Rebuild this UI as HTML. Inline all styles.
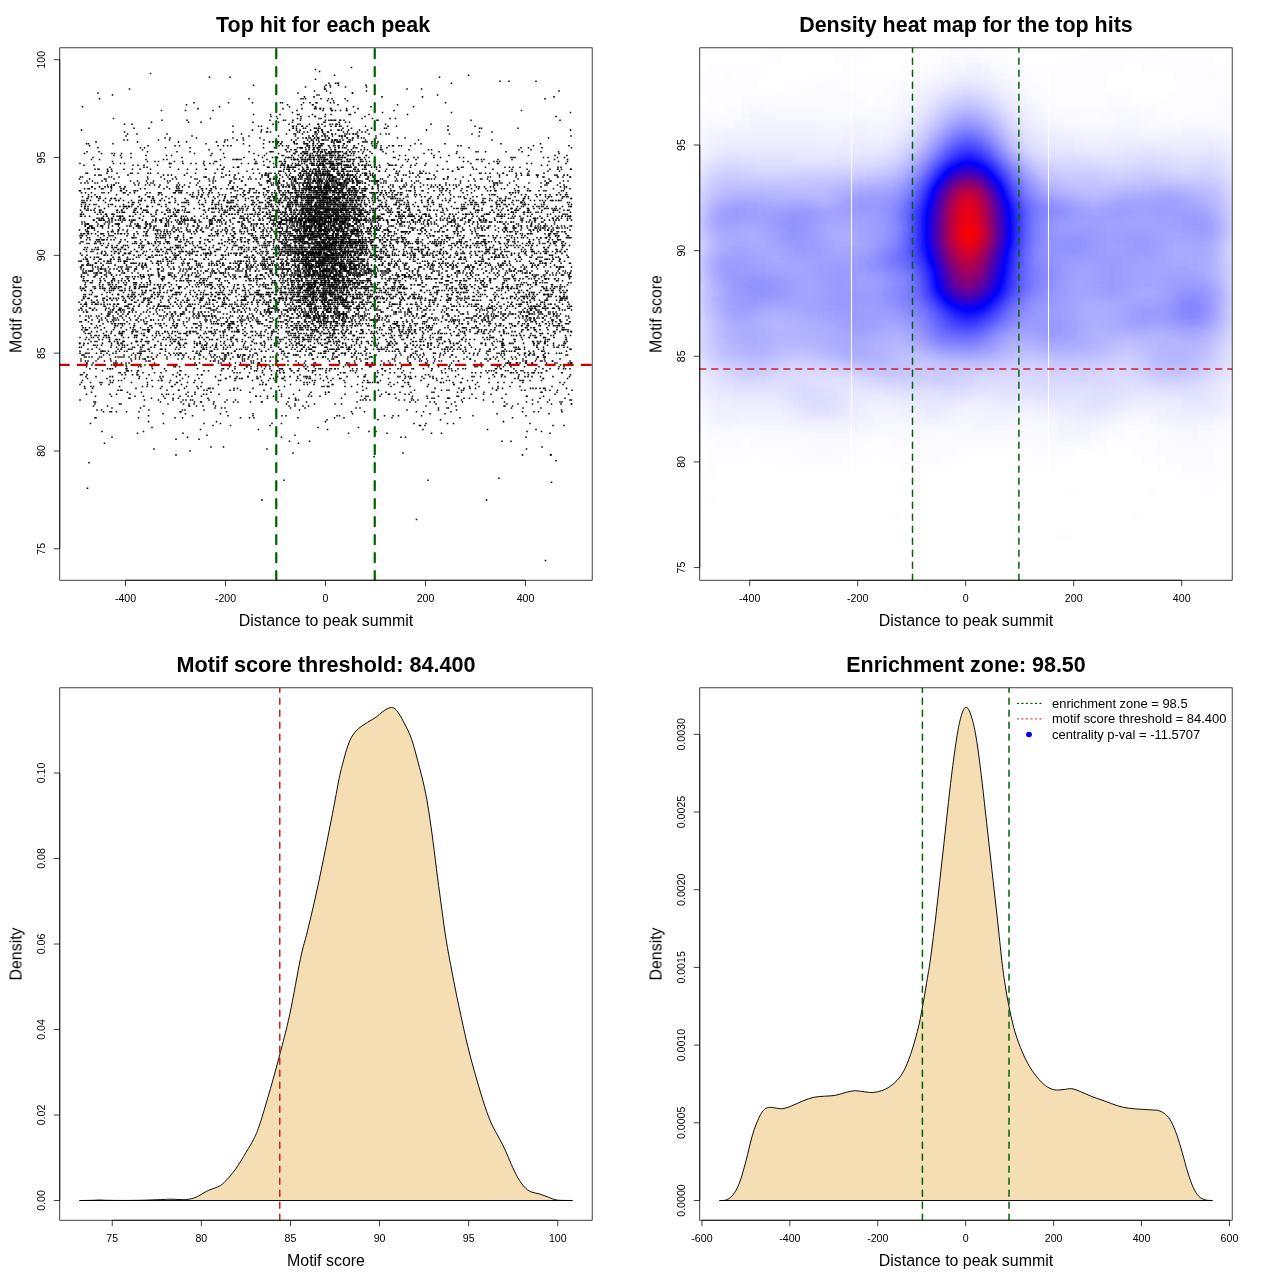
<!DOCTYPE html>
<html><head><meta charset="utf-8"><title>Motif enrichment</title>
<style>html,body{margin:0;padding:0;background:#fff}svg{display:block}text{font-family:"Liberation Sans",sans-serif;fill:#000}</style>
</head><body>
<svg width="1280" height="1280" viewBox="0 0 1280 1280">
<rect width="1280" height="1280" fill="#fff"/>
<defs><filter id="noop" filterUnits="userSpaceOnUse" x="0" y="0" width="1280" height="1280" color-interpolation-filters="sRGB"><feOffset dx="0" dy="0"/></filter><clipPath id="c1"><rect x="59.76" y="47.81" width="532.43" height="532.43"/></clipPath><clipPath id="c2"><rect x="699.76" y="47.81" width="532.43" height="532.43"/></clipPath><clipPath id="c3"><rect x="59.76" y="687.81" width="532.43" height="532.43"/></clipPath><clipPath id="c4"><rect x="699.76" y="687.81" width="532.43" height="532.43"/></clipPath><filter id="heat" filterUnits="userSpaceOnUse" x="666.5" y="14.5" width="599.0" height="599.0" color-interpolation-filters="sRGB"><feGaussianBlur stdDeviation="4"/><feComponentTransfer><feFuncR type="table" tableValues="1 0 1"/><feFuncG type="table" tableValues="1 0 0"/><feFuncB type="table" tableValues="1 1 0"/></feComponentTransfer></filter></defs>
<g id="p1">
<g clip-path="url(#c1)"><g stroke="#000" stroke-width="1.52" stroke-linecap="square" fill="none"><path d="M545.5 560.52h0M87.5 488.14h0M499 478.36h0M176 454.88h0M293 452.92h0M267 449.01h0M542 447.06h0M309.5 441.19h0M199 439.23h0M401 437.27h0M295 435.32h0M387 433.36h0M102 431.4h0m425 0h0M327.5 429.45h0M152 427.49h0M230.5 425.54h0m194.5 0h0M163.5 423.58h0m118 0h0m172 0h0M325.5 421.62h0M440.5 419.67h0M175 417.71h0m79 0h0m138 0h0M192.5 415.75h0m93.5 0h0m107 0h0m133 0h0M253 413.8h0m244 0h0M111.5 411.84h0m68.5 0h0m184.5 0h0m158 0h0M97 409.89h0m88 0h0m253.5 0h0M140.5 407.93h0m150 0h0m148 0h0m84.5 0h0M144 405.97h0m59 0h0m100 0h0m201 0h0M119.5 404.02h0m69.5 0h0m106 0h0m141 0h0m96.5 0h0m39 0h0M181 402.06h0m33 0h0m36.5 0h0m37.5 0h0m127.5 0h0m39.5 0h0m71.5 0h0m35.5 0h0M173 400.1h0m19.5 0h0m103 0h0m67.5 0h0m41.5 0h0m57 0h0m108.5 0h0M151.5 398.15h0m56.5 0h0m133.5 0h0m86 0h0m20.5 0h0m28 0h0M95.5 396.19h0m68 0h0m38 0h0m66 0h0m44 0h0m56.5 0h0m70.5 0h0m88.5 0h0M116.5 394.23h0m52 0h0m35 0h0m90 0h0m88 0h0m23.5 0h0m86 0h0M91.5 392.28h0m103.5 0h0m130.5 0h0m60.5 0h0m48 0h0m107 0h0M120.5 390.32h0m58.5 0h0m55 0h0m65.5 0h0m142 0h0m22 0h0m61.5 0h0m47 0h0M160.5 388.37h0m49.5 0h0m43 0h0m206 0h0m33.5 0h0m40.5 0h0m12 0h0M93.5 386.41h0m59 0h0m34 0h0m98 0h0m43 0h0m35 0h0m47.5 0h0m88 0h0M80 384.45h0m95 0h0m87.5 0h0m41.5 0h0m29 0h0m75.5 0h0m67 0h0M100 382.5h0m31.5 0h0m46 0h0m85.5 0h0m51.5 0h0m53 0h0m10 0h0m20 0h0m43 0h0m20 0h0m37.5 0h0m62 0h0M113.5 380.54h0m45 0h0m21.5 0h0m40.5 0h0m48 0h0m32 0h0m30.5 0h0m49.5 0h0m66 0h0m73.5 0h0m21.5 0h0M139 378.58h0m60 0h0m37 0h0m21 0h0m25 0h0m24.5 0h0m21 0h0m61 0h0m35.5 0h0m38.5 0h0m80.5 0h0M96 376.63h0m64 0h0m55.5 0h0m32.5 0h0m36.5 0h0m21.5 0h0m41 0h0m30 0h0m31.5 0h0m21.5 0h0m42 0h0m29.5 0h0m26.5 0h0m41.5 0h0M122 374.67h0m16 0h0m42 0h0m22 0h0m98 0h0m65.5 0h0m63 0h0m74 0h0M84 372.72h0m53 0h0m40.5 0h0m72 0h0m34.5 0h0m56.5 0h0m34.5 0h0m27 0h0m70 0h0m24 0h0m17.5 0h0m18.5 0h0m9.5 0h0M102.5 370.76h0m29 0h0m48.5 0h0m41.5 0h0m35 0h0m21 0h0m14 0h0m21 0h0m17 0h0m48 0h0m54 0h0m54.5 0h0m19.5 0h0m17.5 0h0M90 368.8h0m20.5 0h0m42 0h0m71 0h0m27.5 0h0m28.5 0h0m10.5 0h0m16 0h0m16.5 0h0m12.5 0h0m22 0h0m33 0h0m23.5 0h0m31.5 0h0m18 0h0m37.5 0h0m42.5 0h0m22.5 0h0M126.5 366.85h0m47.5 0h0m61 0h0m22.5 0h0m20.5 0h0m65.5 0h0m58 0h0m73.5 0h0m24.5 0h0m39.5 0h0M105 364.89h0m26.5 0h0m25.5 0h0m34.5 0h0m11.5 0h0m56.5 0h0m28.5 0h0m27 0h0m80.5 0h0m43.5 0h0m23 0h0m31.5 0h0m22 0h0m32 0h0M87 362.93h0m30 0h0m37.5 0h0m66.5 0h0m30.5 0h0m8 0h0m56 0h0m33.5 0h0m18.5 0h0m22.5 0h0m20.5 0h0m41 0h0m56.5 0h0m8.5 0h0m10 0h0m28.5 0h0m16.5 0h0M85.5 360.98h0m25.5 0h0m37.5 0h0m66.5 0h0m27.5 0h0m19 0h0m16.5 0h0m51.5 0h0m31.5 0h0m47 0h0m26.5 0h0m24 0h0m40 0h0m28 0h0m18.5 0h0M81 359.02h0m54.5 0h0m9.5 0h0m33 0h0m21.5 0h0m23 0h0m20 0h0m19 0h0m66.5 0h0m32 0h0m34.5 0h0m32 0h0m44 0h0m20 0h0m26 0h0m43.5 0h0M92 357.07h0m26 0h0m11 0h0m19.5 0h0m35 0h0m28 0h0m13 0h0m14 0h0m10.5 0h0m21.5 0h0m29.5 0h0m23 0h0m14 0h0m19.5 0h0m39 0h0m23 0h0m31.5 0h0m47 0h0m29 0h0m17.5 0h0M83 355.11h0m41 0h0m33.5 0h0m21 0h0m20.5 0h0m16 0h0m13.5 0h0m14.5 0h0m7 0h0m34 0h0m12.5 0h0m15 0h0m33.5 0h0m31 0h0m35.5 0h0m28.5 0h0m33.5 0h0m31 0h0m25 0h0m14 0h0M85.5 353.15h0m15.5 0h0m32.5 0h0m7.5 0h0m33 0h0m7 0h0m18.5 0h0m28 0h0m4 0h0m50 0h0m28.5 0h0m11 0h0m13 0h0m11.5 0h0m13 0h0m41.5 0h0m33.5 0h0m11.5 0h0m33 0h0m23.5 0h0m24 0h0m19.5 0h0m16.5 0h0M102.5 351.2h0m13.5 0h0m24 0h0m9.5 0h0m51 0h0m11.5 0h0m49.5 0h0m20.5 0h0m18.5 0h0m23.5 0h0m11.5 0h0m29 0h0m24.5 0h0m15.5 0h0m40 0h0m21.5 0h0m24 0h0m16.5 0h0m8.5 0h0m27 0h0M92 349.24h0m29.5 0h0m19.5 0h0m20 0h0m18 0h0m27.5 0h0m19.5 0h0m19.5 0h0m14 0h0m32 0h0m10.5 0h0m8 0h0m21.5 0h0m5.5 0h0m11.5 0h0m6 0h0m23 0h0m6.5 0h0m14 0h0m24 0h0m22.5 0h0m9.5 0h0m11.5 0h0m24.5 0h0m27 0h0m7.5 0h0m46.5 0h0M111 347.28h0m21.5 0h0m18.5 0h0m33.5 0h0m22 0h0m17 0h0m22 0h0m33 0h0m18.5 0h0m11.5 0h0m7 0h0m22.5 0h0m8.5 0h0m13.5 0h0m25.5 0h0m20.5 0h0m13.5 0h0m18.5 0h0m13 0h0m20.5 0h0m42.5 0h0m23 0h0m20 0h0M83.5 345.33h0m18 0h0m23 0h0m19.5 0h0m22 0h0m17.5 0h0m21 0h0m8 0h0m13 0h0m18 0h0m27.5 0h0m25 0h0m9 0h0m26 0h0m20.5 0h0m25.5 0h0m17.5 0h0m22.5 0h0m11 0h0m33 0h0m41 0h0m35 0h0m25 0h0M84 343.37h0m33.5 0h0m14 0h0m46.5 0h0m8.5 0h0m14 0h0m32.5 0h0m27.5 0h0m16.5 0h0m19.5 0h0m18 0h0m12.5 0h0m15.5 0h0m19 0h0m17 0h0m14 0h0m18 0h0m21 0h0m22 0h0m27.5 0h0m21 0h0m9 0h0m23 0h0m11 0h0M91 341.41h0m19 0h0m13.5 0h0m13 0h0m10 0h0m24 0h0m24 0h0m30 0h0m21 0h0m19 0h0m30.5 0h0m13.5 0h0m20 0h0m7.5 0h0m3.5 0h0m27 0h0m24 0h0m23 0h0m10 0h0m26 0h0m44.5 0h0m21 0h0m22.5 0h0m7.5 0h0M85.5 339.46h0m24 0h0m32 0h0m24.5 0h0m10 0h0m28 0h0m13 0h0m14 0h0m11.5 0h0m37 0h0m12 0h0m12 0h0m3.5 0h0m9.5 0h0m8 0h0m14 0h0m18 0h0m29.5 0h0m25 0h0m19.5 0h0m18.5 0h0m17 0h0m21.5 0h0m15.5 0h0m42.5 0h0m21 0h0M93.5 337.5h0m15 0h0m26 0h0m29.5 0h0m14 0h0m24 0h0m21.5 0h0m25 0h0m22 0h0m16 0h0m11.5 0h0m4.5 0h0m9 0h0m15.5 0h0m3 0h0m6 0h0m21.5 0h0m14.5 0h0m20.5 0h0m21.5 0h0m19 0h0m8.5 0h0m48.5 0h0m3.5 0h0m41.5 0h0m9 0h0M91 335.55h0m13.5 0h0m10.5 0h0m20 0h0m9.5 0h0m25 0h0m31 0h0m26.5 0h0m25.5 0h0m8.5 0h0m28 0h0m10 0h0m11.5 0h0m19.5 0h0m13.5 0h0m10.5 0h0m30 0h0m17 0h0m21.5 0h0m35 0h0m43.5 0h0m15.5 0h0m7.5 0h0m16.5 0h0m30 0h0M103.5 333.59h0m17.5 0h0m20.5 0h0m21 0h0m18 0h0m9.5 0h0m16.5 0h0m17 0h0m37 0h0m17.5 0h0m17 0h0m9 0h0m9 0h0m11 0h0m5.5 0h0m5 0h0m8 0h0m8.5 0h0m15.5 0h0m11 0h0m13 0h0m18 0h0m7.5 0h0m19 0h0m9.5 0h0m20 0h0m18.5 0h0m23.5 0h0m33.5 0h0m15 0h0M106.5 331.63h0m17.5 0h0m13.5 0h0m19 0h0m11 0h0m19.5 0h0m6 0h0m16 0h0m11 0h0m12 0h0m6.5 0h0m14 0h0m19.5 0h0m14 0h0m12 0h0m20 0h0m16 0h0m12 0h0m16.5 0h0m14 0h0m26 0h0m12 0h0m24 0h0m24 0h0m16 0h0m14.5 0h0m19 0h0m41.5 0h0m17.5 0h0M85.5 329.68h0m28 0h0m29.5 0h0m6.5 0h0m75.5 0h0m18 0h0m49 0h0m8 0h0m8 0h0m6.5 0h0m9.5 0h0m10.5 0h0m12.5 0h0m15.5 0h0m27 0h0m10 0h0m12 0h0m14 0h0m24.5 0h0m29 0h0m12 0h0m31 0h0m12.5 0h0m13.5 0h0m16 0h0M85.5 327.72h0m19 0h0m29 0h0m28.5 0h0m24.5 0h0m14.5 0h0m28 0h0m7.5 0h0m33.5 0h0m19 0h0m8 0h0m5.5 0h0m13 0h0m7.5 0h0m8 0h0m16 0h0m42 0h0m10 0h0m21 0h0m7 0h0m18 0h0m18.5 0h0m10.5 0h0m21 0h0m30.5 0h0m9 0h0m29.5 0h0M115 325.76h0m19 0h0m26 0h0m14.5 0h0m24.5 0h0m29 0h0m14 0h0m25 0h0m14.5 0h0m11 0h0m8 0h0m7 0h0m8 0h0m6 0h0m11 0h0m5 0h0m9.5 0h0m8.5 0h0m13.5 0h0m14.5 0h0m14 0h0m6.5 0h0m22.5 0h0m6 0h0m43.5 0h0m20.5 0h0m16 0h0m3 0h0m13 0h0m25 0h0m6 0h0M103 323.81h0m15.5 0h0m6 0h0m22 0h0m17.5 0h0m19.5 0h0m13.5 0h0m18.5 0h0m6 0h0m7.5 0h0m4.5 0h0m24.5 0h0m27.5 0h0m11 0h0m15 0h0m10 0h0m9 0h0m9 0h0m13 0h0m7.5 0h0m23.5 0h0m11.5 0h0m8.5 0h0m14 0h0m19 0h0m26 0h0m26.5 0h0m12 0h0m17 0h0m10 0h0m18 0h0m13.5 0h0M80 321.85h0m19 0h0m28 0h0m47 0h0m32 0h0m20 0h0m6 0h0m9 0h0m16.5 0h0m13 0h0m10 0h0m11 0h0m8 0h0m9 0h0m8.5 0h0m4 0h0m3 0h0m4 0h0m3.5 0h0m5 0h0m8 0h0m5 0h0m10 0h0m27.5 0h0m10.5 0h0m10 0h0m19 0h0m25 0h0m16.5 0h0m19 0h0m32 0h0m16.5 0h0m13 0h0m13 0h0M85.5 319.9h0m16.5 0h0m14 0h0m20 0h0m15 0h0m11.5 0h0m17 0h0m27.5 0h0m20.5 0h0m17.5 0h0m13 0h0m27 0h0m19.5 0h0m9.5 0h0m6.5 0h0m7 0h0m14 0h0m4 0h0m15 0h0m9.5 0h0m3.5 0h0m8.5 0h0m30 0h0m26.5 0h0m14 0h0m5 0h0m17.5 0h0m10.5 0h0m18.5 0h0m26.5 0h0m21.5 0h0m8 0h0M101.5 317.94h0m16 0h0m28.5 0h0m40.5 0h0m12 0h0m22 0h0m17.5 0h0m13 0h0m21.5 0h0m18 0h0m6 0h0m11.5 0h0m5.5 0h0m2.5 0h0m3.5 0h0m4.5 0h0m2 0h0m7 0h0m6 0h0m5 0h0m6.5 0h0m13.5 0h0m15.5 0h0m22 0h0m27.5 0h0m6 0h0m31.5 0h0m4.5 0h0m13.5 0h0m10 0h0m21 0h0m14 0h0m4.5 0h0m9 0h0m26 0h0M91 315.98h0m17 0h0m13.5 0h0m27.5 0h0m17 0h0m14.5 0h0m19 0h0m7 0h0m6 0h0m20 0h0m15 0h0m16 0h0m17 0h0m7.5 0h0m15.5 0h0m3 0h0m2.5 0h0m5 0h0m4.5 0h0m2.5 0h0m4 0h0m6 0h0m7 0h0m2 0h0m6 0h0m7.5 0h0m7 0h0m4 0h0m15 0h0m8 0h0m25.5 0h0m9.5 0h0m20.5 0h0m15.5 0h0m21.5 0h0m7 0h0m8.5 0h0m7.5 0h0m19.5 0h0m4.5 0h0m19.5 0h0m12.5 0h0M108 314.03h0m15 0h0m30.5 0h0m18 0h0m9.5 0h0m12.5 0h0m9 0h0m47 0h0m16.5 0h0m19 0h0m12.5 0h0m9.5 0h0m8.5 0h0m6 0h0m13.5 0h0m4.5 0h0m3 0h0m1.5 0h0m2 0h0m12.5 0h0m18.5 0h0m28 0h0m12 0h0m29.5 0h0m16 0h0m21 0h0m17.5 0h0m8 0h0m4 0h0m16.5 0h0m9.5 0h0m11 0h0m7 0h0M87.5 312.07h0m28.5 0h0m13 0h0m14.5 0h0m21 0h0m18.5 0h0m15.5 0h0m10 0h0m22 0h0m10.5 0h0m19.5 0h0m8.5 0h0m2.5 0h0m16 0h0m14.5 0h0m4 0h0m6.5 0h0m5.5 0h0m5 0h0m5.5 0h0m1.5 0h0m4.5 0h0m4.5 0h0m4.5 0h0m15.5 0h0m24 0h0m13 0h0m12 0h0m14 0h0m45.5 0h0m31 0h0m22.5 0h0m6 0h0m11 0h0m10.5 0h0M79 310.11h0m14 0h0m20 0h0m7 0h0m12 0h0m27.5 0h0m34 0h0m22.5 0h0m28.5 0h0m20 0h0m4.5 0h0m10 0h0m8 0h0m6.5 0h0m4 0h0m12 0h0m6 0h0m10.5 0h0m2 0h0m8.5 0h0m21 0h0m8.5 0h0m13 0h0m29 0h0m15.5 0h0m10.5 0h0m18.5 0h0m24 0h0m10.5 0h0m36 0h0m8 0h0m8 0h0m26 0h0M89.5 308.16h0m19.5 0h0m19 0h0m25 0h0m16.5 0h0m25 0h0m15 0h0m23 0h0m14 0h0m23.5 0h0m7.5 0h0m18 0h0m9 0h0m9 0h0m1.5 0h0m9 0h0m5 0h0m2.5 0h0m5 0h0m9 0h0m3.5 0h0m7 0h0m5.5 0h0m9 0h0m27.5 0h0m13.5 0h0m15.5 0h0m54.5 0h0m8.5 0h0m2.5 0h0m23 0h0m17 0h0m10 0h0m5.5 0h0m10.5 0h0M83 306.2h0m30.5 0h0m13.5 0h0m12 0h0m19.5 0h0m4.5 0h0m4 0h0m14.5 0h0m9.5 0h0m23 0h0m15 0h0m12 0h0m28.5 0h0m16.5 0h0m13 0h0m8 0h0m2 0h0m7 0h0m8.5 0h0m1.5 0h0m4.5 0h0m12.5 0h0m3 0h0m4.5 0h0m8.5 0h0m14.5 0h0m18 0h0m34 0h0m18 0h0m10.5 0h0m13.5 0h0m9 0h0m15.5 0h0m9 0h0m12 0h0m18 0h0m5 0h0m8.5 0h0m23 0h0M84.5 304.25h0m7.5 0h0m6 0h0m12 0h0m8 0h0m13.5 0h0m27 0h0m22 0h0m14.5 0h0m14.5 0h0m14.5 0h0m8 0h0m11 0h0m14.5 0h0m11 0h0m19 0h0m14.5 0h0m6.5 0h0m2.5 0h0m4 0h0m8.5 0h0m5 0h0m3 0h0m6 0h0m4.5 0h0m5.5 0h0m11.5 0h0m8 0h0m25.5 0h0m2.5 0h0m12 0h0m10 0h0m21 0h0m33.5 0h0m18 0h0m22 0h0m9.5 0h0m19.5 0h0m10.5 0h0M79 302.29h0m15.5 0h0m31 0h0m16.5 0h0m9.5 0h0m24 0h0m24.5 0h0m22.5 0h0m25.5 0h0m10.5 0h0m9.5 0h0m9.5 0h0m15 0h0m7.5 0h0m5 0h0m5.5 0h0m3 0h0m8 0h0m3 0h0m3 0h0m6.5 0h0m6.5 0h0m3 0h0m4 0h0m4 0h0m4.5 0h0m6.5 0h0m8.5 0h0m13 0h0m16.5 0h0m32.5 0h0m32.5 0h0m42.5 0h0m19 0h0m15.5 0h0M82 300.33h0m25 0h0m16 0h0m15 0h0m11 0h0m29 0h0m11 0h0m12 0h0m12 0h0m2 0h0m26.5 0h0m2 0h0m2.5 0h0m14.5 0h0m14.5 0h0m8 0h0m8.5 0h0m7 0h0m.5 0h0m6.5 0h0m7 0h0m0 0h0m3.5 0h0m4 0h0m3 0h0m2.5 0h0m4.5 0h0m2.5 0h0m5 0h0m4.5 0h0m2.5 0h0m2 0h0m21.5 0h0m33 0h0m24 0h0m7.5 0h0m14 0h0m10 0h0m17 0h0m7 0h0m37 0h0m22 0h0m8 0h0m14.5 0h0M88 298.38h0m22 0h0m8.5 0h0m25.5 0h0m6 0h0m26 0h0m25.5 0h0m17.5 0h0m8 0h0m18.5 0h0m29 0h0m6 0h0m5.5 0h0m6 0h0m12.5 0h0m2.5 0h0m6 0h0m9 0h0m4.5 0h0m8.5 0h0m3.5 0h0m4 0h0m10.5 0h0m2 0h0m5 0h0m14 0h0m3.5 0h0m6.5 0h0m9 0h0m10 0h0m12 0h0m5 0h0m16 0h0m15 0h0m14 0h0m37 0h0m12.5 0h0m9.5 0h0m10 0h0m28 0h0m5 0h0M96.5 296.42h0m26.5 0h0m9 0h0m8.5 0h0m17 0h0m11.5 0h0m27 0h0m19.5 0h0m28.5 0h0m10.5 0h0m9 0h0m19 0h0m11.5 0h0m5 0h0m5 0h0m4 0h0m5 0h0m3 0h0m4 0h0m2.5 0h0m3 0h0m6.5 0h0m5 0h0m3.5 0h0m1 0h0m11 0h0m10 0h0m7.5 0h0m7 0h0m16.5 0h0m16.5 0h0m9 0h0m28.5 0h0m21 0h0m12 0h0m18 0h0m18 0h0m8 0h0m8 0h0m16.5 0h0m11 0h0M84 294.46h0m18 0h0m16.5 0h0m15.5 0h0m18 0h0m20.5 0h0m4 0h0m20.5 0h0m8.5 0h0m7 0h0m10.5 0h0m16 0h0m12 0h0m7 0h0m3 0h0m5 0h0m4.5 0h0m10 0h0m7 0h0m7.5 0h0m4 0h0m9 0h0m2 0h0m3 0h0m4.5 0h0m4.5 0h0m2 0h0m2.5 0h0m4 0h0m1 0h0m2.5 0h0m4.5 0h0m7 0h0m5 0h0m6.5 0h0m4.5 0h0m6 0h0m19 0h0m9.5 0h0m10 0h0m10 0h0m21 0h0m15 0h0m30.5 0h0m19 0h0m28 0h0m14.5 0h0m3 0h0m3.5 0h0M107 292.51h0m25.5 0h0m12.5 0h0m12.5 0h0m9.5 0h0m11.5 0h0m16.5 0h0m21 0h0m6.5 0h0m23 0h0m12.5 0h0m10.5 0h0m8 0h0m6 0h0m2.5 0h0m7 0h0m5.5 0h0m5 0h0m5.5 0h0m4 0h0m1 0h0m3 0h0m3.5 0h0m3 0h0m2.5 0h0m2.5 0h0m2 0h0m2.5 0h0m2.5 0h0m6.5 0h0m2 0h0m6 0h0m15.5 0h0m10 0h0m9.5 0h0m14.5 0h0m6 0h0m30 0h0m3 0h0m21 0h0m6.5 0h0m13.5 0h0m39.5 0h0m11.5 0h0m10 0h0m24.5 0h0M85.5 290.55h0m24 0h0m12 0h0m10 0h0m18.5 0h0m20.5 0h0m23 0h0m30 0h0m12.5 0h0m12.5 0h0m29 0h0m12 0h0m8.5 0h0m6.5 0h0m2.5 0h0m1.5 0h0m5 0h0m4 0h0m6 0h0m2.5 0h0m4 0h0m5 0h0m2 0h0m6.5 0h0m4.5 0h0m17.5 0h0m6.5 0h0m14 0h0m34.5 0h0m6.5 0h0m12 0h0m13 0h0m25.5 0h0m21.5 0h0m22.5 0h0m24 0h0m6.5 0h0m15 0h0M83 288.59h0m17 0h0m9.5 0h0m6 0h0m19 0h0m19.5 0h0m19.5 0h0m37.5 0h0m13.5 0h0m20.5 0h0m24 0h0m16 0h0m6 0h0m5.5 0h0m4 0h0m1.5 0h0m5.5 0h0m3 0h0m1.5 0h0m6 0h0m6 0h0m5.5 0h0m3.5 0h0m3 0h0m5 0h0m2.5 0h0m3.5 0h0m4 0h0m7 0h0m7 0h0m3 0h0m16 0h0m8.5 0h0m7.5 0h0m4 0h0m7 0h0m39 0h0m10.5 0h0m4.5 0h0m16 0h0m20.5 0h0m9 0h0m6 0h0m27.5 0h0m9.5 0h0M80.5 286.64h0m14.5 0h0m16.5 0h0m7.5 0h0m15.5 0h0m7 0h0m5 0h0m13.5 0h0m19 0h0m8 0h0m18.5 0h0m13.5 0h0m15 0h0m29.5 0h0m18 0h0m11.5 0h0m6 0h0m3.5 0h0m6.5 0h0m2 0h0m3 0h0m3.5 0h0m9.5 0h0m4 0h0m4 0h0m1.5 0h0m5 0h0m4.5 0h0m2 0h0m8.5 0h0m6.5 0h0m5.5 0h0m6.5 0h0m18 0h0m7 0h0m24 0h0m14 0h0m22 0h0m11.5 0h0m13 0h0m12.5 0h0m10.5 0h0m12.5 0h0m26.5 0h0m13.5 0h0M99.5 284.68h0m13 0h0m21.5 0h0m13.5 0h0m10.5 0h0m13.5 0h0m26.5 0h0m10.5 0h0m3 0h0m23 0h0m14.5 0h0m13.5 0h0m5.5 0h0m14.5 0h0m9.5 0h0m6 0h0m5 0h0m3 0h0m2.5 0h0m2.5 0h0m3 0h0m1.5 0h0m5.5 0h0m1.5 0h0m3 0h0m4 0h0m2.5 0h0m1 0h0m.5 0h0m5 0h0m4.5 0h0m3 0h0m6.5 0h0m7 0h0m15.5 0h0m19.5 0h0m16.5 0h0m7 0h0m26.5 0h0m17 0h0m13.5 0h0m12 0h0m31 0h0m10 0h0m23.5 0h0M85.5 282.73h0m22.5 0h0m15.5 0h0m12 0h0m15 0h0m46.5 0h0m6.5 0h0m18 0h0m42.5 0h0m11 0h0m9 0h0m10.5 0h0m9.5 0h0m4 0h0m2.5 0h0m3.5 0h0m1.5 0h0m3 0h0m4 0h0m2.5 0h0m3.5 0h0m4 0h0m4 0h0m3.5 0h0m4.5 0h0m5.5 0h0m4.5 0h0m3 0h0m2 0h0m3 0h0m8.5 0h0m14 0h0m10 0h0m41 0h0m14.5 0h0m30 0h0m22.5 0h0m21 0h0m12 0h0m11 0h0M84.5 280.77h0m16 0h0m11.5 0h0m13 0h0m25 0h0m30 0h0m8 0h0m11.5 0h0m19.5 0h0m27 0h0m11 0h0m22.5 0h0m8 0h0m5.5 0h0m6 0h0m2.5 0h0m6 0h0m7 0h0m1 0h0m5.5 0h0m3 0h0m1.5 0h0m3.5 0h0m6 0h0m1 0h0m3 0h0m3 0h0m4.5 0h0m3.5 0h0m1.5 0h0m6 0h0m5.5 0h0m5 0h0m21.5 0h0m10.5 0h0m46 0h0m9.5 0h0m8.5 0h0m13.5 0h0m5.5 0h0m23.5 0h0m30.5 0h0m25.5 0h0M113 278.81h0m9 0h0m12 0h0m27.5 0h0m2.5 0h0m24 0h0m17 0h0m14.5 0h0m29 0h0m7.5 0h0m4 0h0m20.5 0h0m10 0h0m7.5 0h0m8 0h0m8.5 0h0m5.5 0h0m4 0h0m4.5 0h0m3 0h0m2 0h0m1.5 0h0m2.5 0h0m5 0h0m1.5 0h0m5.5 0h0m6 0h0m13 0h0m17 0h0m8 0h0m17 0h0m15.5 0h0m5.5 0h0m5.5 0h0m15.5 0h0m23 0h0m14.5 0h0m5.5 0h0m13 0h0m11.5 0h0m14.5 0h0m11.5 0h0m8.5 0h0M81.5 276.86h0m13.5 0h0m31 0h0m9 0h0m8.5 0h0m15.5 0h0m13 0h0m16.5 0h0m20 0h0m22 0h0m9 0h0m7 0h0m17.5 0h0m19.5 0h0m10.5 0h0m6 0h0m5 0h0m1 0h0m6 0h0m6.5 0h0m3.5 0h0m2.5 0h0m2.5 0h0m.5 0h0m4 0h0m1 0h0m2 0h0m4.5 0h0m2.5 0h0m2.5 0h0m10.5 0h0m16.5 0h0m5.5 0h0m22 0h0m6.5 0h0m4 0h0m9.5 0h0m11.5 0h0m19 0h0m38.5 0h0m26 0h0m22 0h0m34 0h0M95.5 274.9h0m16 0h0m29 0h0m8 0h0m10 0h0m11.5 0h0m15 0h0m11.5 0h0m32.5 0h0m18 0h0m13.5 0h0m2 0h0m14.5 0h0m7 0h0m7 0h0m6.5 0h0m1.5 0h0m5.5 0h0m3.5 0h0m2.5 0h0m3 0h0m1.5 0h0m4.5 0h0m2.5 0h0m2.5 0h0m2.5 0h0m3.5 0h0m4.5 0h0m3.5 0h0m2.5 0h0m8 0h0m4 0h0m4.5 0h0m3.5 0h0m1.5 0h0m9.5 0h0m11 0h0m14 0h0m5.5 0h0m2.5 0h0m10 0h0m11.5 0h0m25 0h0m19.5 0h0m24.5 0h0m19 0h0m22 0h0m13.5 0h0m12.5 0h0M83 272.94h0m11 0h0m6 0h0m9 0h0m15.5 0h0m34 0h0m20 0h0m19.5 0h0m17 0h0m6 0h0m4.5 0h0m40 0h0m10 0h0m11.5 0h0m9 0h0m7 0h0m5.5 0h0m4.5 0h0m2 0h0m3 0h0m5 0h0m4 0h0m4 0h0m2 0h0m6.5 0h0m1.5 0h0m7.5 0h0m3.5 0h0m5 0h0m3 0h0m6 0h0m3 0h0m13 0h0m6.5 0h0m29 0h0m24.5 0h0m18 0h0m10.5 0h0m23.5 0h0m13.5 0h0m18 0h0m21 0h0m13 0h0m11 0h0M90 270.99h0m8.5 0h0m20.5 0h0m15.5 0h0m28.5 0h0m34.5 0h0m10 0h0m11.5 0h0m21 0h0m10 0h0m20 0h0m12.5 0h0m8.5 0h0m7 0h0m5.5 0h0m4 0h0m2.5 0h0m4.5 0h0m2.5 0h0m4.5 0h0m1 0h0m1 0h0m2 0h0m.5 0h0m2.5 0h0m1 0h0m4 0h0m2.5 0h0m3 0h0m1 0h0m4.5 0h0m1.5 0h0m2 0h0m3 0h0m9 0h0m6 0h0m5 0h0m4 0h0m8 0h0m6 0h0m20.5 0h0m9 0h0m20.5 0h0m19.5 0h0m5 0h0m23 0h0m23 0h0m4.5 0h0m8 0h0m26 0h0m23 0h0M98 269.03h0m4 0h0m12 0h0m13.5 0h0m9 0h0m22 0h0m15.5 0h0m12 0h0m5 0h0m17.5 0h0m18 0h0m7 0h0m13.5 0h0m16 0h0m5 0h0m9 0h0m5 0h0m3 0h0m4.5 0h0m8 0h0m4.5 0h0m5 0h0m2.5 0h0m3 0h0m8 0h0m3.5 0h0m3 0h0m3 0h0m3.5 0h0m1 0h0m6 0h0m1 0h0m2.5 0h0m1 0h0m5 0h0m2 0h0m1.5 0h0m3.5 0h0m7 0h0m4 0h0m6.5 0h0m13.5 0h0m16.5 0h0m10.5 0h0m16 0h0m22 0h0m24.5 0h0m19 0h0m18.5 0h0m22.5 0h0M81.5 267.08h0m20 0h0m20.5 0h0m14.5 0h0m10 0h0m32.5 0h0m21.5 0h0m28.5 0h0m10 0h0m11 0h0m2.5 0h0m13 0h0m15.5 0h0m14.5 0h0m3.5 0h0m7 0h0m3 0h0m1.5 0h0m1.5 0h0m4.5 0h0m1 0h0m2 0h0m7 0h0m5.5 0h0m3 0h0m6 0h0m2.5 0h0m2 0h0m5.5 0h0m4 0h0m4 0h0m6 0h0m20 0h0m19.5 0h0m15.5 0h0m10.5 0h0m17 0h0m9 0h0m11 0h0m5 0h0m13 0h0m15.5 0h0m25.5 0h0m17.5 0h0m15.5 0h0m4 0h0M87 265.12h0m5.5 0h0m46.5 0h0m7 0h0m42 0h0m21 0h0m8.5 0h0m21 0h0m12.5 0h0m11 0h0m7 0h0m3.5 0h0m9.5 0h0m4.5 0h0m9 0h0m8 0h0m3 0h0m2.5 0h0m4 0h0m3.5 0h0m3.5 0h0m3.5 0h0m6 0h0m5.5 0h0m.5 0h0m5 0h0m1.5 0h0m7 0h0m1.5 0h0m4.5 0h0m3 0h0m6.5 0h0m14.5 0h0m9.5 0h0m8.5 0h0m28 0h0m9 0h0m17 0h0m20 0h0m19.5 0h0m12.5 0h0m29.5 0h0m13.5 0h0M95.5 263.16h0m11.5 0h0m17.5 0h0m9.5 0h0m11.5 0h0m15.5 0h0m21 0h0m7 0h0m20 0h0m11 0h0m10.5 0h0m9.5 0h0m15 0h0m12.5 0h0m13 0h0m6.5 0h0m8 0h0m8 0h0m3 0h0m3 0h0m7 0h0m1.5 0h0m2.5 0h0m1 0h0m1.5 0h0m2.5 0h0m4 0h0m2 0h0m1 0h0m3.5 0h0m2.5 0h0m2.5 0h0m3 0h0m6 0h0m2 0h0m2.5 0h0m8 0h0m21 0h0m12.5 0h0m11.5 0h0m22 0h0m13 0h0m6 0h0m16 0h0m21.5 0h0m12.5 0h0m11.5 0h0m30.5 0h0m5.5 0h0m24 0h0M81 261.21h0m23 0h0m6.5 0h0m14 0h0m33 0h0m10 0h0m27.5 0h0m22 0h0m21 0h0m3.5 0h0m8 0h0m14.5 0h0m9.5 0h0m13 0h0m6.5 0h0m2 0h0m4 0h0m3.5 0h0m3.5 0h0m2.5 0h0m1 0h0m1.5 0h0m2 0h0m2 0h0m4 0h0m1.5 0h0m1 0h0m2 0h0m1.5 0h0m2.5 0h0m3 0h0m2.5 0h0m2.5 0h0m1 0h0m5.5 0h0m5 0h0m4.5 0h0m4 0h0m7 0h0m5 0h0m24 0h0m9 0h0m24.5 0h0m18 0h0m35.5 0h0m26.5 0h0m15 0h0m21.5 0h0m23 0h0M87 259.25h0m14 0h0m17.5 0h0m11.5 0h0m33 0h0m12.5 0h0m9.5 0h0m19.5 0h0m21 0h0m28.5 0h0m12.5 0h0m4 0h0m8 0h0m9 0h0m7 0h0m4.5 0h0m4.5 0h0m3.5 0h0m.5 0h0m6 0h0m5.5 0h0m3.5 0h0m1.5 0h0m1.5 0h0m2 0h0m1.5 0h0m3 0h0m1 0h0m1 0h0m2.5 0h0m4 0h0m7 0h0m6.5 0h0m4.5 0h0m3 0h0m6.5 0h0m10.5 0h0m3 0h0m32 0h0m27.5 0h0m19.5 0h0m21.5 0h0m12.5 0h0m42 0h0m11 0h0m12.5 0h0M94.5 257.29h0m24.5 0h0m20 0h0m11.5 0h0m19.5 0h0m10.5 0h0m65 0h0m6.5 0h0m16.5 0h0m5 0h0m20.5 0h0m4 0h0m5 0h0m3.5 0h0m2 0h0m5.5 0h0m.5 0h0m3 0h0m3 0h0m2.5 0h0m2.5 0h0m1.5 0h0m2 0h0m2 0h0m3.5 0h0m2.5 0h0m4 0h0m1.5 0h0m5.5 0h0m3.5 0h0m6.5 0h0m14 0h0m7.5 0h0m8 0h0m23.5 0h0m11.5 0h0m21 0h0m17 0h0m10 0h0m21.5 0h0m5 0h0m7 0h0m16 0h0m20 0h0m18.5 0h0M82 255.34h0m25.5 0h0m31 0h0m17 0h0m18.5 0h0m12 0h0m15 0h0m14.5 0h0m10 0h0m14.5 0h0m21 0h0m19.5 0h0m8.5 0h0m6 0h0m3.5 0h0m5.5 0h0m2 0h0m4.5 0h0m3.5 0h0m4.5 0h0m1 0h0m5.5 0h0m1.5 0h0m1.5 0h0m1 0h0m3 0h0m2 0h0m3 0h0m4.5 0h0m2 0h0m6.5 0h0m1 0h0m4.5 0h0m5.5 0h0m11 0h0m2 0h0m11.5 0h0m7 0h0m10.5 0h0m8 0h0m12 0h0m6.5 0h0m13 0h0m29 0h0m24.5 0h0m7 0h0m15.5 0h0m32.5 0h0M97.5 253.38h0m17 0h0m11 0h0m17.5 0h0m32 0h0m17 0h0m15 0h0m4.5 0h0m24.5 0h0m6 0h0m25 0h0m9 0h0m5.5 0h0m7 0h0m7 0h0m2.5 0h0m2 0h0m2.5 0h0m4.5 0h0m2 0h0m2.5 0h0m1.5 0h0m2 0h0m2 0h0m1.5 0h0m2 0h0m3.5 0h0m1.5 0h0m6.5 0h0m3 0h0m3.5 0h0m4.5 0h0m1.5 0h0m3.5 0h0m7 0h0m6 0h0m4.5 0h0m9.5 0h0m17.5 0h0m17.5 0h0m12 0h0m5.5 0h0m12 0h0m8 0h0m15.5 0h0m21.5 0h0m10 0h0m20 0h0m20 0h0m12 0h0M91 251.43h0m20.5 0h0m19.5 0h0m15.5 0h0m12 0h0m13 0h0m11.5 0h0m10 0h0m17.5 0h0m33.5 0h0m12 0h0m12 0h0m15 0h0m3 0h0m4.5 0h0m3.5 0h0m4 0h0m2 0h0m4 0h0m4 0h0m2.5 0h0m2.5 0h0m3.5 0h0m3.5 0h0m1 0h0m6 0h0m3 0h0m3.5 0h0m8 0h0m3.5 0h0m2 0h0m.5 0h0m3 0h0m2 0h0m1.5 0h0m4 0h0m7 0h0m4.5 0h0m8 0h0m6.5 0h0m20 0h0m15 0h0m8.5 0h0m12.5 0h0m23 0h0m16.5 0h0m8 0h0m17.5 0h0m18.5 0h0m9 0h0m13 0h0m11.5 0h0m7.5 0h0M92 249.47h0m21.5 0h0m11 0h0m25.5 0h0m11.5 0h0m9 0h0m22 0h0m16.5 0h0m11 0h0m21.5 0h0m12 0h0m18.5 0h0m9.5 0h0m7 0h0m4 0h0m5.5 0h0m4.5 0h0m4 0h0m5.5 0h0m3 0h0m2.5 0h0m2.5 0h0m2 0h0m1 0h0m1.5 0h0m2.5 0h0m1.5 0h0m2.5 0h0m2 0h0m1.5 0h0m1.5 0h0m4 0h0m1.5 0h0m3.5 0h0m8.5 0h0m6 0h0m1.5 0h0m5 0h0m9 0h0m11 0h0m10.5 0h0m19.5 0h0m6 0h0m18.5 0h0m20 0h0m29 0h0m8 0h0m27.5 0h0m21.5 0h0m20.5 0h0M98 247.51h0m14.5 0h0m10 0h0m19.5 0h0m23 0h0m12.5 0h0m3 0h0m18.5 0h0m14 0h0m26 0h0m3.5 0h0m13 0h0m11 0h0m12 0h0m4 0h0m3 0h0m5 0h0m5 0h0m4 0h0m2.5 0h0m2.5 0h0m4.5 0h0m3.5 0h0m2 0h0m3 0h0m3 0h0m1.5 0h0m1.5 0h0m1 0h0m1.5 0h0m1 0h0m2.5 0h0m2.5 0h0m3 0h0m5 0h0m1.5 0h0m4.5 0h0m4.5 0h0m2 0h0m4 0h0m6 0h0m4 0h0m9.5 0h0m15 0h0m20 0h0m14.5 0h0m26.5 0h0m18 0h0m16 0h0m14.5 0h0m18 0h0m25.5 0h0M102 245.56h0m21.5 0h0m18.5 0h0m16.5 0h0m21.5 0h0m17.5 0h0m36 0h0m10.5 0h0m21.5 0h0m8 0h0m11.5 0h0m3.5 0h0m1.5 0h0m6 0h0m7 0h0m12.5 0h0m4 0h0m1.5 0h0m4 0h0m1.5 0h0m2 0h0m2 0h0m1.5 0h0m.5 0h0m2.5 0h0m.5 0h0m4 0h0m1 0h0m3 0h0m3.5 0h0m3.5 0h0m2 0h0m7 0h0m4.5 0h0m7.5 0h0m4 0h0m9 0h0m8.5 0h0m29.5 0h0m14 0h0m12.5 0h0m12 0h0m9.5 0h0m15 0h0m25.5 0h0m15 0h0m11 0h0m25.5 0h0M80 243.6h0m16 0h0m12.5 0h0m28 0h0m12.5 0h0m11 0h0m25 0h0m19.5 0h0m17.5 0h0m36 0h0m15.5 0h0m9.5 0h0m3 0h0m12.5 0h0m4.5 0h0m4 0h0m2.5 0h0m3.5 0h0m1 0h0m2.5 0h0m1.5 0h0m1.5 0h0m3 0h0m2 0h0m2.5 0h0m3 0h0m1 0h0m2 0h0m2 0h0m3.5 0h0m3 0h0m4 0h0m4.5 0h0m2.5 0h0m1.5 0h0m2 0h0m5 0h0m5 0h0m16.5 0h0m22 0h0m4 0h0m9 0h0m14.5 0h0m6.5 0h0m13.5 0h0m9 0h0m15.5 0h0m8.5 0h0m14.5 0h0m15.5 0h0m18 0h0m17.5 0h0m15 0h0M98 241.64h0m29.5 0h0m20.5 0h0m12 0h0m8.5 0h0m11.5 0h0m12.5 0h0m17.5 0h0m23 0h0m11.5 0h0m12 0h0m12.5 0h0m10 0h0m5.5 0h0m10 0h0m2 0h0m5.5 0h0m3 0h0m2.5 0h0m8.5 0h0m2.5 0h0m3 0h0m1.5 0h0m2 0h0m4.5 0h0m4.5 0h0m1.5 0h0m1 0h0m2 0h0m3.5 0h0m1 0h0m3.5 0h0m3.5 0h0m3 0h0m2 0h0m3.5 0h0m1.5 0h0m3 0h0m5 0h0m4 0h0m13 0h0m11.5 0h0m5.5 0h0m6.5 0h0m9.5 0h0m14.5 0h0m8.5 0h0m16 0h0m4.5 0h0m16.5 0h0m7 0h0m10.5 0h0m17.5 0h0m16 0h0m19.5 0h0m8 0h0M90 239.69h0m9.5 0h0m4.5 0h0m17 0h0m35.5 0h0m24 0h0m27 0h0m21 0h0m12 0h0m9 0h0m16 0h0m13.5 0h0m7.5 0h0m4.5 0h0m5 0h0m3 0h0m1.5 0h0m2.5 0h0m6 0h0m4 0h0m4 0h0m5.5 0h0m2 0h0m4 0h0m1.5 0h0m3 0h0m3.5 0h0m4.5 0h0m1.5 0h0m3.5 0h0m4.5 0h0m4.5 0h0m4 0h0m1.5 0h0m5.5 0h0m5.5 0h0m8.5 0h0m7.5 0h0m6.5 0h0m9.5 0h0m19 0h0m22 0h0m26 0h0m24 0h0m20 0h0m34.5 0h0m10 0h0M87.5 237.73h0m28 0h0m20.5 0h0m25.5 0h0m13.5 0h0m15.5 0h0m38 0h0m12 0h0m13.5 0h0m6.5 0h0m4 0h0m20.5 0h0m4 0h0m6.5 0h0m3 0h0m2 0h0m2 0h0m2.5 0h0m4.5 0h0m1.5 0h0m2 0h0m6 0h0m1.5 0h0m6 0h0m1.5 0h0m1.5 0h0m2 0h0m1.5 0h0m2.5 0h0m2.5 0h0m1 0h0m5 0h0m1.5 0h0m3 0h0m1.5 0h0m15.5 0h0m12.5 0h0m19.5 0h0m6.5 0h0m35 0h0m10 0h0m14.5 0h0m30 0h0m11.5 0h0m16.5 0h0m19 0h0m6 0h0m21.5 0h0M82 235.77h0m22 0h0m23 0h0m20.5 0h0m16 0h0m14.5 0h0m34.5 0h0m19.5 0h0m21 0h0m13 0h0m10.5 0h0m7.5 0h0m6 0h0m3.5 0h0m4 0h0m1.5 0h0m2.5 0h0m1.5 0h0m1.5 0h0m1.5 0h0m2.5 0h0m3.5 0h0m2.5 0h0m2 0h0m1.5 0h0m2 0h0m2.5 0h0m5 0h0m.5 0h0m4 0h0m4 0h0m.5 0h0m4 0h0m1 0h0m3 0h0m2.5 0h0m3.5 0h0m7 0h0m2.5 0h0m24 0h0m9.5 0h0m37 0h0m11.5 0h0m18 0h0m21 0h0m3.5 0h0m22.5 0h0m18 0h0m31 0h0m2.5 0h0M81.5 233.82h0m7 0h0m12.5 0h0m14 0h0m9.5 0h0m21.5 0h0m12 0h0m10 0h0m27 0h0m23.5 0h0m17 0h0m14.5 0h0m18.5 0h0m13 0h0m6.5 0h0m4.5 0h0m9 0h0m4 0h0m3.5 0h0m2 0h0m2 0h0m1 0h0m5 0h0m.5 0h0m2.5 0h0m1.5 0h0m2.5 0h0m2 0h0m5.5 0h0m3 0h0m1.5 0h0m5 0h0m2.5 0h0m1.5 0h0m4.5 0h0m3 0h0m4 0h0m9.5 0h0m5.5 0h0m11 0h0m12 0h0m23.5 0h0m34.5 0h0m22 0h0m44 0h0m10 0h0m18.5 0h0m6 0h0M88 231.86h0m23.5 0h0m25.5 0h0m20.5 0h0m10 0h0m12 0h0m14.5 0h0m21.5 0h0m11.5 0h0m14.5 0h0m19.5 0h0m13 0h0m5.5 0h0m6.5 0h0m4 0h0m7.5 0h0m6 0h0m2 0h0m5 0h0m2.5 0h0m4 0h0m1.5 0h0m5.5 0h0m2.5 0h0m3 0h0m4 0h0m4.5 0h0m5 0h0m3 0h0m5 0h0m2 0h0m4.5 0h0m3.5 0h0m5 0h0m5 0h0m19 0h0m11.5 0h0m2.5 0h0m5.5 0h0m17 0h0m16 0h0m15.5 0h0m40.5 0h0m11.5 0h0m7.5 0h0m34.5 0h0m12.5 0h0M87.5 229.91h0m31 0h0m29.5 0h0m10 0h0m14 0h0m14.5 0h0m10 0h0m15 0h0m16 0h0m24 0h0m12 0h0m19 0h0m10.5 0h0m3 0h0m2.5 0h0m5.5 0h0m2 0h0m4 0h0m5 0h0m3.5 0h0m2 0h0m1 0h0m1 0h0m2 0h0m1 0h0m3 0h0m1 0h0m3 0h0m4 0h0m1.5 0h0m3.5 0h0m2.5 0h0m7.5 0h0m2.5 0h0m2 0h0m2 0h0m9.5 0h0m9.5 0h0m7 0h0m4 0h0m25.5 0h0m11.5 0h0m22 0h0m16 0h0m19 0h0m20.5 0h0m18.5 0h0m12.5 0h0m11.5 0h0m6.5 0h0M88 227.95h0m3.5 0h0m2.5 0h0m25.5 0h0m25 0h0m5.5 0h0m24.5 0h0m22.5 0h0m11 0h0m25 0h0m12.5 0h0m14 0h0m11.5 0h0m8.5 0h0m7.5 0h0m5 0h0m8.5 0h0m4 0h0m3.5 0h0m3 0h0m3.5 0h0m3.5 0h0m2.5 0h0m4.5 0h0m1 0h0m4.5 0h0m3.5 0h0m3.5 0h0m4 0h0m3 0h0m2.5 0h0m10.5 0h0m10 0h0m3.5 0h0m6 0h0m18.5 0h0m17.5 0h0m10.5 0h0m33 0h0m21 0h0m9.5 0h0m17 0h0m3 0h0m9 0h0m19.5 0h0m7 0h0m10.5 0h0m9 0h0M85.5 225.99h0m6.5 0h0m10.5 0h0m16 0h0m18 0h0m2.5 0h0m11 0h0m15 0h0m3.5 0h0m25.5 0h0m15.5 0h0m32 0h0m12 0h0m22 0h0m12.5 0h0m5.5 0h0m6 0h0m4 0h0m1 0h0m3 0h0m2 0h0m2.5 0h0m3.5 0h0m3.5 0h0m1 0h0m1.5 0h0m3 0h0m4 0h0m4 0h0m2 0h0m5 0h0m2 0h0m6 0h0m2.5 0h0m3 0h0m10.5 0h0m12.5 0h0m15 0h0m11 0h0m26.5 0h0m23 0h0m7 0h0m22.5 0h0m14 0h0m19 0h0m13 0h0m11 0h0m7 0h0m16.5 0h0M82 224.04h0m6 0h0m16.5 0h0m13 0h0m13 0h0m15 0h0m5 0h0m28 0h0m6.5 0h0m25 0h0m1.5 0h0m14 0h0m18 0h0m12.5 0h0m5 0h0m11 0h0m3.5 0h0m4 0h0m4 0h0m6 0h0m8 0h0m3.5 0h0m3 0h0m6 0h0m3.5 0h0m3.5 0h0m2.5 0h0m2.5 0h0m1.5 0h0m.5 0h0m4.5 0h0m5 0h0m3 0h0m4.5 0h0m2 0h0m4.5 0h0m2 0h0m7 0h0m6.5 0h0m25 0h0m13.5 0h0m22 0h0m8 0h0m24 0h0m22.5 0h0m38.5 0h0m22.5 0h0M84.5 222.08h0m25 0h0m22.5 0h0m23.5 0h0m13 0h0m12 0h0m14 0h0m15 0h0m10 0h0m18.5 0h0m10.5 0h0m28 0h0m3.5 0h0m6.5 0h0m6 0h0m4.5 0h0m3.5 0h0m4 0h0m1.5 0h0m2.5 0h0m2.5 0h0m3 0h0m1.5 0h0m3 0h0m.5 0h0m3.5 0h0m2 0h0m2.5 0h0m2 0h0m1.5 0h0m3.5 0h0m2.5 0h0m3.5 0h0m2.5 0h0m2 0h0m3.5 0h0m10.5 0h0m1 0h0m9.5 0h0m6.5 0h0m22.5 0h0m6 0h0m9.5 0h0m6.5 0h0m14.5 0h0m16.5 0h0m4 0h0m18.5 0h0m9.5 0h0m7 0h0m10 0h0m11.5 0h0m17.5 0h0m14 0h0M99 220.12h0m5 0h0m14.5 0h0m11 0h0m13 0h0m17.5 0h0m8.5 0h0m15 0h0m5 0h0m10.5 0h0m13 0h0m8.5 0h0m24 0h0m15.5 0h0m13 0h0m9 0h0m2 0h0m3 0h0m4.5 0h0m4.5 0h0m4 0h0m2.5 0h0m6 0h0m1.5 0h0m2.5 0h0m2 0h0m1 0h0m4 0h0m1.5 0h0m1 0h0m3 0h0m5.5 0h0m1 0h0m3.5 0h0m1.5 0h0m3.5 0h0m5 0h0m1 0h0m3.5 0h0m4.5 0h0m4.5 0h0m3 0h0m4 0h0m5 0h0m8 0h0m9 0h0m5.5 0h0m4.5 0h0m15.5 0h0m11.5 0h0m16 0h0m13 0h0m15.5 0h0m11 0h0m6.5 0h0m43.5 0h0m19.5 0h0m18 0h0M101.5 218.17h0m10 0h0m9 0h0m19 0h0m30.5 0h0m17.5 0h0m16.5 0h0m18 0h0m19.5 0h0m6 0h0m20 0h0m7 0h0m7 0h0m8 0h0m2 0h0m3 0h0m1.5 0h0m4 0h0m4 0h0m2 0h0m2.5 0h0m4 0h0m1.5 0h0m1.5 0h0m4 0h0m1.5 0h0m1 0h0m1 0h0m2.5 0h0m2.5 0h0m1.5 0h0m1 0h0m4 0h0m3 0h0m1.5 0h0m3 0h0m3 0h0m2 0h0m2.5 0h0m4.5 0h0m2 0h0m10 0h0m8 0h0m4 0h0m3.5 0h0m20.5 0h0m19 0h0m10.5 0h0m18 0h0m15 0h0m19.5 0h0m27 0h0m12 0h0m14.5 0h0m15.5 0h0m14.5 0h0M85 216.21h0m22 0h0m13 0h0m9.5 0h0m22.5 0h0m19 0h0m5.5 0h0m18 0h0m21 0h0m25 0h0m13.5 0h0m15.5 0h0m4.5 0h0m9.5 0h0m4.5 0h0m8.5 0h0m5 0h0m5 0h0m4 0h0m1.5 0h0m2 0h0m3 0h0m3 0h0m4.5 0h0m2 0h0m2 0h0m2.5 0h0m1.5 0h0m3.5 0h0m1 0h0m2.5 0h0m2.5 0h0m2 0h0m5 0h0m1.5 0h0m7.5 0h0m1.5 0h0m3.5 0h0m11 0h0m6 0h0m18.5 0h0m4 0h0m5.5 0h0m3.5 0h0m2.5 0h0m12 0h0m10.5 0h0m17.5 0h0m27.5 0h0m17.5 0h0m5.5 0h0m23 0h0m28 0h0m10 0h0m5 0h0M97.5 214.26h0m14.5 0h0m28.5 0h0m24.5 0h0m56.5 0h0m10.5 0h0m13 0h0m7.5 0h0m7.5 0h0m7.5 0h0m13.5 0h0m6 0h0m7.5 0h0m4 0h0m4 0h0m3 0h0m3.5 0h0m1.5 0h0m5 0h0m1 0h0m2 0h0m1 0h0m2.5 0h0m4 0h0m3.5 0h0m4.5 0h0m1.5 0h0m2.5 0h0m5 0h0m3.5 0h0m3 0h0m7 0h0m4 0h0m1.5 0h0m6.5 0h0m14.5 0h0m16.5 0h0m12.5 0h0m13 0h0m11 0h0m16.5 0h0m13.5 0h0m6 0h0m15 0h0m10.5 0h0m7.5 0h0m27 0h0m33 0h0M99.5 212.3h0m17.5 0h0m7.5 0h0m18 0h0m13.5 0h0m17.5 0h0m11 0h0m21 0h0m18.5 0h0m13.5 0h0m21.5 0h0m10.5 0h0m9.5 0h0m6 0h0m6.5 0h0m8 0h0m3.5 0h0m3.5 0h0m2 0h0m2 0h0m4 0h0m1 0h0m2.5 0h0m1.5 0h0m2 0h0m3 0h0m1 0h0m1 0h0m2.5 0h0m3.5 0h0m2.5 0h0m2 0h0m3.5 0h0m1 0h0m5 0h0m3.5 0h0m5 0h0m4.5 0h0m2 0h0m5.5 0h0m6 0h0m14.5 0h0m5 0h0m6 0h0m7 0h0m37.5 0h0m35 0h0m33.5 0h0m4.5 0h0m12.5 0h0m13 0h0M80.5 210.34h0m13.5 0h0m23 0h0m17 0h0m11.5 0h0m21 0h0m9 0h0m7 0h0m26 0h0m19 0h0m12.5 0h0m14.5 0h0m19.5 0h0m11.5 0h0m8.5 0h0m3.5 0h0m4.5 0h0m3.5 0h0m2 0h0m3 0h0m1.5 0h0m3.5 0h0m4 0h0m7 0h0m.5 0h0m1 0h0m2.5 0h0m2 0h0m3 0h0m2.5 0h0m2.5 0h0m2 0h0m3.5 0h0m2.5 0h0m5 0h0m4 0h0m3.5 0h0m4.5 0h0m10 0h0m15.5 0h0m18.5 0h0m20.5 0h0m13 0h0m34.5 0h0m14.5 0h0m16 0h0m9 0h0m25 0h0m15.5 0h0M84.5 208.39h0m20 0h0m32 0h0m38 0h0m34.5 0h0m4.5 0h0m8 0h0m10.5 0h0m11 0h0m15 0h0m9 0h0m18.5 0h0m5 0h0m12 0h0m2.5 0h0m3 0h0m3 0h0m5 0h0m2 0h0m2.5 0h0m2 0h0m2 0h0m.5 0h0m.5 0h0m2.5 0h0m2.5 0h0m3.5 0h0m4.5 0h0m5.5 0h0m4 0h0m4 0h0m4 0h0m7 0h0m12.5 0h0m12.5 0h0m18 0h0m36.5 0h0m15.5 0h0m6 0h0m10 0h0m37 0h0m9 0h0m19.5 0h0m12.5 0h0M81.5 206.43h0m17.5 0h0m24.5 0h0m5 0h0m9.5 0h0m14.5 0h0m31.5 0h0m42.5 0h0m4.5 0h0m4.5 0h0m13 0h0m17 0h0m6 0h0m11.5 0h0m5 0h0m1.5 0h0m9.5 0h0m4 0h0m2.5 0h0m6 0h0m2.5 0h0m2 0h0m2 0h0m2 0h0m1.5 0h0m2 0h0m4.5 0h0m2.5 0h0m4.5 0h0m4.5 0h0m2.5 0h0m1 0h0m2.5 0h0m4.5 0h0m5 0h0m5.5 0h0m9.5 0h0m11.5 0h0m5 0h0m20 0h0m11.5 0h0m9 0h0m24.5 0h0m27 0h0m21.5 0h0m21.5 0h0m17.5 0h0m17 0h0m15 0h0M94 204.47h0m18.5 0h0m27.5 0h0m38 0h0m25 0h0m15.5 0h0m26.5 0h0m11.5 0h0m15 0h0m16 0h0m3 0h0m5.5 0h0m4.5 0h0m2 0h0m4.5 0h0m1.5 0h0m2.5 0h0m4.5 0h0m1 0h0m3 0h0m3.5 0h0m3.5 0h0m3.5 0h0m2 0h0m3.5 0h0m2 0h0m1 0h0m4 0h0m1.5 0h0m2.5 0h0m4 0h0m7 0h0m3 0h0m6.5 0h0m19 0h0m10 0h0m8 0h0m24.5 0h0m33 0h0m10.5 0h0m11.5 0h0m20.5 0h0m19 0h0m5.5 0h0m40 0h0M85 202.52h0m49 0h0m35 0h0m15 0h0m14.5 0h0m20 0h0m10 0h0m4.5 0h0m26.5 0h0m8 0h0m11 0h0m4 0h0m9 0h0m3 0h0m6 0h0m7.5 0h0m1.5 0h0m6 0h0m4 0h0m.5 0h0m1 0h0m3.5 0h0m2.5 0h0m1 0h0m1.5 0h0m4 0h0m1.5 0h0m4 0h0m2.5 0h0m5 0h0m4.5 0h0m5.5 0h0m17 0h0m23 0h0m12 0h0m23.5 0h0m33.5 0h0m11 0h0m9 0h0m16.5 0h0m19 0h0m23 0h0M82 200.56h0m16.5 0h0m20 0h0m20.5 0h0m6 0h0m15 0h0m26.5 0h0m26 0h0m11.5 0h0m9.5 0h0m19.5 0h0m17 0h0m9.5 0h0m10.5 0h0m5.5 0h0m1.5 0h0m8.5 0h0m2.5 0h0m3 0h0m2.5 0h0m6 0h0m2 0h0m2.5 0h0m3.5 0h0m3 0h0m1 0h0m3 0h0m2.5 0h0m2 0h0m8.5 0h0m3.5 0h0m4.5 0h0m3.5 0h0m10 0h0m11.5 0h0m20.5 0h0m20.5 0h0m11 0h0m17.5 0h0m33 0h0m17 0h0m13 0h0m10.5 0h0m19 0h0m10.5 0h0m8 0h0M100 198.6h0m14.5 0h0m38 0h0m22.5 0h0m40 0h0m33.5 0h0m25.5 0h0m6.5 0h0m5 0h0m7.5 0h0m8.5 0h0m6 0h0m2.5 0h0m4 0h0m4.5 0h0m4 0h0m2.5 0h0m2 0h0m1.5 0h0m1 0h0m4 0h0m2 0h0m1.5 0h0m3 0h0m4.5 0h0m5 0h0m3.5 0h0m5.5 0h0m13.5 0h0m19 0h0m4.5 0h0m33.5 0h0m21.5 0h0m32.5 0h0m18 0h0m22.5 0h0m38.5 0h0M88.5 196.65h0m8.5 0h0m51 0h0m18 0h0m28 0h0m7.5 0h0m23.5 0h0m10 0h0m18 0h0m15.5 0h0m6 0h0m12.5 0h0m9.5 0h0m1 0h0m3.5 0h0m5 0h0m2.5 0h0m3 0h0m2 0h0m2.5 0h0m1 0h0m4.5 0h0m2.5 0h0m1.5 0h0m3.5 0h0m1.5 0h0m5.5 0h0m3 0h0m3.5 0h0m2 0h0m10 0h0m5 0h0m4.5 0h0m14 0h0m14.5 0h0m23 0h0m22.5 0h0m26 0h0m42 0h0m31 0h0m14.5 0h0m16.5 0h0M128 194.69h0m62 0h0m12.5 0h0m23 0h0m19 0h0m27.5 0h0m11 0h0m7.5 0h0m7.5 0h0m3.5 0h0m6 0h0m3.5 0h0m5 0h0m3.5 0h0m3.5 0h0m2.5 0h0m7.5 0h0m5 0h0m5 0h0m2 0h0m2.5 0h0m3.5 0h0m5 0h0m7.5 0h0m16.5 0h0m12 0h0m8.5 0h0m16 0h0m34 0h0m41.5 0h0m29.5 0h0m19 0h0m16.5 0h0M81.5 192.74h0m22.5 0h0m21 0h0m25 0h0m11 0h0m18 0h0m14 0h0m16 0h0m34 0h0m13 0h0m12 0h0m15 0h0m7 0h0m5 0h0m3 0h0m5.5 0h0m8.5 0h0m4.5 0h0m3 0h0m4 0h0m2 0h0m1 0h0m3.5 0h0m6.5 0h0m2.5 0h0m4 0h0m3 0h0m5.5 0h0m5.5 0h0m13 0h0m4 0h0m7.5 0h0m7.5 0h0m13 0h0m47.5 0h0m60.5 0h0m8.5 0h0M80.5 190.78h0m46 0h0m49.5 0h0m5 0h0m28.5 0h0m34.5 0h0m12.5 0h0m18.5 0h0m10 0h0m3.5 0h0m10.5 0h0m4.5 0h0m6.5 0h0m4 0h0m2 0h0m2 0h0m4 0h0m2 0h0m3 0h0m1 0h0m4 0h0m2 0h0m2.5 0h0m3.5 0h0m2 0h0m5.5 0h0m4 0h0m4 0h0m2.5 0h0m7 0h0m20 0h0m9.5 0h0m16 0h0m23.5 0h0m16 0h0m37.5 0h0m28 0h0m14 0h0m16.5 0h0M88 188.82h0m15 0h0m21 0h0m45.5 0h0m33 0h0m13.5 0h0m16 0h0m17.5 0h0m14 0h0m15.5 0h0m16.5 0h0m7 0h0m3 0h0m2.5 0h0m1.5 0h0m1 0h0m3 0h0m5 0h0m2.5 0h0m3 0h0m2.5 0h0m2.5 0h0m5.5 0h0m3 0h0m3 0h0m3 0h0m5.5 0h0m5 0h0m5.5 0h0m6 0h0m7.5 0h0m28.5 0h0m41 0h0m11.5 0h0m32 0h0m28.5 0h0m55.5 0h0M105 186.87h0m15 0h0m56.5 0h0m23.5 0h0m33 0h0m46 0h0m9.5 0h0m6.5 0h0m12 0h0m4 0h0m1.5 0h0m4.5 0h0m3 0h0m3.5 0h0m2.5 0h0m1.5 0h0m3 0h0m4 0h0m6.5 0h0m5.5 0h0m8 0h0m23.5 0h0m21.5 0h0m15 0h0m23 0h0m31 0h0m22 0h0m50.5 0h0M107.5 184.91h0m27.5 0h0m19.5 0h0m30 0h0m61 0h0m26 0h0m10 0h0m10 0h0m11.5 0h0m4 0h0m10.5 0h0m7 0h0m2.5 0h0m5 0h0m5.5 0h0m2.5 0h0m3.5 0h0m13.5 0h0m21.5 0h0m28 0h0m25 0h0m14.5 0h0m13 0h0m35.5 0h0m50.5 0h0M81 182.95h0m16.5 0h0m41.5 0h0m29 0h0m45 0h0m46 0h0m18 0h0m10 0h0m10.5 0h0m5.5 0h0m4 0h0m2 0h0m7 0h0m3.5 0h0m4.5 0h0m2.5 0h0m5 0h0m5.5 0h0m2.5 0h0m2 0h0m4.5 0h0m2 0h0m9 0h0m3.5 0h0m16.5 0h0m29 0h0m54.5 0h0m37 0h0m31.5 0h0m19.5 0h0M102 181h0m44.5 0h0m53 0h0m30.5 0h0m37 0h0m3 0h0m14 0h0m11 0h0m13 0h0m5.5 0h0m1 0h0m3 0h0m1.5 0h0m3 0h0m5.5 0h0m3 0h0m2.5 0h0m3 0h0m3 0h0m6 0h0m5 0h0m3 0h0m4.5 0h0m12 0h0m6.5 0h0m2.5 0h0m17 0h0m16 0h0m57 0h0m31 0h0m51.5 0h0M89.5 179.04h0m58.5 0h0m47 0h0m39.5 0h0m16.5 0h0m19.5 0h0m19 0h0m5 0h0m4 0h0m8 0h0m3.5 0h0m4.5 0h0m5.5 0h0m6.5 0h0m5 0h0m4.5 0h0m6.5 0h0m6.5 0h0m3.5 0h0m13.5 0h0m16.5 0h0m45.5 0h0m6.5 0h0m21 0h0m32 0h0M82.5 177.09h0m65 0h0m56.5 0h0m17.5 0h0m28.5 0h0m24 0h0m17.5 0h0m4 0h0m6.5 0h0m8 0h0m7.5 0h0m10 0h0m5 0h0m1 0h0m7.5 0h0m9 0h0m4.5 0h0m14 0h0m19.5 0h0m31.5 0h0m43.5 0h0m53 0h0m41.5 0h0m13 0h0M128 175.13h0m56.5 0h0m77.5 0h0m6.5 0h0m30 0h0m8 0h0m4.5 0h0m5 0h0m5 0h0m3 0h0m1 0h0m4 0h0m3.5 0h0m9 0h0m6 0h0m4.5 0h0m8.5 0h0m10 0h0m27.5 0h0m36 0h0m82.5 0h0m20 0h0m27.5 0h0M107 173.17h0m31 0h0m49 0h0m51.5 0h0m28 0h0m12 0h0m21.5 0h0m6 0h0m6 0h0m3 0h0m3.5 0h0m4.5 0h0m.5 0h0m4.5 0h0m11 0h0m9 0h0m17 0h0m31 0h0m17 0h0m13 0h0m59.5 0h0m18 0h0m40.5 0h0M229.5 171.22h0m51.5 0h0m13.5 0h0m10 0h0m5.5 0h0m5.5 0h0m3.5 0h0m5 0h0m4 0h0m6 0h0m8.5 0h0m5.5 0h0m7 0h0m14.5 0h0m27 0h0m27 0h0m86 0h0m50 0h0M107.5 169.26h0m32.5 0h0m56.5 0h0m25.5 0h0m62 0h0m9 0h0m10.5 0h0m10 0h0m5 0h0m5.5 0h0m8 0h0m1.5 0h0m3.5 0h0m6 0h0m11 0h0m8.5 0h0m24 0h0m71.5 0h0m35 0h0m64.5 0h0m13.5 0h0M170 167.3h0m68.5 0h0m30.5 0h0m15.5 0h0m4 0h0m5 0h0m13.5 0h0m11.5 0h0m5.5 0h0m6.5 0h0m7 0h0m10 0h0m3.5 0h0m14 0h0m11.5 0h0m81 0h0m28 0h0m34.5 0h0M94 165.35h0m63.5 0h0m123.5 0h0m7 0h0m8.5 0h0m4 0h0m11.5 0h0m6 0h0m4 0h0m2.5 0h0m8 0h0m2.5 0h0m6.5 0h0m5 0h0m2 0h0m13.5 0h0m6.5 0h0m20.5 0h0m6.5 0h0m19.5 0h0m132.5 0h0M124.5 163.39h0m58.5 0h0m27 0h0m45 0h0m27 0h0m13.5 0h0m14.5 0h0m4 0h0m6.5 0h0m5.5 0h0m4 0h0m2.5 0h0m4 0h0m2.5 0h0m2.5 0h0m25 0h0m104.5 0h0m56 0h0M147.5 161.44h0m35 0h0m73.5 0h0m25 0h0m20.5 0h0m5.5 0h0m12 0h0m4.5 0h0m5.5 0h0m4 0h0m11.5 0h0m5.5 0h0m13 0h0m11.5 0h0m93.5 0h0m31.5 0h0M91.5 159.48h0m75.5 0h0m70 0h0m17.5 0h0m39.5 0h0m3.5 0h0m5 0h0m5 0h0m3 0h0m6 0h0m7 0h0m1.5 0h0m6 0h0m7.5 0h0m9 0h0m5 0h0m9.5 0h0m46.5 0h0m73 0h0m73 0h0M131 157.52h0m131.5 0h0m14.5 0h0m12 0h0m13 0h0m9 0h0m7 0h0m3.5 0h0m8.5 0h0m7.5 0h0m5 0h0m16.5 0h0m10 0h0m49 0h0m45.5 0h0m80 0h0M114 155.57h0m57.5 0h0m110.5 0h0m21 0h0m6.5 0h0m3.5 0h0m6 0h0m4 0h0m6.5 0h0m4 0h0m5.5 0h0m8.5 0h0m18.5 0h0m68 0h0m133 0h0M114.5 153.61h0m97.5 0h0m66.5 0h0m22.5 0h0m4.5 0h0m7 0h0m13.5 0h0m3.5 0h0m5 0h0m11.5 0h0m16.5 0h0m69 0h0M99 151.65h0m150 0h0m38 0h0m16 0h0m4.5 0h0m10 0h0m4.5 0h0m7 0h0m3.5 0h0m3.5 0h0m4.5 0h0m9.5 0h0m13.5 0h0m75.5 0h0m46.5 0h0m73 0h0M285.5 149.7h0m10.5 0h0m18 0h0m8 0h0m9 0h0m20.5 0h0m29 0h0m51 0h0M140.5 147.74h0m123 0h0m36.5 0h0m2 0h0m11.5 0h0m4.5 0h0m17 0h0m9.5 0h0m11.5 0h0m25 0h0m147.5 0h0M148 145.78h0m75.5 0h0m55.5 0h0m28 0h0m6 0h0m7 0h0m9 0h0m9.5 0h0m15.5 0h0m22.5 0h0m17 0h0m64.5 0h0M86.5 143.83h0m157 0h0m37.5 0h0m23 0h0m3.5 0h0m13.5 0h0m2.5 0h0m35 0h0m62.5 0h0M96 141.87h0m120.5 0h0m59 0h0m18.5 0h0m19.5 0h0m20.5 0h0m5 0h0m10.5 0h0m17.5 0h0M127.5 139.92h0m100 0h0m64 0h0m20 0h0m10.5 0h0m4 0h0m9 0h0m2.5 0h0m13 0h0m141.5 0h0M233 137.96h0m70 0h0m7.5 0h0m7 0h0m11.5 0h0m23.5 0h0m11.5 0h0m184.5 0h0M278.5 136h0m34.5 0h0m12.5 0h0m14 0h0m5.5 0h0m134 0h0M167 134.05h0m128.5 0h0m28 0h0m12 0h0m17.5 0h0m16 0h0m80.5 0h0M261 132.09h0m36.5 0h0m17.5 0h0m7.5 0h0m21 0h0m22 0h0M252.5 130.13h0m47.5 0h0m22 0h0m19.5 0h0m85 0h0M149 128.18h0m147.5 0h0m18.5 0h0m28 0h0m43.5 0h0M233 126.22h0m60.5 0h0m13.5 0h0m28.5 0h0m12 0h0m100.5 0h0M273 124.27h0m36.5 0h0m20.5 0h0m9.5 0h0M188.5 122.31h0m104 0h0m53 0h0M270 120.35h0m30.5 0h0m31.5 0h0m8.5 0h0m130.5 0h0M277.5 118.4h0m43.5 0h0m74.5 0h0M309 116.44h0m56 0h0M280 114.48h0m45.5 0h0m43.5 0h0M382.5 112.53h0M185.5 110.57h0m146 0h0m15 0h0M198 108.62h0m118 0h0m14.5 0h0M82.5 106.66h0m233 0h0M186.5 104.7h0m126.5 0h0M228.5 102.75h0m75 0h0m27 0h0M333.5 100.79h0M301 98.83h0m27.5 0h0M304.5 96.88h0m249.5 0h0M437.5 94.92h0M352.5 92.96h0M366.5 91.01h0M325.5 89.05h0M324.5 87.1h0M253.5 85.14h0m112.5 0h0M338.5 83.18h0M536 81.23h0M439.5 77.31h0M319.5 71.45h0"/><path d="M416.5 519.44h0M551.5 482.27h0M89 462.71h0M522.5 454.88h0M403 452.92h0M526.5 449.01h0M104.5 443.14h0M502 441.19h0M112 437.27h0m293.5 0h0M137.5 433.36h0m294 0h0M143.5 431.4h0m398 0h0M423 429.45h0M318 427.49h0M270 425.54h0m283 0h0M204 423.58h0m210 0h0m116 0h0M503.5 421.62h0M95 417.71h0m87.5 0h0m115.5 0h0m162 0h0M228 415.75h0m109 0h0m61.5 0h0M163 413.8h0m189.5 0h0m196.5 0h0M116.5 411.84h0m64.5 0h0m235.5 0h0m117.5 0h0M101.5 409.89h0m102.5 0h0m252.5 0h0M215 407.93h0m90 0h0m142 0h0m94 0h0M189 405.97h0m26.5 0h0m93 0h0m196.5 0h0M121 404.02h0m73 0h0m120.5 0h0m137 0h0m100 0h0M94 402.06h0m100.5 0h0m30.5 0h0m36.5 0h0m45 0h0m123.5 0h0m32.5 0h0m75.5 0h0M80 400.1h0m103 0h0m26 0h0m87 0h0m70 0h0m45.5 0h0m72 0h0m88 0h0M165 398.15h0m102.5 0h0m97.5 0h0m67 0h0m17.5 0h0m52.5 0h0M111.5 396.19h0m68.5 0h0m76 0h0m17.5 0h0m46.5 0h0m60 0h0m77 0h0m86.5 0h0M130 394.23h0m43.5 0h0m33 0h0m103 0h0m79 0h0m20.5 0h0m97 0h0M127.5 392.28h0m83.5 0h0m117.5 0h0m71.5 0h0m57.5 0h0m84.5 0h0M122 390.32h0m82 0h0m36.5 0h0m122.5 0h0m84 0h0m49.5 0h0m49 0h0M85 388.37h0m99.5 0h0m28.5 0h0m58 0h0m193 0h0m34 0h0m38 0h0m30.5 0h0M119.5 386.41h0m42.5 0h0m35 0h0m125 0h0m7 0h0m62 0h0m36.5 0h0m82.5 0h0M101 384.45h0m80.5 0h0m84.5 0h0m41.5 0h0m50 0h0m71 0h0m134.5 0h0M102 382.5h0m45.5 0h0m40 0h0m116.5 0h0m24.5 0h0m40 0h0m9 0h0m27.5 0h0m36 0h0m20.5 0h0m42.5 0h0m60.5 0h0M118.5 380.54h0m43 0h0m33.5 0h0m40 0h0m40 0h0m37.5 0h0m31.5 0h0m59 0h0m46.5 0h0m72.5 0h0M87.5 378.58h0m59 0h0m79 0h0m14 0h0m18.5 0h0m24.5 0h0m26.5 0h0m24 0h0m72 0h0m28 0h0m56 0h0m54.5 0h0M110 376.63h0m53 0h0m67 0h0m27 0h0m33 0h0m17.5 0h0m50.5 0h0m40 0h0m12.5 0h0m22.5 0h0m41 0h0m31 0h0m27 0h0M80.5 374.67h0m45 0h0m23.5 0h0m36.5 0h0m35 0h0m95 0h0m67 0h0m76 0h0m60.5 0h0M119 372.72h0m24 0h0m91 0h0m28.5 0h0m31.5 0h0m49.5 0h0m34.5 0h0m32.5 0h0m65 0h0m21 0h0m20.5 0h0m16.5 0h0m8 0h0M126.5 370.76h0m11 0h0m43.5 0h0m51.5 0h0m30 0h0m17 0h0m18 0h0m15.5 0h0m37.5 0h0m34.5 0h0m56.5 0h0m47.5 0h0m19 0h0m27 0h0M96 368.8h0m16.5 0h0m52 0h0m63.5 0h0m29.5 0h0m23.5 0h0m9.5 0h0m25 0h0m11 0h0m8.5 0h0m27 0h0m36 0h0m25.5 0h0m25.5 0h0m16.5 0h0m35.5 0h0m49 0h0m20 0h0M138.5 366.85h0m37 0h0m71 0h0m15 0h0m42.5 0h0m45.5 0h0m79 0h0m48.5 0h0m26.5 0h0m55.5 0h0M111.5 364.89h0m26.5 0h0m20 0h0m35.5 0h0m34.5 0h0m31.5 0h0m35.5 0h0m23.5 0h0m89 0h0m35 0h0m21.5 0h0m41 0h0m23.5 0h0m32 0h0M93 362.93h0m28.5 0h0m73.5 0h0m34.5 0h0m24 0h0m45 0h0m41 0h0m15.5 0h0m17 0h0m28 0h0m25.5 0h0m55.5 0h0m28.5 0h0m8 0h0m14.5 0h0m25 0h0m14.5 0h0M88 360.98h0m28 0h0m34 0h0m68.5 0h0m26 0h0m21 0h0m22.5 0h0m51 0h0m42.5 0h0m38 0h0m19.5 0h0m19.5 0h0m50 0h0m27 0h0m17 0h0M98 359.02h0m41.5 0h0m13.5 0h0m29 0h0m24 0h0m19 0h0m19.5 0h0m38 0h0m49.5 0h0m33.5 0h0m42 0h0m27.5 0h0m50 0h0m10.5 0h0m27.5 0h0M84.5 357.07h0m15 0h0m20.5 0h0m15.5 0h0m16 0h0m37 0h0m25 0h0m12.5 0h0m13.5 0h0m13 0h0m20.5 0h0m44.5 0h0m8 0h0m11.5 0h0m32.5 0h0m38.5 0h0m14.5 0h0m33.5 0h0m46.5 0h0m35 0h0m7.5 0h0M84 355.11h0m47.5 0h0m33.5 0h0m13.5 0h0m22 0h0m24 0h0m13 0h0m6.5 0h0m9 0h0m40.5 0h0m4.5 0h0m14 0h0m42 0h0m42 0h0m21 0h0m26.5 0h0m34 0h0m42 0h0m13.5 0h0m33 0h0M87 353.15h0m20 0h0m30.5 0h0m14.5 0h0m25 0h0m9 0h0m23.5 0h0m18.5 0h0m27 0h0m29.5 0h0m26.5 0h0m13 0h0m17.5 0h0m10 0h0m9.5 0h0m52 0h0m21 0h0m30 0h0m22.5 0h0m17.5 0h0m26 0h0m18.5 0h0M80 351.2h0m23 0h0m16.5 0h0m22.5 0h0m23.5 0h0m35.5 0h0m33.5 0h0m27 0h0m22 0h0m22.5 0h0m19 0h0m11.5 0h0m28.5 0h0m27.5 0h0m12.5 0h0m43 0h0m31.5 0h0m22.5 0h0m7.5 0h0m19.5 0h0m15 0h0M99.5 349.24h0m29 0h0m19.5 0h0m14 0h0m40.5 0h0m12 0h0m22 0h0m10.5 0h0m21.5 0h0m26.5 0h0m11.5 0h0m5 0h0m21 0h0m6 0h0m10 0h0m17.5 0h0m13 0h0m8 0h0m18 0h0m25 0h0m15 0h0m12.5 0h0m18 0h0m18.5 0h0m25 0h0m19.5 0h0M79.5 347.28h0m37 0h0m18 0h0m20 0h0m40 0h0m16 0h0m17 0h0m20.5 0h0m38 0h0m17.5 0h0m9.5 0h0m12 0h0m16 0h0m8 0h0m16.5 0h0m22 0h0m19 0h0m21 0h0m19 0h0m5.5 0h0m44 0h0m20 0h0m21 0h0m21.5 0h0M93.5 345.33h0m18 0h0m16 0h0m27.5 0h0m15 0h0m27 0h0m8 0h0m11 0h0m13.5 0h0m21.5 0h0m23.5 0h0m25.5 0h0m10.5 0h0m26 0h0m18 0h0m33 0h0m19.5 0h0m13.5 0h0m10.5 0h0m39 0h0m32.5 0h0m45 0h0m16.5 0h0M88 343.37h0m30 0h0m30 0h0m31 0h0m15.5 0h0m12.5 0h0m37.5 0h0m16.5 0h0m18 0h0m18 0h0m21.5 0h0m9 0h0m15.5 0h0m25.5 0h0m20 0h0m7.5 0h0m32 0h0m11.5 0h0m17 0h0m25.5 0h0m20.5 0h0m10.5 0h0m25 0h0m15.5 0h0M95 341.41h0m19.5 0h0m9.5 0h0m13.5 0h0m10.5 0h0m26 0h0m26 0h0m31.5 0h0m20.5 0h0m25.5 0h0m22 0h0m11 0h0m19.5 0h0m7 0h0m16 0h0m15 0h0m23 0h0m25 0h0m21.5 0h0m12.5 0h0m47.5 0h0m35 0h0m8 0h0m7 0h0M89 339.46h0m27 0h0m26 0h0m28.5 0h0m10 0h0m29 0h0m8 0h0m18.5 0h0m17.5 0h0m27.5 0h0m15 0h0m8 0h0m5 0h0m8.5 0h0m8 0h0m19 0h0m13 0h0m36.5 0h0m26 0h0m17 0h0m24.5 0h0m8.5 0h0m19.5 0h0m24.5 0h0m34 0h0M80 337.5h0m18 0h0m11.5 0h0m27 0h0m31 0h0m12.5 0h0m26.5 0h0m24.5 0h0m19.5 0h0m27.5 0h0m15 0h0m5 0h0m5.5 0h0m10.5 0h0m13.5 0h0m4.5 0h0m9.5 0h0m18 0h0m20 0h0m21 0h0m22 0h0m16.5 0h0m24.5 0h0m28 0h0m30 0h0m14 0h0m10 0h0M95 335.55h0m11 0h0m15.5 0h0m15 0h0m16 0h0m23 0h0m38.5 0h0m20 0h0m21.5 0h0m6 0h0m29.5 0h0m14.5 0h0m6.5 0h0m20.5 0h0m12 0h0m10 0h0m37 0h0m10 0h0m29 0h0m28.5 0h0m42.5 0h0m15 0h0m14 0h0m20.5 0h0M85.5 333.59h0m25.5 0h0m10.5 0h0m22.5 0h0m24.5 0h0m15.5 0h0m13 0h0m15 0h0m31 0h0m25 0h0m20 0h0m7.5 0h0m11 0h0m13.5 0h0m5 0h0m5.5 0h0m4.5 0h0m7.5 0h0m17.5 0h0m11 0h0m10.5 0h0m19 0h0m11.5 0h0m11.5 0h0m14.5 0h0m8.5 0h0m18 0h0m20 0h0m24 0h0m33.5 0h0M84 331.63h0m27.5 0h0m20.5 0h0m16 0h0m10.5 0h0m14 0h0m17 0h0m4.5 0h0m16.5 0h0m12.5 0h0m11.5 0h0m4.5 0h0m16.5 0h0m16.5 0h0m15 0h0m25.5 0h0m6 0h0m23 0h0m9.5 0h0m12 0h0m29 0h0m14 0h0m9 0h0m23.5 0h0m26 0h0m17 0h0m18 0h0m15.5 0h0m40 0h0m16.5 0h0M86.5 329.68h0m40 0h0m18.5 0h0m55.5 0h0m28.5 0h0m37 0h0m26.5 0h0m9 0h0m9.5 0h0m4 0h0m13 0h0m8 0h0m12 0h0m21 0h0m22 0h0m12 0h0m11.5 0h0m15.5 0h0m29 0h0m22.5 0h0m13 0h0m28.5 0h0m11.5 0h0m22.5 0h0m9 0h0M89.5 327.72h0m25 0h0m26 0h0m30.5 0h0m21 0h0m15 0h0m22.5 0h0m15.5 0h0m32 0h0m17 0h0m6 0h0m5.5 0h0m10.5 0h0m9.5 0h0m8.5 0h0m17.5 0h0m40 0h0m12 0h0m19 0h0m6 0h0m19.5 0h0m16.5 0h0m10 0h0m31.5 0h0m21 0h0m20 0h0M82 325.76h0m33.5 0h0m19 0h0m26.5 0h0m16 0h0m24 0h0m28.5 0h0m21.5 0h0m19.5 0h0m17 0h0m8 0h0m8.5 0h0m4.5 0h0m11.5 0h0m4 0h0m11 0h0m6.5 0h0m8.5 0h0m7.5 0h0m14 0h0m13 0h0m14 0h0m11.5 0h0m19 0h0m19 0h0m28 0h0m23 0h0m15.5 0h0m7 0h0m17.5 0h0m16 0h0m7 0h0M112 323.81h0m8.5 0h0m9 0h0m26 0h0m17.5 0h0m20.5 0h0m7.5 0h0m16.5 0h0m6 0h0m6 0h0m4.5 0h0m25.5 0h0m26.5 0h0m12.5 0h0m14 0h0m11 0h0m7.5 0h0m11.5 0h0m10 0h0m10 0h0m30.5 0h0m2.5 0h0m14.5 0h0m12.5 0h0m31.5 0h0m14 0h0m22.5 0h0m19 0h0m13 0h0m14 0h0m13 0h0m16 0h0M81.5 321.85h0m26.5 0h0m30.5 0h0m45 0h0m27.5 0h0m15.5 0h0m6.5 0h0m9.5 0h0m16 0h0m13.5 0h0m9 0h0m11.5 0h0m12 0h0m5.5 0h0m7.5 0h0m3.5 0h0m5 0h0m2 0h0m5.5 0h0m3.5 0h0m8.5 0h0m4 0h0m24.5 0h0m15 0h0m8.5 0h0m15 0h0m14 0h0m27 0h0m21 0h0m14.5 0h0m37 0h0m10 0h0m16.5 0h0m17 0h0M86 319.9h0m21 0h0m11.5 0h0m18.5 0h0m14 0h0m18.5 0h0m19.5 0h0m21.5 0h0m29.5 0h0m8.5 0h0m17.5 0h0m20.5 0h0m19 0h0m9.5 0h0m8 0h0m10.5 0h0m8.5 0h0m9.5 0h0m9.5 0h0m10.5 0h0m5 0h0m8.5 0h0m42.5 0h0m18 0h0m8 0h0m6 0h0m22 0h0m7 0h0m36.5 0h0m9 0h0m18 0h0m15 0h0M105.5 317.94h0m17 0h0m41.5 0h0m25.5 0h0m16 0h0m17.5 0h0m18.5 0h0m12.5 0h0m23.5 0h0m13.5 0h0m7 0h0m11.5 0h0m4.5 0h0m3 0h0m2.5 0h0m5.5 0h0m1.5 0h0m9.5 0h0m3.5 0h0m7 0h0m6.5 0h0m16 0h0m13.5 0h0m32 0h0m15 0h0m7.5 0h0m29.5 0h0m6 0h0m15.5 0h0m13 0h0m18.5 0h0m10 0h0m7.5 0h0m6 0h0M80 315.98h0m16.5 0h0m12.5 0h0m17 0h0m33.5 0h0m12 0h0m21.5 0h0m10 0h0m5.5 0h0m6 0h0m25 0h0m13.5 0h0m15.5 0h0m15.5 0h0m14.5 0h0m5.5 0h0m3 0h0m2.5 0h0m5.5 0h0m4 0h0m3.5 0h0m5 0h0m5 0h0m5.5 0h0m5.5 0h0m3 0h0m7 0h0m7.5 0h0m5 0h0m19.5 0h0m5 0h0m22.5 0h0m10.5 0h0m24.5 0h0m26 0h0m6.5 0h0m8 0h0m8 0h0m7 0h0m19.5 0h0m4.5 0h0m26 0h0m12.5 0h0M109 314.03h0m19 0h0m29.5 0h0m15 0h0m9.5 0h0m12.5 0h0m17 0h0m40.5 0h0m18 0h0m22 0h0m8.5 0h0m7.5 0h0m9.5 0h0m6 0h0m12.5 0h0m4.5 0h0m2 0h0m2.5 0h0m11 0h0m9 0h0m12.5 0h0m30 0h0m18 0h0m22 0h0m16 0h0m23.5 0h0m16 0h0m8 0h0m4.5 0h0m15.5 0h0m10 0h0m12.5 0h0m7 0h0M108.5 312.07h0m8 0h0m13 0h0m17 0h0m23.5 0h0m14 0h0m17 0h0m13 0h0m20.5 0h0m7 0h0m23 0h0m5 0h0m6 0h0m12.5 0h0m15 0h0m5.5 0h0m6 0h0m8 0h0m1 0h0m5.5 0h0m2 0h0m5 0h0m3 0h0m8 0h0m17.5 0h0m29.5 0h0m5 0h0m10.5 0h0m32 0h0m38 0h0m21.5 0h0m20.5 0h0m6.5 0h0m11 0h0m11 0h0M82 310.11h0m14.5 0h0m16.5 0h0m7.5 0h0m13 0h0m29 0h0m48.5 0h0m22 0h0m17 0h0m15 0h0m10 0h0m8.5 0h0m4 0h0m6.5 0h0m7.5 0h0m9.5 0h0m5 0h0m10.5 0h0m4 0h0m7 0h0m20 0h0m11 0h0m12 0h0m28 0h0m16 0h0m18 0h0m14.5 0h0m23 0h0m13 0h0m34.5 0h0m4 0h0m14 0h0m26 0h0M90.5 308.16h0m23.5 0h0m15.5 0h0m27.5 0h0m23 0h0m20.5 0h0m10 0h0m23 0h0m16 0h0m22.5 0h0m17 0h0m7 0h0m13.5 0h0m5 0h0m2 0h0m8 0h0m4.5 0h0m5.5 0h0m2.5 0h0m9.5 0h0m3 0h0m7 0h0m5.5 0h0m15 0h0m21.5 0h0m19 0h0m29 0h0m40.5 0h0m3.5 0h0m6 0h0m28.5 0h0m10 0h0m8.5 0h0m9 0h0m7 0h0M86.5 306.2h0m30 0h0m11.5 0h0m19 0h0m11.5 0h0m5.5 0h0m4.5 0h0m19 0h0m13.5 0h0m17.5 0h0m13 0h0m13 0h0m29.5 0h0m17 0h0m8 0h0m8.5 0h0m3.5 0h0m7 0h0m7 0h0m1 0h0m8 0h0m9.5 0h0m3 0h0m4.5 0h0m8.5 0h0m14 0h0m26.5 0h0m29 0h0m16 0h0m11.5 0h0m15 0h0m10 0h0m10.5 0h0m15.5 0h0m11.5 0h0m12.5 0h0m6.5 0h0m7.5 0h0m24.5 0h0M85.5 304.25h0m10 0h0m5.5 0h0m13 0h0m4.5 0h0m21 0h0m19.5 0h0m30 0h0m9.5 0h0m14.5 0h0m12.5 0h0m9.5 0h0m10.5 0h0m17 0h0m15 0h0m11.5 0h0m13.5 0h0m6 0h0m2.5 0h0m11.5 0h0m2 0h0m4.5 0h0m3.5 0h0m6.5 0h0m3.5 0h0m5.5 0h0m14 0h0m10.5 0h0m20 0h0m4.5 0h0m13.5 0h0m11 0h0m29.5 0h0m24.5 0h0m21.5 0h0m19.5 0h0m5 0h0m23 0h0m10.5 0h0M86 302.29h0m12 0h0m27.5 0h0m17.5 0h0m18 0h0m20 0h0m25.5 0h0m18 0h0m27 0h0m12 0h0m5 0h0m10.5 0h0m17.5 0h0m4 0h0m5.5 0h0m4.5 0h0m3.5 0h0m8 0h0m2.5 0h0m3 0h0m8 0h0m5.5 0h0m3.5 0h0m3 0h0m4.5 0h0m8 0h0m6 0h0m12 0h0m6.5 0h0m31.5 0h0m18 0h0m32.5 0h0m45.5 0h0m15 0h0m17.5 0h0M91.5 300.33h0m15.5 0h0m18.5 0h0m18 0h0m17 0h0m22.5 0h0m11.5 0h0m7.5 0h0m11 0h0m11 0h0m17.5 0h0m2.5 0h0m9.5 0h0m11 0h0m11.5 0h0m10 0h0m8 0h0m4.5 0h0m2 0h0m7 0h0m5 0h0m0 0h0m4.5 0h0m3 0h0m4 0h0m2 0h0m4.5 0h0m4.5 0h0m5.5 0h0m2 0h0m2.5 0h0m7 0h0m22.5 0h0m27 0h0m27.5 0h0m5.5 0h0m12.5 0h0m14 0h0m13 0h0m16 0h0m31.5 0h0m23.5 0h0m11.5 0h0m8.5 0h0M89 298.38h0m21.5 0h0m13.5 0h0m21.5 0h0m9 0h0m33 0h0m15.5 0h0m17 0h0m7.5 0h0m26.5 0h0m24.5 0h0m3 0h0m5 0h0m6 0h0m12.5 0h0m6.5 0h0m2 0h0m10.5 0h0m2.5 0h0m8.5 0h0m4 0h0m4 0h0m10.5 0h0m3 0h0m4.5 0h0m13.5 0h0m6 0h0m6.5 0h0m12.5 0h0m8.5 0h0m7 0h0m7 0h0m26.5 0h0m9.5 0h0m9 0h0m36.5 0h0m11.5 0h0m12.5 0h0m19.5 0h0m16 0h0M83.5 296.42h0m13.5 0h0m30.5 0h0m4.5 0h0m19 0h0m7 0h0m14 0h0m31 0h0m22.5 0h0m19 0h0m16 0h0m9 0h0m17 0h0m10 0h0m4.5 0h0m4 0h0m4 0h0m4.5 0h0m3 0h0m4 0h0m2.5 0h0m2.5 0h0m7 0h0m6.5 0h0m1.5 0h0m6.5 0h0m6.5 0h0m14 0h0m3.5 0h0m8 0h0m16.5 0h0m18 0h0m8 0h0m35 0h0m16.5 0h0m14 0h0m23.5 0h0m10.5 0h0m5.5 0h0m8.5 0h0m16 0h0m12.5 0h0M85.5 294.46h0m27 0h0m16 0h0m10.5 0h0m16 0h0m19 0h0m6 0h0m17.5 0h0m9 0h0m11.5 0h0m6.5 0h0m21 0h0m7.5 0h0m6 0h0m2 0h0m6 0h0m8 0h0m6.5 0h0m9 0h0m7 0h0m2 0h0m9 0h0m2 0h0m3 0h0m7 0h0m2.5 0h0m1.5 0h0m4.5 0h0m1.5 0h0m1.5 0h0m3 0h0m7.5 0h0m4 0h0m6.5 0h0m5 0h0m4 0h0m8.5 0h0m18 0h0m8.5 0h0m15 0h0m7 0h0m28 0h0m13 0h0m25 0h0m31 0h0m17.5 0h0m10.5 0h0m3.5 0h0m4.5 0h0M110 292.51h0m25 0h0m10.5 0h0m14 0h0m16 0h0m4 0h0m21.5 0h0m15.5 0h0m15 0h0m18 0h0m8.5 0h0m11.5 0h0m10.5 0h0m4 0h0m2 0h0m8 0h0m4.5 0h0m4 0h0m5.5 0h0m5 0h0m1.5 0h0m2 0h0m3 0h0m4 0h0m1.5 0h0m3 0h0m1.5 0h0m2.5 0h0m5.5 0h0m4 0h0m5 0h0m9 0h0m9 0h0m12 0h0m8.5 0h0m14.5 0h0m15 0h0m22 0h0m16.5 0h0m8 0h0m6 0h0m28 0h0m24 0h0m12.5 0h0m21.5 0h0m12.5 0h0M90.5 290.55h0m21 0h0m10.5 0h0m20 0h0m9 0h0m20 0h0m28 0h0m30.5 0h0m13 0h0m14.5 0h0m20.5 0h0m14.5 0h0m8 0h0m5 0h0m2.5 0h0m1.5 0h0m4.5 0h0m5 0h0m5.5 0h0m3 0h0m3.5 0h0m5 0h0m2 0h0m6.5 0h0m8 0h0m14.5 0h0m13.5 0h0m12 0h0m29 0h0m8.5 0h0m12.5 0h0m14 0h0m28.5 0h0m17 0h0m25.5 0h0m19.5 0h0m6.5 0h0m14 0h0M84 288.59h0m18.5 0h0m9.5 0h0m6.5 0h0m17 0h0m20 0h0m23.5 0h0m32.5 0h0m22 0h0m17 0h0m20.5 0h0m14.5 0h0m6 0h0m5 0h0m4.5 0h0m5.5 0h0m1.5 0h0m3 0h0m2.5 0h0m5 0h0m5.5 0h0m5.5 0h0m3.5 0h0m5 0h0m3.5 0h0m2.5 0h0m6.5 0h0m1.5 0h0m8 0h0m6 0h0m10.5 0h0m11.5 0h0m5 0h0m10 0h0m1.5 0h0m28.5 0h0m19 0h0m9.5 0h0m5 0h0m24.5 0h0m12 0h0m8 0h0m6.5 0h0m29 0h0m8 0h0M85.5 286.64h0m14.5 0h0m14.5 0h0m6 0h0m15 0h0m7 0h0m4 0h0m17 0h0m16 0h0m13 0h0m15 0h0m15.5 0h0m21 0h0m21.5 0h0m18.5 0h0m11.5 0h0m4 0h0m5 0h0m5 0h0m2 0h0m3 0h0m5 0h0m9 0h0m3.5 0h0m3 0h0m2 0h0m6 0h0m3.5 0h0m6.5 0h0m4.5 0h0m7 0h0m5.5 0h0m6 0h0m19 0h0m6 0h0m32.5 0h0m13 0h0m17.5 0h0m8 0h0m13.5 0h0m17 0h0m5.5 0h0m24 0h0m20 0h0m10 0h0M103 284.68h0m13 0h0m20 0h0m14 0h0m10.5 0h0m16 0h0m25 0h0m8.5 0h0m7.5 0h0m20 0h0m13.5 0h0m12 0h0m5 0h0m19.5 0h0m4.5 0h0m6.5 0h0m5 0h0m3 0h0m2.5 0h0m2.5 0h0m3 0h0m5.5 0h0m1.5 0h0m1.5 0h0m4.5 0h0m2.5 0h0m2.5 0h0m.5 0h0m2 0h0m3.5 0h0m4.5 0h0m5.5 0h0m6 0h0m11.5 0h0m11.5 0h0m23 0h0m11 0h0m8 0h0m27 0h0m17.5 0h0m18 0h0m20.5 0h0m18 0h0m10 0h0m22 0h0M90.5 282.73h0m19 0h0m17 0h0m10 0h0m32 0h0m31 0h0m4.5 0h0m25 0h0m43 0h0m4 0h0m12 0h0m10 0h0m6.5 0h0m4 0h0m3 0h0m3 0h0m1 0h0m3 0h0m5 0h0m2 0h0m4 0h0m5 0h0m4 0h0m4 0h0m3 0h0m7 0h0m2.5 0h0m3 0h0m1.5 0h0m4 0h0m7.5 0h0m15 0h0m13.5 0h0m40 0h0m12.5 0h0m29 0h0m22.5 0h0m23 0h0m13.5 0h0m28.5 0h0M87 280.77h0m13.5 0h0m14 0h0m14.5 0h0m21 0h0m31.5 0h0m8.5 0h0m13 0h0m16 0h0m30.5 0h0m23 0h0m10.5 0h0m8 0h0m3 0h0m5 0h0m3 0h0m7 0h0m5.5 0h0m1.5 0h0m5.5 0h0m3.5 0h0m1 0h0m3.5 0h0m5.5 0h0m2 0h0m2.5 0h0m3 0h0m5.5 0h0m2.5 0h0m1 0h0m8.5 0h0m5 0h0m4.5 0h0m25.5 0h0m10.5 0h0m41 0h0m10.5 0h0m9 0h0m15 0h0m8.5 0h0m25.5 0h0m27.5 0h0M83.5 278.81h0m29.5 0h0m14.5 0h0m14 0h0m20.5 0h0m12 0h0m26.5 0h0m7 0h0m12.5 0h0m29.5 0h0m8 0h0m4.5 0h0m21 0h0m7.5 0h0m11 0h0m5.5 0h0m9.5 0h0m3.5 0h0m4.5 0h0m4 0h0m4.5 0h0m1 0h0m1.5 0h0m2.5 0h0m4.5 0h0m5 0h0m4.5 0h0m6.5 0h0m10 0h0m20.5 0h0m6 0h0m18.5 0h0m13 0h0m5 0h0m10 0h0m22.5 0h0m15.5 0h0m11 0h0m13.5 0h0m5.5 0h0m13.5 0h0m16 0h0m7 0h0m9 0h0M81.5 276.86h0m20 0h0m26 0h0m10.5 0h0m6 0h0m18.5 0h0m12 0h0m21 0h0m15 0h0m24 0h0m6 0h0m7.5 0h0m21 0h0m15.5 0h0m9.5 0h0m6.5 0h0m4.5 0h0m3 0h0m5 0h0m6 0h0m4 0h0m2 0h0m2 0h0m1.5 0h0m3.5 0h0m1.5 0h0m1 0h0m5.5 0h0m2 0h0m4 0h0m11 0h0m18 0h0m7 0h0m17.5 0h0m5.5 0h0m6 0h0m10 0h0m21.5 0h0m14.5 0h0m40.5 0h0m28.5 0h0m15.5 0h0m29.5 0h0M97 274.9h0m14.5 0h0m29 0h0m10.5 0h0m8.5 0h0m11.5 0h0m17.5 0h0m11.5 0h0m33 0h0m17 0h0m10.5 0h0m8 0h0m8.5 0h0m8 0h0m7 0h0m5.5 0h0m1.5 0h0m7 0h0m2 0h0m3.5 0h0m2.5 0h0m2.5 0h0m3.5 0h0m3 0h0m2.5 0h0m3.5 0h0m5 0h0m1 0h0m3.5 0h0m4 0h0m7.5 0h0m4.5 0h0m3.5 0h0m3.5 0h0m1 0h0m13 0h0m9.5 0h0m13 0h0m5 0h0m6 0h0m9 0h0m20.5 0h0m18.5 0h0m19 0h0m23 0h0m33.5 0h0m5.5 0h0m15 0h0m10.5 0h0M84 272.94h0m12 0h0m5 0h0m9.5 0h0m21.5 0h0m36.5 0h0m17 0h0m18 0h0m11.5 0h0m6 0h0m7.5 0h0m38 0h0m15.5 0h0m10 0h0m6 0h0m7 0h0m4 0h0m5 0h0m3 0h0m3 0h0m3 0h0m6 0h0m2 0h0m5 0h0m3.5 0h0m2.5 0h0m7 0h0m4.5 0h0m5 0h0m4.5 0h0m3.5 0h0m4.5 0h0m13 0h0m12.5 0h0m35 0h0m23.5 0h0m8 0h0m10 0h0m24.5 0h0m19 0h0m10.5 0h0m20 0h0m18 0h0M83 270.99h0m7.5 0h0m14.5 0h0m14.5 0h0m28.5 0h0m32 0h0m21 0h0m11 0h0m13.5 0h0m16.5 0h0m13.5 0h0m15 0h0m17 0h0m7.5 0h0m3.5 0h0m5.5 0h0m4 0h0m4.5 0h0m2.5 0h0m4.5 0h0m2.5 0h0m.5 0h0m1.5 0h0m1.5 0h0m1.5 0h0m1.5 0h0m2.5 0h0m4 0h0m1.5 0h0m2.5 0h0m1.5 0h0m4.5 0h0m1.5 0h0m2 0h0m5.5 0h0m7.5 0h0m7 0h0m3 0h0m6.5 0h0m7 0h0m5 0h0m22.5 0h0m20.5 0h0m13 0h0m12.5 0h0m13 0h0m20 0h0m19.5 0h0m7.5 0h0m8.5 0h0m31 0h0M81 269.03h0m19.5 0h0m3.5 0h0m13 0h0m11.5 0h0m14.5 0h0m16 0h0m15 0h0m14.5 0h0m6.5 0h0m17.5 0h0m16 0h0m9 0h0m11.5 0h0m15 0h0m6 0h0m8 0h0m4.5 0h0m4 0h0m3 0h0m8 0h0m5.5 0h0m6 0h0m1 0h0m5.5 0h0m7.5 0h0m2 0h0m2 0h0m3 0h0m3.5 0h0m1 0h0m6 0h0m1 0h0m3 0h0m.5 0h0m5 0h0m2.5 0h0m2.5 0h0m3.5 0h0m8.5 0h0m2.5 0h0m5.5 0h0m14 0h0m17 0h0m12.5 0h0m14.5 0h0m32 0h0m17 0h0m21 0h0m12.5 0h0m43.5 0h0M92.5 267.08h0m16 0h0m18.5 0h0m15 0h0m20 0h0m27.5 0h0m13 0h0m28 0h0m16 0h0m5.5 0h0m4 0h0m12 0h0m15.5 0h0m12.5 0h0m7 0h0m3 0h0m4 0h0m.5 0h0m2.5 0h0m4 0h0m1 0h0m3.5 0h0m6 0h0m5 0h0m7 0h0m2.5 0h0m2.5 0h0m2.5 0h0m5 0h0m3 0h0m6.5 0h0m6.5 0h0m25.5 0h0m15.5 0h0m11 0h0m13 0h0m15 0h0m9.5 0h0m11 0h0m4.5 0h0m19 0h0m21 0h0m19 0h0m18.5 0h0m10.5 0h0m10.5 0h0M87.5 265.12h0m15.5 0h0m39 0h0m16.5 0h0m38 0h0m15 0h0m11 0h0m16.5 0h0m14.5 0h0m10 0h0m6 0h0m5.5 0h0m7.5 0h0m6 0h0m9.5 0h0m7 0h0m3 0h0m2 0h0m3.5 0h0m5 0h0m3 0h0m2.5 0h0m8 0h0m3 0h0m2 0h0m3.5 0h0m3.5 0h0m6 0h0m.5 0h0m6 0h0m3 0h0m7 0h0m13 0h0m10.5 0h0m14.5 0h0m24 0h0m12 0h0m13 0h0m26 0h0m19 0h0m8.5 0h0m28 0h0m19.5 0h0M95.5 263.16h0m13.5 0h0m22 0h0m5 0h0m16.5 0h0m15.5 0h0m16 0h0m12.5 0h0m15 0h0m11.5 0h0m10.5 0h0m7.5 0h0m19.5 0h0m11 0h0m10 0h0m5.5 0h0m12.5 0h0m4 0h0m3.5 0h0m2.5 0h0m6.5 0h0m2 0h0m2.5 0h0m1 0h0m1.5 0h0m2.5 0h0m4 0h0m1.5 0h0m3 0h0m2.5 0h0m3 0h0m1.5 0h0m3.5 0h0m5.5 0h0m1.5 0h0m7.5 0h0m8 0h0m21.5 0h0m8 0h0m21 0h0m15 0h0m10.5 0h0m9.5 0h0m23 0h0m10 0h0m17 0h0m28 0h0m12 0h0m3.5 0h0m24.5 0h0M87 261.21h0m20.5 0h0m11 0h0m7 0h0m33 0h0m11 0h0m26 0h0m22.5 0h0m20.5 0h0m5 0h0m10.5 0h0m11 0h0m9 0h0m12.5 0h0m7 0h0m3 0h0m4.5 0h0m2.5 0h0m2.5 0h0m3 0h0m.5 0h0m2.5 0h0m1 0h0m3 0h0m3 0h0m1.5 0h0m1.5 0h0m2 0h0m1.5 0h0m2 0h0m4 0h0m3 0h0m1 0h0m3 0h0m4 0h0m5.5 0h0m4 0h0m5 0h0m6 0h0m12.5 0h0m19 0h0m19 0h0m14 0h0m26 0h0m26.5 0h0m25 0h0m24.5 0h0m22.5 0h0M83.5 259.25h0m10.5 0h0m16.5 0h0m9.5 0h0m13 0h0m33.5 0h0m9 0h0m14.5 0h0m18.5 0h0m40.5 0h0m14 0h0m4 0h0m10 0h0m4 0h0m10.5 0h0m5 0h0m5 0h0m3.5 0h0m2 0h0m1 0h0m6.5 0h0m5 0h0m3.5 0h0m1 0h0m1.5 0h0m2.5 0h0m1 0h0m3 0h0m1 0h0m1 0h0m3.5 0h0m4 0h0m7.5 0h0m6 0h0m4 0h0m4 0h0m11 0h0m5 0h0m13 0h0m26 0h0m28 0h0m15 0h0m22 0h0m32.5 0h0m21 0h0m13 0h0m10.5 0h0M97 257.29h0m22.5 0h0m29 0h0m4.5 0h0m21.5 0h0m31.5 0h0m40 0h0m9 0h0m14 0h0m4.5 0h0m21 0h0m4.5 0h0m4.5 0h0m3.5 0h0m2.5 0h0m4.5 0h0m1 0h0m3.5 0h0m2.5 0h0m2.5 0h0m2.5 0h0m1.5 0h0m1.5 0h0m3 0h0m4 0h0m2.5 0h0m3 0h0m2.5 0h0m4 0h0m4 0h0m6.5 0h0m17.5 0h0m4.5 0h0m8.5 0h0m25 0h0m10 0h0m25 0h0m12 0h0m19 0h0m15 0h0m4 0h0m8.5 0h0m22.5 0h0m12 0h0m16.5 0h0M87 255.34h0m24.5 0h0m29 0h0m16.5 0h0m19 0h0m13.5 0h0m16 0h0m16 0h0m7 0h0m18.5 0h0m19 0h0m17 0h0m7.5 0h0m7 0h0m4.5 0h0m3 0h0m1.5 0h0m4.5 0h0m3.5 0h0m4 0h0m2 0h0m5 0h0m1.5 0h0m1.5 0h0m1 0h0m3 0h0m1.5 0h0m4 0h0m3.5 0h0m4 0h0m4.5 0h0m1 0h0m7.5 0h0m6 0h0m8.5 0h0m2 0h0m11.5 0h0m8 0h0m8.5 0h0m10.5 0h0m10.5 0h0m9 0h0m17.5 0h0m25.5 0h0m22.5 0h0m8 0h0m20 0h0m26 0h0M101.5 253.38h0m17 0h0m10 0h0m37 0h0m14.5 0h0m12 0h0m15.5 0h0m21 0h0m8.5 0h0m20.5 0h0m10.5 0h0m10 0h0m7.5 0h0m5.5 0h0m5 0h0m3 0h0m2 0h0m2 0h0m4 0h0m2 0h0m3 0h0m2 0h0m2 0h0m1 0h0m2 0h0m2.5 0h0m3 0h0m2.5 0h0m5 0h0m3.5 0h0m3.5 0h0m4 0h0m2.5 0h0m3 0h0m7.5 0h0m5 0h0m6 0h0m14 0h0m14 0h0m18 0h0m13.5 0h0m4 0h0m10 0h0m15 0h0m9 0h0m21.5 0h0m15 0h0m18 0h0m17.5 0h0m19 0h0M93 251.43h0m22 0h0m21.5 0h0m16 0h0m6.5 0h0m20 0h0m7 0h0m8.5 0h0m20 0h0m29.5 0h0m17 0h0m15.5 0h0m7.5 0h0m4 0h0m3 0h0m3.5 0h0m4 0h0m3.5 0h0m3 0h0m4.5 0h0m3 0h0m.5 0h0m5.5 0h0m1.5 0h0m1.5 0h0m7.5 0h0m1.5 0h0m5 0h0m6.5 0h0m3 0h0m2.5 0h0m.5 0h0m3 0h0m1.5 0h0m3 0h0m6 0h0m4.5 0h0m8.5 0h0m5.5 0h0m7.5 0h0m19 0h0m12.5 0h0m14.5 0h0m10 0h0m27.5 0h0m11 0h0m6.5 0h0m18.5 0h0m19 0h0m8 0h0m12 0h0m11.5 0h0m7.5 0h0M94.5 249.47h0m23.5 0h0m7.5 0h0m30 0h0m11.5 0h0m8 0h0m27 0h0m14.5 0h0m10 0h0m18 0h0m10.5 0h0m19.5 0h0m8 0h0m7.5 0h0m4.5 0h0m4.5 0h0m3.5 0h0m4.5 0h0m5.5 0h0m3 0h0m2 0h0m2.5 0h0m2.5 0h0m1 0h0m2 0h0m2 0h0m2 0h0m2.5 0h0m1.5 0h0m1.5 0h0m1.5 0h0m3.5 0h0m2 0h0m3 0h0m11.5 0h0m3.5 0h0m2 0h0m4.5 0h0m14 0h0m6 0h0m17 0h0m14.5 0h0m5.5 0h0m17.5 0h0m45 0h0m8.5 0h0m6 0h0m30.5 0h0m25 0h0M85 247.51h0m21 0h0m9 0h0m7.5 0h0m20.5 0h0m27.5 0h0m7 0h0m5.5 0h0m17.5 0h0m20 0h0m20.5 0h0m5.5 0h0m10 0h0m17 0h0m5 0h0m5.5 0h0m1.5 0h0m6.5 0h0m3.5 0h0m4 0h0m2.5 0h0m4 0h0m3.5 0h0m4 0h0m2 0h0m2.5 0h0m2.5 0h0m1.5 0h0m1.5 0h0m1.5 0h0m1.5 0h0m.5 0h0m3 0h0m4 0h0m3.5 0h0m3 0h0m2.5 0h0m4.5 0h0m3 0h0m4 0h0m5.5 0h0m2.5 0h0m4 0h0m11.5 0h0m15.5 0h0m19 0h0m13 0h0m32.5 0h0m12.5 0h0m19.5 0h0m16.5 0h0m16.5 0h0m25 0h0M108 245.56h0m17.5 0h0m18.5 0h0m31.5 0h0m10 0h0m20.5 0h0m29 0h0m24.5 0h0m8 0h0m9 0h0m10 0h0m2.5 0h0m1.5 0h0m9 0h0m9.5 0h0m7.5 0h0m3 0h0m1.5 0h0m4 0h0m2 0h0m2 0h0m1.5 0h0m1.5 0h0m1 0h0m2 0h0m1.5 0h0m3.5 0h0m1 0h0m2.5 0h0m4 0h0m3 0h0m5 0h0m4.5 0h0m4.5 0h0m7.5 0h0m3.5 0h0m11 0h0m6.5 0h0m32 0h0m12 0h0m14 0h0m15.5 0h0m8 0h0m19 0h0m20 0h0m15 0h0m21 0h0m14.5 0h0M87 243.6h0m13.5 0h0m18.5 0h0m21.5 0h0m8.5 0h0m15 0h0m26 0h0m28.5 0h0m11 0h0m34.5 0h0m18 0h0m3 0h0m1.5 0h0m13 0h0m5 0h0m3.5 0h0m3 0h0m2 0h0m1 0h0m3.5 0h0m1 0h0m1.5 0h0m3.5 0h0m2 0h0m2.5 0h0m2.5 0h0m1 0h0m1.5 0h0m2.5 0h0m5.5 0h0m2 0h0m2.5 0h0m5 0h0m3 0h0m1 0h0m3.5 0h0m4 0h0m8.5 0h0m20 0h0m14 0h0m6 0h0m8 0h0m15.5 0h0m6.5 0h0m13.5 0h0m10 0h0m14 0h0m7 0h0m15.5 0h0m22 0h0m17 0h0m14.5 0h0M81 241.64h0m19 0h0m35 0h0m20 0h0m11 0h0m2.5 0h0m12.5 0h0m18.5 0h0m25.5 0h0m10.5 0h0m10 0h0m12.5 0h0m12 0h0m10.5 0h0m6.5 0h0m8 0h0m3 0h0m4 0h0m4.5 0h0m5.5 0h0m5.5 0h0m1.5 0h0m3 0h0m1 0h0m4.5 0h0m5 0h0m2 0h0m1.5 0h0m.5 0h0m4 0h0m1.5 0h0m2 0h0m3.5 0h0m2.5 0h0m3.5 0h0m2 0h0m3 0h0m3.5 0h0m1 0h0m6 0h0m4 0h0m12.5 0h0m11.5 0h0m6 0h0m6 0h0m9.5 0h0m16 0h0m7 0h0m17.5 0h0m6.5 0h0m16 0h0m7 0h0m10.5 0h0m15.5 0h0m15.5 0h0m23.5 0h0m8.5 0h0M96.5 239.69h0m5.5 0h0m5 0h0m18 0h0m40.5 0h0m18.5 0h0m24 0h0m21.5 0h0m11.5 0h0m14 0h0m18.5 0h0m9.5 0h0m3.5 0h0m6 0h0m4.5 0h0m3 0h0m1 0h0m2.5 0h0m6 0h0m5 0h0m6 0h0m3 0h0m2 0h0m4 0h0m1 0h0m3.5 0h0m2.5 0h0m4.5 0h0m1.5 0h0m6.5 0h0m2.5 0h0m4 0h0m4 0h0m3 0h0m3.5 0h0m6.5 0h0m8 0h0m7 0h0m8.5 0h0m10 0h0m29 0h0m14.5 0h0m34 0h0m23.5 0h0m22.5 0h0m23 0h0m8 0h0M89.5 237.73h0m42.5 0h0m24 0h0m7 0h0m14 0h0m13.5 0h0m43 0h0m8.5 0h0m12 0h0m8.5 0h0m8.5 0h0m14.5 0h0m8.5 0h0m1.5 0h0m3 0h0m2.5 0h0m2 0h0m4.5 0h0m2.5 0h0m1.5 0h0m3 0h0m5.5 0h0m1 0h0m5.5 0h0m2 0h0m1 0h0m2.5 0h0m1.5 0h0m2.5 0h0m2 0h0m3 0h0m3 0h0m1.5 0h0m3 0h0m10 0h0m10 0h0m14 0h0m16.5 0h0m6 0h0m42 0h0m3.5 0h0m24.5 0h0m20.5 0h0m16 0h0m12 0h0m17.5 0h0m9 0h0m19.5 0h0M82.5 235.77h0m26.5 0h0m25 0h0m22.5 0h0m9 0h0m18 0h0m31 0h0m18.5 0h0m22.5 0h0m11.5 0h0m9.5 0h0m8 0h0m6.5 0h0m3.5 0h0m4 0h0m1 0h0m2.5 0h0m1.5 0h0m1.5 0h0m1.5 0h0m4 0h0m3 0h0m1 0h0m2 0h0m2.5 0h0m1.5 0h0m3 0h0m4 0h0m2 0h0m3.5 0h0m3 0h0m.5 0h0m4 0h0m1.5 0h0m2.5 0h0m4 0h0m2.5 0h0m7 0h0m4.5 0h0m25.5 0h0m13.5 0h0m31.5 0h0m13 0h0m18 0h0m18 0h0m6.5 0h0m21 0h0m39 0h0m10 0h0m9 0h0M83.5 233.82h0m8 0h0m10.5 0h0m16 0h0m10 0h0m18.5 0h0m14 0h0m10 0h0m41 0h0m15 0h0m15 0h0m10.5 0h0m23 0h0m7.5 0h0m6.5 0h0m8 0h0m7 0h0m3 0h0m2.5 0h0m2 0h0m1.5 0h0m2.5 0h0m3.5 0h0m2.5 0h0m1.5 0h0m1.5 0h0m1.5 0h0m6.5 0h0m3 0h0m1 0h0m1.5 0h0m5.5 0h0m2 0h0m2 0h0m5 0h0m3 0h0m3 0h0m10.5 0h0m7 0h0m9 0h0m20.5 0h0m15 0h0m37 0h0m20.5 0h0m44.5 0h0m9.5 0h0m17.5 0h0m7.5 0h0M88.5 231.86h0m24.5 0h0m31 0h0m17 0h0m9 0h0m11.5 0h0m15.5 0h0m20.5 0h0m16 0h0m11 0h0m18.5 0h0m14 0h0m3.5 0h0m6 0h0m4 0h0m9.5 0h0m3.5 0h0m3 0h0m5 0h0m2 0h0m4 0h0m2.5 0h0m5 0h0m2 0h0m2.5 0h0m4.5 0h0m4.5 0h0m5 0h0m3 0h0m5 0h0m1.5 0h0m4.5 0h0m4.5 0h0m4 0h0m16.5 0h0m8.5 0h0m11 0h0m3.5 0h0m4.5 0h0m25 0h0m9 0h0m17 0h0m43 0h0m6.5 0h0m20.5 0h0m26 0h0m8 0h0M94.5 229.91h0m24 0h0m35 0h0m6.5 0h0m16 0h0m11.5 0h0m13 0h0m17.5 0h0m14 0h0m22 0h0m12.5 0h0m20 0h0m7 0h0m3 0h0m2.5 0h0m5 0h0m3 0h0m3 0h0m5.5 0h0m3.5 0h0m1.5 0h0m1.5 0h0m1 0h0m2 0h0m1 0h0m2.5 0h0m2.5 0h0m1.5 0h0m4 0h0m2 0h0m3.5 0h0m5.5 0h0m4 0h0m3.5 0h0m1.5 0h0m1.5 0h0m11.5 0h0m7.5 0h0m8 0h0m3.5 0h0m29 0h0m8 0h0m22 0h0m16.5 0h0m18.5 0h0m23 0h0m23.5 0h0m8.5 0h0m10.5 0h0m5.5 0h0M88 227.95h0m4 0h0m2 0h0m39.5 0h0m11 0h0m9.5 0h0m24 0h0m20 0h0m15 0h0m21 0h0m13 0h0m13 0h0m11.5 0h0m8.5 0h0m7.5 0h0m7.5 0h0m7 0h0m4 0h0m3 0h0m2.5 0h0m4 0h0m3.5 0h0m2 0h0m4 0h0m1.5 0h0m4 0h0m4.5 0h0m4 0h0m2.5 0h0m3.5 0h0m3.5 0h0m11 0h0m8.5 0h0m5.5 0h0m6.5 0h0m28.5 0h0m6.5 0h0m26 0h0m16.5 0h0m21.5 0h0m9 0h0m17 0h0m8 0h0m8.5 0h0m15 0h0m7 0h0m13 0h0m8.5 0h0M89.5 225.99h0m8 0h0m5 0h0m24.5 0h0m9.5 0h0m3.5 0h0m11 0h0m15 0h0m7.5 0h0m24.5 0h0m19 0h0m25 0h0m14.5 0h0m21 0h0m13.5 0h0m3 0h0m7 0h0m2.5 0h0m1.5 0h0m3 0h0m3 0h0m2 0h0m2.5 0h0m3.5 0h0m1 0h0m1.5 0h0m5 0h0m4 0h0m2 0h0m3 0h0m4.5 0h0m1.5 0h0m7 0h0m3 0h0m6 0h0m14 0h0m7 0h0m13.5 0h0m12.5 0h0m33.5 0h0m14 0h0m8 0h0m24 0h0m21.5 0h0m13 0h0m12 0h0m10 0h0m6.5 0h0m17.5 0h0M85 224.04h0m3 0h0m21 0h0m8.5 0h0m17.5 0h0m12 0h0m18.5 0h0m14 0h0m8.5 0h0m22 0h0m2.5 0h0m20.5 0h0m18.5 0h0m5.5 0h0m6 0h0m9.5 0h0m6 0h0m2 0h0m3.5 0h0m8 0h0m5.5 0h0m4 0h0m3 0h0m7 0h0m2.5 0h0m3.5 0h0m2.5 0h0m2.5 0h0m1 0h0m1.5 0h0m5.5 0h0m3.5 0h0m4 0h0m4 0h0m2.5 0h0m3 0h0m2.5 0h0m6.5 0h0m14.5 0h0m25.5 0h0m14 0h0m17 0h0m7 0h0m23.5 0h0m45.5 0h0m15 0h0m27 0h0M96.5 222.08h0m15.5 0h0m34 0h0m15 0h0m10.5 0h0m11 0h0m13 0h0m15.5 0h0m10.5 0h0m17.5 0h0m11 0h0m27.5 0h0m3.5 0h0m8.5 0h0m3.5 0h0m5 0h0m2.5 0h0m4 0h0m1.5 0h0m2.5 0h0m3.5 0h0m3 0h0m1.5 0h0m2 0h0m.5 0h0m4 0h0m2 0h0m2 0h0m3 0h0m.5 0h0m3.5 0h0m3 0h0m4 0h0m1.5 0h0m2.5 0h0m8 0h0m5.5 0h0m1 0h0m11.5 0h0m6.5 0h0m20.5 0h0m6.5 0h0m9 0h0m10 0h0m24.5 0h0m3.5 0h0m14 0h0m8 0h0m11.5 0h0m6.5 0h0m10.5 0h0m11.5 0h0m18.5 0h0m22.5 0h0M100 220.12h0m9 0h0m11.5 0h0m11.5 0h0m21 0h0m7.5 0h0m15 0h0m9 0h0m6.5 0h0m18.5 0h0m5.5 0h0m9 0h0m24 0h0m15 0h0m11.5 0h0m8 0h0m1.5 0h0m5 0h0m3 0h0m6.5 0h0m2 0h0m5 0h0m3 0h0m2.5 0h0m1.5 0h0m2.5 0h0m1 0h0m4 0h0m1 0h0m1 0h0m4 0h0m5 0h0m2.5 0h0m2 0h0m2 0h0m4.5 0h0m4 0h0m.5 0h0m3 0h0m6.5 0h0m3.5 0h0m4 0h0m2.5 0h0m7 0h0m7 0h0m11.5 0h0m1.5 0h0m8 0h0m17.5 0h0m9.5 0h0m15 0h0m12 0h0m14 0h0m12 0h0m14 0h0m39.5 0h0m19 0h0m18 0h0M102 218.17h0m10.5 0h0m11 0h0m32.5 0h0m25 0h0m10.5 0h0m15.5 0h0m26 0h0m10 0h0m7.5 0h0m17.5 0h0m10.5 0h0m7 0h0m4 0h0m2.5 0h0m3 0h0m1 0h0m6 0h0m2.5 0h0m3 0h0m1.5 0h0m4 0h0m2 0h0m2 0h0m3 0h0m1.5 0h0m.5 0h0m1.5 0h0m2.5 0h0m2 0h0m1.5 0h0m1.5 0h0m4.5 0h0m2 0h0m3 0h0m2 0h0m3.5 0h0m1 0h0m4.5 0h0m3.5 0h0m2.5 0h0m12 0h0m4.5 0h0m4 0h0m4.5 0h0m23 0h0m16 0h0m19 0h0m13.5 0h0m11 0h0m29.5 0h0m19 0h0m20 0h0m8 0h0m15.5 0h0m13 0h0M89.5 216.21h0m24 0h0m7 0h0m9.5 0h0m24 0h0m18 0h0m9.5 0h0m19.5 0h0m20 0h0m20 0h0m17 0h0m13.5 0h0m3 0h0m10 0h0m7.5 0h0m5 0h0m7.5 0h0m2 0h0m4 0h0m2.5 0h0m2 0h0m2.5 0h0m3 0h0m4 0h0m2 0h0m2 0h0m3 0h0m1.5 0h0m3 0h0m2 0h0m2.5 0h0m3 0h0m2.5 0h0m4 0h0m2 0h0m7 0h0m.5 0h0m4.5 0h0m11 0h0m14.5 0h0m10.5 0h0m3.5 0h0m5.5 0h0m3.5 0h0m6.5 0h0m9.5 0h0m13.5 0h0m24 0h0m17 0h0m17.5 0h0m12 0h0m18 0h0m28.5 0h0m9 0h0M80.5 214.26h0m20.5 0h0m11.5 0h0m38.5 0h0m22.5 0h0m50.5 0h0m8 0h0m15.5 0h0m7.5 0h0m11.5 0h0m3.5 0h0m12 0h0m8 0h0m5 0h0m5 0h0m2.5 0h0m3 0h0m4 0h0m1.5 0h0m4.5 0h0m1 0h0m2 0h0m2.5 0h0m2 0h0m3.5 0h0m3.5 0h0m4 0h0m2 0h0m2.5 0h0m5.5 0h0m2.5 0h0m7 0h0m4 0h0m3 0h0m1.5 0h0m7 0h0m15 0h0m18 0h0m14.5 0h0m9 0h0m19 0h0m11.5 0h0m11 0h0m5.5 0h0m14.5 0h0m11.5 0h0m10 0h0m39 0h0m19.5 0h0M100 212.3h0m19.5 0h0m14 0h0m13 0h0m15.5 0h0m14.5 0h0m10.5 0h0m25 0h0m13 0h0m13.5 0h0m24 0h0m8 0h0m10 0h0m5.5 0h0m5.5 0h0m8 0h0m3.5 0h0m4 0h0m1.5 0h0m3.5 0h0m3 0h0m2 0h0m1.5 0h0m1.5 0h0m2.5 0h0m2.5 0h0m1 0h0m1 0h0m2 0h0m4 0h0m2 0h0m3 0h0m3 0h0m2 0h0m4 0h0m3.5 0h0m4.5 0h0m4.5 0h0m5 0h0m3 0h0m7 0h0m13.5 0h0m9.5 0h0m2 0h0m10.5 0h0m48.5 0h0m31.5 0h0m21.5 0h0m12 0h0m7 0h0m23 0h0M86.5 210.34h0m13 0h0m18 0h0m18 0h0m11.5 0h0m20 0h0m11 0h0m7 0h0m34.5 0h0m10.5 0h0m13 0h0m17 0h0m16 0h0m13.5 0h0m5 0h0m5.5 0h0m2.5 0h0m3.5 0h0m3 0h0m1.5 0h0m3 0h0m2.5 0h0m8 0h0m2.5 0h0m1 0h0m1.5 0h0m1.5 0h0m3.5 0h0m2 0h0m2.5 0h0m2.5 0h0m2 0h0m3.5 0h0m5 0h0m2 0h0m4.5 0h0m3.5 0h0m8.5 0h0m9.5 0h0m22 0h0m16.5 0h0m12 0h0m17.5 0h0m30.5 0h0m14.5 0h0m15.5 0h0m10.5 0h0m34.5 0h0m11 0h0M85 208.39h0m38.5 0h0m17.5 0h0m44.5 0h0m26 0h0m4 0h0m6.5 0h0m11 0h0m14.5 0h0m12.5 0h0m13 0h0m13 0h0m5 0h0m12 0h0m3.5 0h0m2.5 0h0m2 0h0m5 0h0m2.5 0h0m2.5 0h0m2.5 0h0m1 0h0m.5 0h0m1.5 0h0m2.5 0h0m3 0h0m4 0h0m4.5 0h0m4 0h0m4.5 0h0m4 0h0m3.5 0h0m7 0h0m13.5 0h0m14.5 0h0m17.5 0h0m37.5 0h0m14.5 0h0m4 0h0m17 0h0m29.5 0h0m16 0h0m17 0h0m10 0h0M85 206.43h0m23.5 0h0m16 0h0m4.5 0h0m18 0h0m14.5 0h0m42.5 0h0m23 0h0m4.5 0h0m6.5 0h0m16.5 0h0m12 0h0m6.5 0h0m10 0h0m5.5 0h0m2 0h0m9 0h0m3.5 0h0m4.5 0h0m4 0h0m3.5 0h0m1 0h0m2 0h0m2 0h0m2.5 0h0m1.5 0h0m4 0h0m5.5 0h0m4 0h0m2.5 0h0m2.5 0h0m1.5 0h0m2 0h0m6 0h0m3.5 0h0m6 0h0m16.5 0h0m4 0h0m7 0h0m18.5 0h0m11 0h0m12 0h0m31.5 0h0m29 0h0m15.5 0h0m17 0h0m18 0h0m21 0h0M81.5 204.47h0m14.5 0h0m27.5 0h0m34.5 0h0m30.5 0h0m23.5 0h0m6.5 0h0m33 0h0m14 0h0m6 0h0m16 0h0m5 0h0m4 0h0m4 0h0m4 0h0m3.5 0h0m1.5 0h0m1.5 0h0m5 0h0m.5 0h0m3.5 0h0m3.5 0h0m3.5 0h0m3.5 0h0m2.5 0h0m3 0h0m1.5 0h0m2.5 0h0m3 0h0m2 0h0m4.5 0h0m2.5 0h0m6 0h0m2.5 0h0m12.5 0h0m13.5 0h0m9.5 0h0m10.5 0h0m27 0h0m30.5 0h0m11 0h0m21.5 0h0m9 0h0m19 0h0m10.5 0h0m36.5 0h0M105.5 202.52h0m33 0h0m31.5 0h0m15 0h0m20.5 0h0m21.5 0h0m2 0h0m24 0h0m8 0h0m7.5 0h0m10 0h0m9.5 0h0m3.5 0h0m3.5 0h0m7 0h0m6.5 0h0m2.5 0h0m5.5 0h0m3.5 0h0m.5 0h0m2 0h0m3.5 0h0m1.5 0h0m1 0h0m2.5 0h0m3 0h0m1 0h0m5 0h0m3.5 0h0m3 0h0m6 0h0m9 0h0m20.5 0h0m17 0h0m16.5 0h0m18 0h0m37 0h0m11 0h0m14.5 0h0m16 0h0m9.5 0h0m22.5 0h0M84 200.56h0m19.5 0h0m15.5 0h0m22 0h0m10.5 0h0m9 0h0m27.5 0h0m25 0h0m14.5 0h0m10.5 0h0m20 0h0m13.5 0h0m9 0h0m9.5 0h0m6 0h0m1 0h0m9.5 0h0m2 0h0m3 0h0m6 0h0m2.5 0h0m2.5 0h0m2 0h0m3 0h0m3 0h0m2 0h0m2 0h0m3 0h0m5 0h0m7 0h0m3 0h0m3.5 0h0m5.5 0h0m11 0h0m14 0h0m16 0h0m25 0h0m15 0h0m27 0h0m20 0h0m13.5 0h0m13.5 0h0m14 0h0m15 0h0m10.5 0h0M87 198.6h0m18.5 0h0m10 0h0m38 0h0m31.5 0h0m39.5 0h0m32 0h0m17.5 0h0m7 0h0m7 0h0m7.5 0h0m6.5 0h0m6.5 0h0m3 0h0m4.5 0h0m3.5 0h0m3.5 0h0m2.5 0h0m1.5 0h0m2 0h0m1 0h0m4 0h0m1.5 0h0m2 0h0m2.5 0h0m5.5 0h0m4.5 0h0m4.5 0h0m5.5 0h0m15.5 0h0m16 0h0m6 0h0m32.5 0h0m34.5 0h0m20.5 0h0m20.5 0h0m19 0h0m46.5 0h0M91.5 196.65h0m8.5 0h0m49.5 0h0m22.5 0h0m25 0h0m11.5 0h0m16.5 0h0m11.5 0h0m20.5 0h0m13 0h0m4.5 0h0m16.5 0h0m5.5 0h0m2 0h0m4.5 0h0m3.5 0h0m3 0h0m2.5 0h0m1.5 0h0m2.5 0h0m3 0h0m4 0h0m1.5 0h0m1.5 0h0m3.5 0h0m2.5 0h0m4.5 0h0m3.5 0h0m4 0h0m4 0h0m7.5 0h0m5.5 0h0m5 0h0m17.5 0h0m11 0h0m27 0h0m32.5 0h0m19 0h0m42 0h0m30.5 0h0m17 0h0M88.5 194.69h0m57 0h0m47 0h0m15.5 0h0m29 0h0m8 0h0m30.5 0h0m8.5 0h0m12.5 0h0m2.5 0h0m5 0h0m4.5 0h0m3 0h0m6 0h0m2.5 0h0m3 0h0m2.5 0h0m7.5 0h0m5.5 0h0m5 0h0m1.5 0h0m4.5 0h0m2.5 0h0m4 0h0m8 0h0m16.5 0h0m14.5 0h0m6.5 0h0m18.5 0h0m47.5 0h0m26.5 0h0m32 0h0m19.5 0h0m15 0h0M85.5 192.74h0m23 0h0m21.5 0h0m28.5 0h0m15 0h0m7.5 0h0m17.5 0h0m13.5 0h0m36 0h0m11 0h0m13 0h0m11.5 0h0m7.5 0h0m4.5 0h0m5 0h0m5 0h0m8.5 0h0m3 0h0m4 0h0m3 0h0m2 0h0m1 0h0m5.5 0h0m4.5 0h0m3 0h0m3.5 0h0m5 0h0m5 0h0m6.5 0h0m11.5 0h0m5 0h0m5 0h0m11 0h0m22.5 0h0m48 0h0m49.5 0h0m46.5 0h0M111 190.78h0m23 0h0m42 0h0m6 0h0m29 0h0m33.5 0h0m22.5 0h0m12 0h0m9 0h0m7 0h0m4.5 0h0m6.5 0h0m5.5 0h0m3.5 0h0m1.5 0h0m3 0h0m3 0h0m3 0h0m1.5 0h0m2 0h0m3.5 0h0m1.5 0h0m5 0h0m2 0h0m1 0h0m6 0h0m4 0h0m3.5 0h0m6.5 0h0m3.5 0h0m25 0h0m16 0h0m8.5 0h0m25 0h0m21 0h0m29.5 0h0m27.5 0h0m12.5 0h0m31 0h0M89.5 188.82h0m22 0h0m29 0h0m36.5 0h0m29.5 0h0m14.5 0h0m12.5 0h0m17 0h0m14 0h0m28 0h0m3 0h0m8 0h0m2 0h0m2.5 0h0m2 0h0m.5 0h0m4 0h0m4 0h0m2.5 0h0m3.5 0h0m2.5 0h0m3 0h0m5 0h0m3 0h0m3.5 0h0m5 0h0m2.5 0h0m5.5 0h0m7.5 0h0m4 0h0m12 0h0m36.5 0h0m29 0h0m18.5 0h0m32.5 0h0m33.5 0h0M92 186.87h0m16 0h0m17 0h0m53.5 0h0m35 0h0m24 0h0m45.5 0h0m6.5 0h0m10 0h0m9 0h0m2.5 0h0m3.5 0h0m2.5 0h0m3.5 0h0m4 0h0m1.5 0h0m2.5 0h0m4 0h0m3.5 0h0m6 0h0m9.5 0h0m8 0h0m23 0h0m20.5 0h0m17.5 0h0m21.5 0h0m34.5 0h0m17 0h0m67 0h0M111.5 184.91h0m27 0h0m21.5 0h0m36.5 0h0m49 0h0m27.5 0h0m10.5 0h0m9.5 0h0m10 0h0m6.5 0h0m9 0h0m7 0h0m2.5 0h0m5.5 0h0m5.5 0h0m1.5 0h0m4.5 0h0m12 0h0m33.5 0h0m21.5 0h0m23.5 0h0m14 0h0m21 0h0m27 0h0m49.5 0h0M85 182.95h0m31 0h0m31.5 0h0m31 0h0m51.5 0h0m37.5 0h0m10.5 0h0m13.5 0h0m6 0h0m6.5 0h0m3.5 0h0m3 0h0m6 0h0m3 0h0m5 0h0m2.5 0h0m6 0h0m4 0h0m3 0h0m2.5 0h0m4.5 0h0m5.5 0h0m5.5 0h0m4.5 0h0m18.5 0h0m33.5 0h0m79 0h0m6.5 0h0m41 0h0m19 0h0M106 181h0m47.5 0h0m56 0h0m22 0h0m36 0h0m11 0h0m13 0h0m4.5 0h0m13 0h0m4.5 0h0m1.5 0h0m3.5 0h0m2 0h0m2 0h0m7 0h0m1.5 0h0m2.5 0h0m2.5 0h0m8 0h0m1.5 0h0m6.5 0h0m4.5 0h0m2 0h0m13 0h0m4.5 0h0m2.5 0h0m19 0h0m19 0h0m58.5 0h0m39 0h0m49.5 0h0M104.5 179.04h0m60 0h0m32.5 0h0m39 0h0m20 0h0m17.5 0h0m16 0h0m6 0h0m5 0h0m6.5 0h0m4 0h0m6 0h0m3.5 0h0m8 0h0m4 0h0m5 0h0m8 0h0m3.5 0h0m7 0h0m11.5 0h0m29 0h0m31.5 0h0m15.5 0h0m30.5 0h0m44 0h0M109 177.09h0m52 0h0m44.5 0h0m18 0h0m38.5 0h0m15 0h0m16 0h0m6.5 0h0m7.5 0h0m3.5 0h0m8 0h0m9 0h0m5 0h0m2 0h0m8 0h0m11 0h0m3 0h0m16.5 0h0m22 0h0m40.5 0h0m52.5 0h0m49.5 0h0m20.5 0h0M95 175.13h0m68.5 0h0m62.5 0h0m39 0h0m15 0h0m20.5 0h0m8 0h0m6.5 0h0m1.5 0h0m5 0h0m2.5 0h0m3 0h0m3 0h0m8 0h0m4.5 0h0m5.5 0h0m4.5 0h0m12.5 0h0m7.5 0h0m31 0h0m67 0h0m51 0h0m16.5 0h0m29.5 0h0M117 173.17h0m31 0h0m47.5 0h0m58 0h0m15.5 0h0m16.5 0h0m15 0h0m6.5 0h0m5.5 0h0m3.5 0h0m3 0h0m4 0h0m2.5 0h0m4 0h0m10.5 0h0m17 0h0m9.5 0h0m31.5 0h0m22 0h0m9.5 0h0m60.5 0h0m26 0h0M107.5 171.22h0m139.5 0h0m36.5 0h0m11.5 0h0m9.5 0h0m5.5 0h0m6 0h0m4 0h0m5.5 0h0m3.5 0h0m8.5 0h0m5.5 0h0m7 0h0m7 0h0m22 0h0m20.5 0h0m37.5 0h0m75 0h0M95 169.26h0m16.5 0h0m39 0h0m55 0h0m17.5 0h0m64 0h0m12 0h0m8 0h0m7.5 0h0m4.5 0h0m6 0h0m7 0h0m2 0h0m3.5 0h0m5.5 0h0m11 0h0m10.5 0h0m29.5 0h0m65 0h0m53 0h0m46 0h0M110 167.3h0m114 0h0m14.5 0h0m35.5 0h0m13.5 0h0m1.5 0h0m5.5 0h0m13 0h0m11 0h0m7.5 0h0m4.5 0h0m11 0h0m7 0h0m6.5 0h0m10.5 0h0m14.5 0h0m81.5 0h0m43.5 0h0m53 0h0M133 165.35h0m71.5 0h0m77.5 0h0m6.5 0h0m9 0h0m9 0h0m7.5 0h0m5 0h0m4 0h0m1.5 0h0m8.5 0h0m4 0h0m7 0h0m2.5 0h0m4 0h0m12 0h0m6 0h0m21 0h0m6.5 0h0m29 0h0M80 163.39h0m89.5 0h0m21.5 0h0m22.5 0h0m42 0h0m27 0h0m16 0h0m13 0h0m5.5 0h0m5 0h0m5 0h0m3 0h0m3 0h0m5 0h0m2 0h0m12.5 0h0m35.5 0h0m101 0h0m42.5 0h0M155 161.44h0m49 0h0m59.5 0h0m21 0h0m19.5 0h0m7 0h0m8.5 0h0m4.5 0h0m5.5 0h0m7 0h0m10.5 0h0m6.5 0h0m13 0h0m41 0h0m74.5 0h0m67 0h0M99.5 159.48h0m121 0h0m16.5 0h0m30 0h0m27 0h0m3.5 0h0m5.5 0h0m4.5 0h0m3 0h0m8.5 0h0m5 0h0m2.5 0h0m8.5 0h0m5 0h0m7.5 0h0m6.5 0h0m11.5 0h0m50.5 0h0m68 0h0m83.5 0h0M182 157.52h0m90.5 0h0m5 0h0m13.5 0h0m14.5 0h0m7.5 0h0m5.5 0h0m4 0h0m9 0h0m6.5 0h0m6.5 0h0m14.5 0h0m34.5 0h0m40.5 0h0m77 0h0m37 0h0M120.5 155.57h0m90.5 0h0m72.5 0h0m19.5 0h0m7 0h0m5.5 0h0m3.5 0h0m4 0h0m7.5 0h0m5 0h0m4.5 0h0m8.5 0h0m18 0h0m82.5 0h0M84.5 153.61h0m37 0h0m102 0h0m70 0h0m8 0h0m5 0h0m10.5 0h0m9 0h0m4.5 0h0m7.5 0h0m8.5 0h0m25.5 0h0m84.5 0h0M147.5 151.65h0m122.5 0h0m19.5 0h0m13.5 0h0m11 0h0m4 0h0m4.5 0h0m7 0h0m4 0h0m4.5 0h0m4.5 0h0m10.5 0h0m17 0h0m87 0h0m49 0h0M142.5 149.7h0m143.5 0h0m20 0h0m12.5 0h0m6 0h0m10.5 0h0m26 0h0m21 0h0m137 0h0M144.5 147.74h0m130 0h0m26 0h0m5 0h0m8.5 0h0m4 0h0m21 0h0m7 0h0m11 0h0m30 0h0m155 0h0M175 145.78h0m52.5 0h0m55 0h0m25 0h0m8 0h0m5 0h0m13 0h0m5.5 0h0m15.5 0h0m26.5 0h0m18 0h0m62 0h0M88.5 143.83h0m175 0h0m31 0h0m10.5 0h0m8 0h0m8.5 0h0m12.5 0h0m37.5 0h0m73.5 0h0M137.5 141.87h0m87 0h0m53.5 0h0m16 0h0m25 0h0m18 0h0m3.5 0h0m9 0h0m22.5 0h0M158.5 139.92h0m78.5 0h0m59 0h0m17 0h0m9.5 0h0m5.5 0h0m7 0h0m5 0h0m12.5 0h0M165 137.96h0m78 0h0m63 0h0m8.5 0h0m4.5 0h0m23 0h0m11 0h0m23 0h0M126 136h0m169.5 0h0m21 0h0m11 0h0m14 0h0m16 0h0m213.5 0h0M241.5 134.05h0m61 0h0m22.5 0h0m20 0h0m8.5 0h0m27 0h0m91.5 0h0M266.5 132.09h0m33 0h0m16 0h0m7 0h0m25 0h0m132 0h0M261.5 130.13h0m49 0h0m20.5 0h0m17.5 0h0m99.5 0h0M267.5 128.18h0m36 0h0m13 0h0m35 0h0m128 0h0M258.5 126.22h0m38 0h0m22.5 0h0m17 0h0m29.5 0h0m109.5 0h0M289 124.27h0m29 0h0m14.5 0h0m53 0h0M201 122.31h0m123 0h0m25.5 0h0M283.5 120.35h0m42 0h0m8.5 0h0m10 0h0m216 0h0M297.5 118.4h0m64.5 0h0M271 116.44h0m44 0h0m241 0h0M297.5 114.48h0m33.5 0h0m76.5 0h0M451.5 112.53h0M213 110.57h0m119.5 0h0m14.5 0h0M283 108.62h0m37 0h0m11 0h0M219.5 106.66h0m134 0h0M287.5 104.7h0m50.5 0h0M252.5 102.75h0m57.5 0h0m24 0h0M347.5 100.79h0M303 98.83h0m29 0h0M314 96.88h0M112.5 94.92h0M98 92.96h0m254.5 0h0M559 91.01h0M407 89.05h0M330.5 87.1h0M326 85.14h0M329 83.18h0m122.5 0h0M315.5 79.27h0M334.5 75.36h0M315.5 69.49h0"/><path d="M262 499.88h0M284 480.31h0M556 460.75h0M550.5 454.88h0M190 450.97h0M211 447.06h0M298.5 443.14h0M511 441.19h0M187.5 437.27h0m338.5 0h0M183 433.36h0m258.5 0h0M369 431.4h0M200.5 429.45h0m287 0h0M358.5 427.49h0M419.5 425.54h0m144.5 0h0M220.5 423.58h0m205.5 0h0M148.5 421.62h0M327 419.67h0M96 417.71h0m144.5 0h0m94 0h0m178 0h0M253 415.75h0m86.5 0h0m82 0h0M185.5 413.8h0m244.5 0h0M103.5 411.84h0m23 0h0m100 0h0m197 0h0m115 0h0M149 409.89h0m150.5 0h0m262 0h0M221.5 407.93h0m134.5 0h0m92.5 0h0M93.5 405.97h0m96 0h0m99.5 0h0m137 0h0m86.5 0h0M168 404.02h0m45.5 0h0m121.5 0h0m172 0h0m54 0h0M95.5 402.06h0m105 0h0m33 0h0m28.5 0h0m95 0h0m77.5 0h0m58.5 0h0m54.5 0h0M144.5 400.1h0m41.5 0h0m41 0h0m71.5 0h0m71.5 0h0m43.5 0h0m119 0h0M129 398.15h0m44 0h0m116 0h0m107 0h0m38 0h0m30 0h0m76 0h0M135 396.19h0m53 0h0m68 0h0m25.5 0h0m80 0h0m51 0h0m46 0h0M86.5 394.23h0m75.5 0h0m24 0h0m33 0h0m106.5 0h0m64 0h0m82.5 0h0m83 0h0M141.5 392.28h0m108.5 0h0m79 0h0m82 0h0m50.5 0h0m95.5 0h0M167 390.32h0m40 0h0m57 0h0m114.5 0h0m70.5 0h0m47.5 0h0m53.5 0h0M92.5 388.37h0m105.5 0h0m36 0h0m132.5 0h0m103.5 0h0m32.5 0h0m37.5 0h0M84.5 386.41h0m58 0h0m29 0h0m29.5 0h0m123 0h0m21 0h0m57 0h0m67.5 0h0m50.5 0h0M109 384.45h0m109.5 0h0m47.5 0h0m48 0h0m74.5 0h0m65.5 0h0M81.5 382.5h0m29 0h0m59 0h0m24.5 0h0m113 0h0m38 0h0m25 0h0m8.5 0h0m29.5 0h0m35.5 0h0m34 0h0m34.5 0h0M82.5 380.54h0m39 0h0m40.5 0h0m56.5 0h0m34 0h0m32.5 0h0m30 0h0m49 0h0m57 0h0m46.5 0h0m56 0h0M107 378.58h0m54 0h0m65 0h0m15.5 0h0m28.5 0h0m13.5 0h0m27 0h0m29 0h0m70.5 0h0m26.5 0h0m78.5 0h0m52.5 0h0M112.5 376.63h0m64 0h0m60.5 0h0m23.5 0h0m37 0h0m12.5 0h0m54 0h0m36 0h0m15.5 0h0m32.5 0h0m32.5 0h0m38 0h0m22 0h0M82 374.67h0m50.5 0h0m40.5 0h0m24.5 0h0m66.5 0h0m56 0h0m84.5 0h0m88.5 0h0m35.5 0h0M120.5 372.72h0m34 0h0m82.5 0h0m43 0h0m32.5 0h0m32.5 0h0m45 0h0m52 0h0m39 0h0m29.5 0h0m14 0h0m9.5 0h0m28 0h0M128 370.76h0m10.5 0h0m65.5 0h0m50.5 0h0m17 0h0m12 0h0m15 0h0m16.5 0h0m38 0h0m32.5 0h0m66.5 0h0m39.5 0h0m24.5 0h0m30.5 0h0M107.5 368.8h0m18.5 0h0m71.5 0h0m37.5 0h0m29.5 0h0m17.5 0h0m17 0h0m20 0h0m11 0h0m8 0h0m44 0h0m18.5 0h0m31.5 0h0m19.5 0h0m44 0h0m18.5 0h0m44.5 0h0M86.5 366.85h0m54.5 0h0m38.5 0h0m67.5 0h0m18.5 0h0m42 0h0m62 0h0m69 0h0m43 0h0m29.5 0h0m53 0h0M118.5 364.89h0m26.5 0h0m28.5 0h0m22.5 0h0m53 0h0m20 0h0m28.5 0h0m48 0h0m64 0h0m40.5 0h0m15.5 0h0m44.5 0h0m22.5 0h0m33.5 0h0M114 362.93h0m12 0h0m73.5 0h0m36 0h0m22.5 0h0m46.5 0h0m42 0h0m19.5 0h0m6.5 0h0m37 0h0m17.5 0h0m79 0h0m4.5 0h0m9.5 0h0m12.5 0h0m36 0h0m3 0h0M96 360.98h0m35.5 0h0m79 0h0m12.5 0h0m28 0h0m19 0h0m26 0h0m43 0h0m49.5 0h0m33 0h0m20 0h0m33.5 0h0m48 0h0m17.5 0h0m12 0h0M110.5 359.02h0m32.5 0h0m10.5 0h0m37 0h0m24.5 0h0m10 0h0m23 0h0m64.5 0h0m21 0h0m34 0h0m47.5 0h0m49 0h0m22.5 0h0m18 0h0m32 0h0M86 357.07h0m15.5 0h0m20.5 0h0m17.5 0h0m17 0h0m38 0h0m22.5 0h0m16 0h0m9.5 0h0m21.5 0h0m22 0h0m36.5 0h0m10 0h0m19 0h0m19.5 0h0m39.5 0h0m23 0h0m33.5 0h0m44.5 0h0m26.5 0h0m7 0h0M103.5 355.11h0m32 0h0m35 0h0m12 0h0m28 0h0m15 0h0m12.5 0h0m6.5 0h0m13 0h0m37.5 0h0m10 0h0m28 0h0m29.5 0h0m38.5 0h0m19 0h0m31.5 0h0m36.5 0h0m36.5 0h0m10 0h0m33 0h0M89 353.15h0m24 0h0m26 0h0m21 0h0m19.5 0h0m16.5 0h0m26 0h0m6 0h0m28.5 0h0m31.5 0h0m30.5 0h0m7 0h0m17 0h0m12.5 0h0m11.5 0h0m49 0h0m20 0h0m34 0h0m27.5 0h0m21 0h0m12.5 0h0m26 0h0M101 351.2h0m4 0h0m19.5 0h0m19.5 0h0m49 0h0m17 0h0m25 0h0m31 0h0m31.5 0h0m15.5 0h0m13 0h0m22.5 0h0m30.5 0h0m16 0h0m20.5 0h0m37 0h0m34.5 0h0m16 0h0m8.5 0h0m22 0h0m33 0h0M118 349.24h0m12 0h0m19 0h0m16.5 0h0m38.5 0h0m13.5 0h0m22 0h0m12 0h0m28.5 0h0m21.5 0h0m7.5 0h0m18.5 0h0m6.5 0h0m5 0h0m10 0h0m18 0h0m14 0h0m15 0h0m16 0h0m19 0h0m16.5 0h0m13 0h0m19.5 0h0m25 0h0m14 0h0m24.5 0h0M81.5 347.28h0m40.5 0h0m18.5 0h0m36 0h0m25 0h0m14 0h0m15 0h0m34 0h0m22.5 0h0m17 0h0m9 0h0m13 0h0m16 0h0m7.5 0h0m27.5 0h0m15.5 0h0m15 0h0m20.5 0h0m18.5 0h0m12.5 0h0m43 0h0m16.5 0h0m25 0h0m20.5 0h0M95 345.33h0m24 0h0m19 0h0m17.5 0h0m24 0h0m17.5 0h0m9 0h0m10.5 0h0m16 0h0m29.5 0h0m27.5 0h0m12 0h0m20.5 0h0m17 0h0m20.5 0h0m29.5 0h0m24 0h0m10.5 0h0m15 0h0m47 0h0m18.5 0h0m49.5 0h0M79.5 343.37h0m23 0h0m18.5 0h0m40 0h0m18.5 0h0m17.5 0h0m19.5 0h0m38 0h0m10.5 0h0m21 0h0m12.5 0h0m22 0h0m13.5 0h0m11.5 0h0m28.5 0h0m15 0h0m8 0h0m31 0h0m14.5 0h0m15.5 0h0m27.5 0h0m18 0h0m20 0h0m15.5 0h0m25 0h0M97 341.41h0m20.5 0h0m18.5 0h0m5 0h0m8 0h0m26 0h0m30.5 0h0m32 0h0m15 0h0m28 0h0m22 0h0m15 0h0m13 0h0m8.5 0h0m17.5 0h0m15.5 0h0m23 0h0m25 0h0m24.5 0h0m15 0h0m40.5 0h0m33.5 0h0m7 0h0m24 0h0M99 339.46h0m18 0h0m36 0h0m20 0h0m9.5 0h0m29 0h0m16 0h0m9 0h0m32 0h0m14.5 0h0m16 0h0m5 0h0m7 0h0m6.5 0h0m11.5 0h0m19.5 0h0m9.5 0h0m44 0h0m20 0h0m17 0h0m23 0h0m12.5 0h0m22 0h0m18.5 0h0m34.5 0h0M86.5 337.5h0m17 0h0m20 0h0m23.5 0h0m22 0h0m30 0h0m9 0h0m24.5 0h0m28.5 0h0m17 0h0m17 0h0m3 0h0m10 0h0m11 0h0m9 0h0m7 0h0m7.5 0h0m19 0h0m28.5 0h0m17 0h0m15.5 0h0m18.5 0h0m42 0h0m9.5 0h0m36.5 0h0m7.5 0h0m17.5 0h0M96.5 335.55h0m9.5 0h0m16 0h0m15 0h0m19.5 0h0m30.5 0h0m33.5 0h0m24 0h0m14 0h0m5.5 0h0m30 0h0m13.5 0h0m7.5 0h0m17.5 0h0m20.5 0h0m21 0h0m20.5 0h0m13 0h0m44 0h0m14 0h0m46 0h0m9 0h0m12.5 0h0m20.5 0h0M88.5 333.59h0m30.5 0h0m3.5 0h0m33.5 0h0m16 0h0m13.5 0h0m12.5 0h0m15.5 0h0m33.5 0h0m24.5 0h0m19.5 0h0m8 0h0m12 0h0m9.5 0h0m6 0h0m6.5 0h0m5.5 0h0m6 0h0m16.5 0h0m12 0h0m13 0h0m18 0h0m8 0h0m11.5 0h0m17 0h0m10 0h0m24.5 0h0m13.5 0h0m31 0h0m23 0h0M91.5 331.63h0m28 0h0m13.5 0h0m15.5 0h0m16.5 0h0m10 0h0m15 0h0m6 0h0m15.5 0h0m12 0h0m13 0h0m8.5 0h0m16 0h0m13 0h0m15 0h0m25.5 0h0m7.5 0h0m19.5 0h0m9.5 0h0m20.5 0h0m28 0h0m9.5 0h0m13.5 0h0m31.5 0h0m16 0h0m14 0h0m19.5 0h0m18 0h0m38.5 0h0M82 329.68h0m5.5 0h0m45.5 0h0m14.5 0h0m67 0h0m23 0h0m36 0h0m19.5 0h0m10 0h0m9 0h0m4 0h0m16.5 0h0m5.5 0h0m23 0h0m18.5 0h0m12 0h0m16.5 0h0m7.5 0h0m16 0h0m35 0h0m18.5 0h0m9.5 0h0m33 0h0m8 0h0m26.5 0h0m6 0h0M95 327.72h0m26 0h0m27 0h0m27 0h0m21 0h0m15.5 0h0m20 0h0m21 0h0m29 0h0m13.5 0h0m5 0h0m8 0h0m10.5 0h0m8.5 0h0m7.5 0h0m43 0h0m16.5 0h0m14.5 0h0m14 0h0m8 0h0m25.5 0h0m10 0h0m11 0h0m29 0h0m25 0h0m26 0h0M96.5 325.76h0m21 0h0m32.5 0h0m16.5 0h0m10.5 0h0m44.5 0h0m8.5 0h0m21.5 0h0m24.5 0h0m15 0h0m6 0h0m7 0h0m5 0h0m11 0h0m6.5 0h0m9.5 0h0m6.5 0h0m9.5 0h0m9 0h0m13 0h0m16.5 0h0m8.5 0h0m12 0h0m18 0h0m28 0h0m27.5 0h0m16 0h0m14.5 0h0m7 0h0m18.5 0h0m16.5 0h0M91.5 323.81h0m23 0h0m7.5 0h0m12.5 0h0m24 0h0m18 0h0m18.5 0h0m16.5 0h0m6.5 0h0m6 0h0m7 0h0m10.5 0h0m20 0h0m25.5 0h0m15 0h0m11.5 0h0m11 0h0m11.5 0h0m7.5 0h0m13 0h0m9.5 0h0m28.5 0h0m1.5 0h0m18.5 0h0m10 0h0m35 0h0m9 0h0m27 0h0m16 0h0m13 0h0m15 0h0m13 0h0m14.5 0h0M88.5 321.85h0m22.5 0h0m33 0h0m43 0h0m27 0h0m13 0h0m6.5 0h0m16.5 0h0m10 0h0m16.5 0h0m6.5 0h0m15 0h0m7.5 0h0m7 0h0m6 0h0m2.5 0h0m5.5 0h0m3.5 0h0m4 0h0m3 0h0m8.5 0h0m6.5 0h0m22.5 0h0m20 0h0m8.5 0h0m20 0h0m18.5 0h0m13 0h0m22 0h0m13.5 0h0m41 0h0m11.5 0h0m13.5 0h0m14 0h0M92 319.9h0m20.5 0h0m11.5 0h0m17 0h0m12.5 0h0m20 0h0m31.5 0h0m12.5 0h0m23.5 0h0m11.5 0h0m14 0h0m20 0h0m25.5 0h0m6.5 0h0m5 0h0m10.5 0h0m8.5 0h0m9.5 0h0m11.5 0h0m8.5 0h0m5.5 0h0m11.5 0h0m44.5 0h0m13 0h0m8.5 0h0m9 0h0m19 0h0m9 0h0m35.5 0h0m7.5 0h0m18.5 0h0M89 317.94h0m24.5 0h0m16 0h0m40.5 0h0m24 0h0m18.5 0h0m14 0h0m20.5 0h0m10 0h0m23 0h0m11.5 0h0m10 0h0m9 0h0m4 0h0m3.5 0h0m1.5 0h0m5.5 0h0m3 0h0m8.5 0h0m6 0h0m4.5 0h0m12 0h0m15.5 0h0m12 0h0m32 0h0m13 0h0m11 0h0m25.5 0h0m10.5 0h0m10 0h0m17 0h0m17.5 0h0m8 0h0m8 0h0m11.5 0h0M86 315.98h0m13 0h0m14 0h0m22 0h0m26 0h0m12 0h0m23 0h0m8.5 0h0m4.5 0h0m6.5 0h0m27 0h0m10.5 0h0m26 0h0m8 0h0m11.5 0h0m6 0h0m3 0h0m2.5 0h0m6 0h0m3 0h0m5 0h0m4 0h0m5.5 0h0m6 0h0m4 0h0m3.5 0h0m8.5 0h0m6.5 0h0m13 0h0m12.5 0h0m17.5 0h0m11.5 0h0m8 0h0m24.5 0h0m26.5 0h0m5 0h0m11 0h0m5 0h0m11.5 0h0m18 0h0m12 0h0m18 0h0m12.5 0h0M110 314.03h0m18 0h0m39 0h0m8.5 0h0m7 0h0m15.5 0h0m25.5 0h0m37 0h0m9.5 0h0m22.5 0h0m11.5 0h0m4.5 0h0m9 0h0m7.5 0h0m12 0h0m4.5 0h0m1.5 0h0m3 0h0m10.5 0h0m11 0h0m26.5 0h0m17.5 0h0m14.5 0h0m22 0h0m20 0h0m23.5 0h0m13 0h0m8 0h0m8 0h0m12 0h0m10 0h0m11.5 0h0M83.5 312.07h0m26.5 0h0m11 0h0m11.5 0h0m17.5 0h0m24.5 0h0m15 0h0m12 0h0m16.5 0h0m16.5 0h0m11 0h0m21 0h0m3.5 0h0m8 0h0m17 0h0m8 0h0m7.5 0h0m4.5 0h0m8 0h0m4 0h0m2.5 0h0m4.5 0h0m3.5 0h0m2 0h0m9.5 0h0m32 0h0m14.5 0h0m5.5 0h0m9.5 0h0m34 0h0m43.5 0h0m22 0h0m14 0h0m5 0h0m12 0h0m12 0h0M86 310.11h0m19.5 0h0m13 0h0m4 0h0m25 0h0m38.5 0h0m27 0h0m25 0h0m16.5 0h0m13.5 0h0m10 0h0m7 0h0m5 0h0m5 0h0m7 0h0m9.5 0h0m5 0h0m10 0h0m4.5 0h0m17.5 0h0m9.5 0h0m17.5 0h0m16.5 0h0m17 0h0m17 0h0m20.5 0h0m10.5 0h0m25.5 0h0m12.5 0h0m35.5 0h0m5.5 0h0m23.5 0h0M81 308.16h0m13.5 0h0m25 0h0m13.5 0h0m32 0h0m21 0h0m20.5 0h0m10.5 0h0m17 0h0m22 0h0m16.5 0h0m18.5 0h0m8 0h0m12 0h0m4 0h0m4 0h0m6.5 0h0m4.5 0h0m5.5 0h0m2 0h0m10 0h0m2 0h0m8.5 0h0m4.5 0h0m24.5 0h0m16 0h0m17.5 0h0m28 0h0m40 0h0m2 0h0m10.5 0h0m28.5 0h0m5.5 0h0m10 0h0m8.5 0h0m14.5 0h0M104 306.2h0m21 0h0m9 0h0m20 0h0m6.5 0h0m4 0h0m8.5 0h0m15 0h0m15.5 0h0m18 0h0m15.5 0h0m21 0h0m16 0h0m20.5 0h0m5.5 0h0m8.5 0h0m2.5 0h0m9.5 0h0m5 0h0m3 0h0m7 0h0m8.5 0h0m3 0h0m10 0h0m7 0h0m14 0h0m39 0h0m13.5 0h0m21.5 0h0m8 0h0m14 0h0m7.5 0h0m13 0h0m15 0h0m11 0h0m13 0h0m5.5 0h0m17.5 0h0m15 0h0M86 304.25h0m9.5 0h0m8.5 0h0m10.5 0h0m14 0h0m19.5 0h0m22.5 0h0m19.5 0h0m15.5 0h0m17 0h0m4 0h0m10.5 0h0m10.5 0h0m18 0h0m12.5 0h0m14.5 0h0m12 0h0m5 0h0m3 0h0m10.5 0h0m5 0h0m2 0h0m4.5 0h0m5 0h0m3.5 0h0m10 0h0m10 0h0m10 0h0m20.5 0h0m6 0h0m12.5 0h0m17.5 0h0m30 0h0m17.5 0h0m27 0h0m15 0h0m8.5 0h0m21 0h0m14 0h0M92 302.29h0m12 0h0m30.5 0h0m14 0h0m20.5 0h0m15.5 0h0m25 0h0m25.5 0h0m17 0h0m12 0h0m6.5 0h0m14.5 0h0m13 0h0m5.5 0h0m3.5 0h0m3.5 0h0m6 0h0m5.5 0h0m3 0h0m4 0h0m8.5 0h0m4.5 0h0m3.5 0h0m3 0h0m4.5 0h0m8 0h0m7 0h0m10.5 0h0m11.5 0h0m31 0h0m26.5 0h0m44.5 0h0m30.5 0h0m8 0h0m29 0h0M97 300.33h0m15 0h0m19.5 0h0m12.5 0h0m24.5 0h0m18.5 0h0m13 0h0m9.5 0h0m3.5 0h0m16 0h0m13.5 0h0m2 0h0m12.5 0h0m13 0h0m6.5 0h0m10 0h0m9 0h0m3.5 0h0m3.5 0h0m6 0h0m4 0h0m1 0h0m3.5 0h0m5 0h0m2 0h0m4.5 0h0m2.5 0h0m4 0h0m5.5 0h0m3 0h0m2 0h0m17.5 0h0m12.5 0h0m29 0h0m25.5 0h0m5.5 0h0m13 0h0m16 0h0m12 0h0m15 0h0m38.5 0h0m16.5 0h0m13.5 0h0M83.5 298.38h0m19.5 0h0m10.5 0h0m16 0h0m16 0h0m17 0h0m35 0h0m11 0h0m15.5 0h0m21 0h0m18 0h0m16.5 0h0m2.5 0h0m7.5 0h0m11 0h0m5.5 0h0m7 0h0m2.5 0h0m9 0h0m2 0h0m10 0h0m4 0h0m5.5 0h0m7.5 0h0m4 0h0m10 0h0m9.5 0h0m6 0h0m8 0h0m11.5 0h0m6.5 0h0m8.5 0h0m8 0h0m24 0h0m10.5 0h0m9 0h0m38 0h0m12 0h0m13 0h0m28.5 0h0m4.5 0h0M85.5 296.42h0m21.5 0h0m21.5 0h0m6.5 0h0m17 0h0m9 0h0m24 0h0m26 0h0m25 0h0m10.5 0h0m14 0h0m9 0h0m23 0h0m5 0h0m5 0h0m3 0h0m5 0h0m3.5 0h0m6 0h0m.5 0h0m2.5 0h0m3 0h0m9 0h0m4 0h0m2 0h0m6.5 0h0m9.5 0h0m11 0h0m4 0h0m10 0h0m20 0h0m12 0h0m19 0h0m25 0h0m16.5 0h0m20.5 0h0m16 0h0m11.5 0h0m4.5 0h0m21.5 0h0m7.5 0h0m8.5 0h0M89.5 294.46h0m28.5 0h0m14 0h0m10 0h0m16 0h0m18 0h0m10 0h0m14.5 0h0m7.5 0h0m10 0h0m10.5 0h0m17 0h0m11 0h0m2.5 0h0m2.5 0h0m7 0h0m7.5 0h0m9.5 0h0m6 0h0m6.5 0h0m6 0h0m5.5 0h0m2 0h0m2.5 0h0m6.5 0h0m3 0h0m2 0h0m4 0h0m1.5 0h0m2 0h0m2.5 0h0m8 0h0m5.5 0h0m7 0h0m4 0h0m4.5 0h0m6 0h0m19.5 0h0m11 0h0m11.5 0h0m17.5 0h0m18 0h0m28.5 0h0m17 0h0m32.5 0h0m7.5 0h0m10.5 0h0m4 0h0m16 0h0M123.5 292.51h0m19 0h0m11.5 0h0m6 0h0m16 0h0m5.5 0h0m22 0h0m15.5 0h0m13 0h0m23 0h0m11.5 0h0m5.5 0h0m9 0h0m3.5 0h0m4.5 0h0m5.5 0h0m5 0h0m6 0h0m5.5 0h0m2 0h0m1.5 0h0m4.5 0h0m1 0h0m4 0h0m2.5 0h0m2 0h0m2 0h0m3 0h0m6 0h0m2.5 0h0m6 0h0m11 0h0m9.5 0h0m10.5 0h0m6.5 0h0m14.5 0h0m24.5 0h0m12.5 0h0m20 0h0m6.5 0h0m10 0h0m32 0h0m14 0h0m13.5 0h0m27.5 0h0M81.5 290.55h0m10 0h0m22 0h0m11.5 0h0m21 0h0m14 0h0m12 0h0m32.5 0h0m27.5 0h0m11 0h0m16 0h0m18.5 0h0m15 0h0m7.5 0h0m5.5 0h0m3 0h0m1.5 0h0m3.5 0h0m6.5 0h0m5.5 0h0m2 0h0m4 0h0m5 0h0m3.5 0h0m7 0h0m5 0h0m16.5 0h0m13 0h0m12.5 0h0m27 0h0m16 0h0m7.5 0h0m22 0h0m19 0h0m23 0h0m19 0h0m20.5 0h0m11.5 0h0M80.5 288.59h0m14 0h0m9.5 0h0m9.5 0h0m11.5 0h0m14 0h0m20.5 0h0m19.5 0h0m36 0h0m22.5 0h0m28.5 0h0m13 0h0m9.5 0h0m5.5 0h0m4.5 0h0m2.5 0h0m6 0h0m1.5 0h0m2.5 0h0m6 0h0m5 0h0m4 0h0m4 0h0m4.5 0h0m5 0h0m4 0h0m1 0h0m6 0h0m4.5 0h0m6.5 0h0m4.5 0h0m12 0h0m10.5 0h0m6 0h0m9 0h0m2.5 0h0m40.5 0h0m8.5 0h0m7.5 0h0m12 0h0m18 0h0m15 0h0m4 0h0m18.5 0h0m16.5 0h0m13.5 0h0M86 286.64h0m16.5 0h0m14 0h0m5 0h0m18 0h0m4.5 0h0m3 0h0m22.5 0h0m11 0h0m16 0h0m16 0h0m11 0h0m29.5 0h0m12.5 0h0m20 0h0m12.5 0h0m3 0h0m7 0h0m1.5 0h0m3 0h0m2.5 0h0m8.5 0h0m6 0h0m3.5 0h0m3 0h0m3.5 0h0m5 0h0m2 0h0m7.5 0h0m7.5 0h0m3.5 0h0m7 0h0m11.5 0h0m15 0h0m5.5 0h0m31 0h0m17 0h0m12.5 0h0m14 0h0m8.5 0h0m16 0h0m9 0h0m30 0h0m13 0h0m9.5 0h0M108.5 284.68h0m16.5 0h0m15 0h0m14.5 0h0m10 0h0m25 0h0m15 0h0m6 0h0m9.5 0h0m18.5 0h0m18.5 0h0m8.5 0h0m6 0h0m17 0h0m4 0h0m7.5 0h0m3.5 0h0m4 0h0m2 0h0m2.5 0h0m3 0h0m5.5 0h0m2 0h0m2 0h0m3.5 0h0m3 0h0m2 0h0m0 0h0m3.5 0h0m6 0h0m2.5 0h0m4 0h0m8.5 0h0m13.5 0h0m14.5 0h0m16.5 0h0m12.5 0h0m6 0h0m27.5 0h0m17.5 0h0m18 0h0m24 0h0m15 0h0m13 0h0m25 0h0M92 282.73h0m20 0h0m21.5 0h0m8 0h0m28 0h0m30.5 0h0m10 0h0m19 0h0m43.5 0h0m8.5 0h0m10.5 0h0m7 0h0m8 0h0m2.5 0h0m4 0h0m2 0h0m1.5 0h0m4 0h0m4 0h0m2.5 0h0m4.5 0h0m4 0h0m3 0h0m4.5 0h0m5 0h0m5 0h0m2.5 0h0m3.5 0h0m3 0h0m5.5 0h0m10.5 0h0m15.5 0h0m28.5 0h0m19 0h0m19 0h0m24.5 0h0m19.5 0h0m29.5 0h0m9 0h0m28.5 0h0M88 280.77h0m17 0h0m13.5 0h0m10.5 0h0m33.5 0h0m21 0h0m7.5 0h0m13 0h0m21 0h0m26 0h0m23.5 0h0m11 0h0m5.5 0h0m5.5 0h0m3 0h0m2.5 0h0m9 0h0m4 0h0m1.5 0h0m5 0h0m3.5 0h0m3 0h0m6 0h0m1.5 0h0m2.5 0h0m1.5 0h0m4 0h0m4.5 0h0m2.5 0h0m2 0h0m8 0h0m6.5 0h0m3.5 0h0m25.5 0h0m20 0h0m31.5 0h0m12.5 0h0m6.5 0h0m16 0h0m8 0h0m28.5 0h0m37.5 0h0M100 278.81h0m14 0h0m14 0h0m21 0h0m13.5 0h0m18 0h0m20.5 0h0m14.5 0h0m17.5 0h0m17 0h0m9.5 0h0m5.5 0h0m22.5 0h0m8 0h0m6 0h0m10 0h0m6.5 0h0m3.5 0h0m3.5 0h0m3.5 0h0m4.5 0h0m1.5 0h0m1.5 0h0m2.5 0h0m4.5 0h0m5.5 0h0m5.5 0h0m13 0h0m3 0h0m19.5 0h0m7.5 0h0m19 0h0m11.5 0h0m7 0h0m7 0h0m27 0h0m15.5 0h0m6.5 0h0m15.5 0h0m8 0h0m15 0h0m16 0h0m3.5 0h0m10 0h0M84 276.86h0m22.5 0h0m22.5 0h0m12 0h0m3 0h0m20 0h0m12 0h0m21 0h0m28 0h0m9.5 0h0m10 0h0m11.5 0h0m22.5 0h0m12.5 0h0m7 0h0m3 0h0m4 0h0m4 0h0m6.5 0h0m5 0h0m3 0h0m2 0h0m2 0h0m1.5 0h0m3 0h0m2 0h0m2.5 0h0m3.5 0h0m3 0h0m4.5 0h0m10.5 0h0m17 0h0m15 0h0m14.5 0h0m2 0h0m5 0h0m14.5 0h0m21.5 0h0m20 0h0m35.5 0h0m24.5 0h0m17 0h0M81.5 274.9h0m23 0h0m12 0h0m27 0h0m8 0h0m17 0h0m6 0h0m14 0h0m22.5 0h0m24 0h0m15.5 0h0m10.5 0h0m11.5 0h0m6 0h0m8.5 0h0m7 0h0m4 0h0m2.5 0h0m6 0h0m2.5 0h0m3 0h0m2 0h0m4 0h0m2 0h0m3.5 0h0m2 0h0m4 0h0m4.5 0h0m2.5 0h0m2.5 0h0m7.5 0h0m4 0h0m4.5 0h0m4 0h0m3 0h0m2 0h0m12 0h0m16.5 0h0m6 0h0m6 0h0m5 0h0m9.5 0h0m20.5 0h0m26.5 0h0m12.5 0h0m26.5 0h0m27.5 0h0m11 0h0m12.5 0h0m12.5 0h0M85 272.94h0m11.5 0h0m5 0h0m20.5 0h0m16 0h0m32 0h0m22.5 0h0m18 0h0m6 0h0m6.5 0h0m23 0h0m24.5 0h0m12.5 0h0m9.5 0h0m8 0h0m5 0h0m4 0h0m4.5 0h0m3.5 0h0m3 0h0m4 0h0m6 0h0m1 0h0m5 0h0m3.5 0h0m7 0h0m3.5 0h0m4 0h0m5 0h0m5.5 0h0m3 0h0m6 0h0m12 0h0m21 0h0m25 0h0m23.5 0h0m11.5 0h0m16.5 0h0m14 0h0m25 0h0m7.5 0h0m22.5 0h0m15 0h0M86 270.99h0m5.5 0h0m14.5 0h0m16.5 0h0m35.5 0h0m25 0h0m22.5 0h0m8 0h0m22.5 0h0m10 0h0m9.5 0h0m16 0h0m16.5 0h0m7.5 0h0m4.5 0h0m4.5 0h0m3.5 0h0m5 0h0m3 0h0m5 0h0m1 0h0m.5 0h0m1.5 0h0m1.5 0h0m2.5 0h0m1 0h0m3 0h0m3.5 0h0m1 0h0m3 0h0m2.5 0h0m3.5 0h0m1.5 0h0m2 0h0m6.5 0h0m8.5 0h0m4.5 0h0m4 0h0m8 0h0m5 0h0m5 0h0m22 0h0m22 0h0m12.5 0h0m12 0h0m13 0h0m27 0h0m12.5 0h0m9 0h0m11.5 0h0m31 0h0M83.5 269.03h0m17 0h0m5 0h0m16 0h0m13.5 0h0m15.5 0h0m13 0h0m17 0h0m9.5 0h0m5 0h0m22.5 0h0m12 0h0m9 0h0m12 0h0m15.5 0h0m6 0h0m7 0h0m4.5 0h0m3.5 0h0m3 0h0m8 0h0m7 0h0m4 0h0m2 0h0m8.5 0h0m4.5 0h0m1 0h0m3.5 0h0m3.5 0h0m2.5 0h0m1 0h0m5.5 0h0m1.5 0h0m2 0h0m1.5 0h0m5 0h0m2 0h0m2 0h0m6 0h0m6.5 0h0m2 0h0m8 0h0m12 0h0m18 0h0m16.5 0h0m18.5 0h0m27 0h0m22 0h0m18 0h0m14.5 0h0m35.5 0h0M95.5 267.08h0m23 0h0m10.5 0h0m13 0h0m27 0h0m23 0h0m28.5 0h0m15 0h0m12 0h0m4.5 0h0m10.5 0h0m13 0h0m16 0h0m6.5 0h0m7 0h0m1.5 0h0m3.5 0h0m1 0h0m3.5 0h0m3 0h0m1 0h0m3.5 0h0m9 0h0m2.5 0h0m6.5 0h0m2.5 0h0m2.5 0h0m4.5 0h0m4.5 0h0m2 0h0m8.5 0h0m10.5 0h0m19.5 0h0m24.5 0h0m2.5 0h0m17.5 0h0m13.5 0h0m13 0h0m3.5 0h0m4.5 0h0m22 0h0m25.5 0h0m11 0h0m24.5 0h0m4.5 0h0M82 265.12h0m7 0h0m26 0h0m30 0h0m22.5 0h0m31 0h0m16 0h0m9.5 0h0m22.5 0h0m11.5 0h0m6 0h0m5.5 0h0m6 0h0m7.5 0h0m9.5 0h0m6.5 0h0m6 0h0m3 0h0m3.5 0h0m2 0h0m5.5 0h0m3.5 0h0m3.5 0h0m7 0h0m2 0h0m3 0h0m3.5 0h0m3 0h0m5.5 0h0m3.5 0h0m3 0h0m6 0h0m5.5 0h0m14 0h0m12.5 0h0m10 0h0m27 0h0m14.5 0h0m10 0h0m24.5 0h0m20 0h0m10 0h0m27.5 0h0M88 263.16h0m8.5 0h0m14.5 0h0m21 0h0m7.5 0h0m17 0h0m15 0h0m16 0h0m11.5 0h0m14 0h0m10 0h0m12.5 0h0m10.5 0h0m16.5 0h0m10.5 0h0m8.5 0h0m6.5 0h0m13 0h0m4.5 0h0m2 0h0m3.5 0h0m6 0h0m1 0h0m2.5 0h0m1.5 0h0m1.5 0h0m2.5 0h0m4.5 0h0m.5 0h0m3 0h0m3.5 0h0m2 0h0m2.5 0h0m5 0h0m4 0h0m1 0h0m9 0h0m7 0h0m21.5 0h0m13.5 0h0m17 0h0m19 0h0m6.5 0h0m12.5 0h0m18.5 0h0m10.5 0h0m16 0h0m28.5 0h0m11 0h0m8 0h0M79 261.21h0m9 0h0m20.5 0h0m12 0h0m6.5 0h0m33.5 0h0m11 0h0m25 0h0m23 0h0m21 0h0m6 0h0m9.5 0h0m11 0h0m15 0h0m9 0h0m3.5 0h0m3 0h0m3.5 0h0m4 0h0m1 0h0m3 0h0m1.5 0h0m2 0h0m1 0h0m2.5 0h0m3.5 0h0m1.5 0h0m1.5 0h0m2 0h0m2 0h0m2 0h0m3 0h0m3.5 0h0m1 0h0m5 0h0m2.5 0h0m5.5 0h0m4.5 0h0m5 0h0m5 0h0m17.5 0h0m17 0h0m17 0h0m18.5 0h0m33 0h0m15.5 0h0m27.5 0h0m30.5 0h0m19.5 0h0M86 259.25h0m13.5 0h0m11.5 0h0m16 0h0m19.5 0h0m21 0h0m14 0h0m11 0h0m28 0h0m33 0h0m10.5 0h0m3.5 0h0m10.5 0h0m5 0h0m8.5 0h0m6.5 0h0m4 0h0m3 0h0m2 0h0m4 0h0m4 0h0m4.5 0h0m4 0h0m1 0h0m1.5 0h0m2.5 0h0m1 0h0m2.5 0h0m1.5 0h0m1.5 0h0m2.5 0h0m6 0h0m7 0h0m7 0h0m3 0h0m3.5 0h0m11 0h0m4.5 0h0m20 0h0m39 0h0m20.5 0h0m5 0h0m24.5 0h0m33 0h0m23.5 0h0m8 0h0M85.5 257.29h0m13 0h0m29 0h0m21.5 0h0m16.5 0h0m10 0h0m47.5 0h0m24.5 0h0m15 0h0m7.5 0h0m8.5 0h0m16.5 0h0m4.5 0h0m5.5 0h0m2.5 0h0m4 0h0m3 0h0m1.5 0h0m3 0h0m2.5 0h0m2.5 0h0m2.5 0h0m1.5 0h0m2 0h0m3 0h0m3 0h0m2.5 0h0m3.5 0h0m3 0h0m3 0h0m5.5 0h0m16 0h0m7.5 0h0m4.5 0h0m8 0h0m24.5 0h0m19 0h0m17 0h0m14.5 0h0m18 0h0m12.5 0h0m4.5 0h0m19.5 0h0m12.5 0h0m21 0h0m15.5 0h0M104 255.34h0m19 0h0m22.5 0h0m14 0h0m18 0h0m18.5 0h0m10 0h0m16 0h0m14 0h0m16.5 0h0m27.5 0h0m4.5 0h0m6 0h0m7.5 0h0m4.5 0h0m3.5 0h0m2.5 0h0m3 0h0m3.5 0h0m3.5 0h0m2 0h0m6 0h0m.5 0h0m1.5 0h0m2.5 0h0m1.5 0h0m2.5 0h0m4 0h0m2.5 0h0m6 0h0m3 0h0m3.5 0h0m6 0h0m6.5 0h0m7 0h0m3 0h0m11.5 0h0m8.5 0h0m8.5 0h0m9.5 0h0m11 0h0m10.5 0h0m20.5 0h0m21 0h0m21.5 0h0m12.5 0h0m20.5 0h0m35 0h0M101.5 253.38h0m17.5 0h0m10.5 0h0m38 0h0m20.5 0h0m15.5 0h0m5 0h0m22.5 0h0m9 0h0m19.5 0h0m14 0h0m5 0h0m8.5 0h0m6 0h0m3 0h0m3 0h0m2.5 0h0m1.5 0h0m5 0h0m2.5 0h0m1.5 0h0m2.5 0h0m2 0h0m1.5 0h0m1.5 0h0m2 0h0m3 0h0m6.5 0h0m2 0h0m3 0h0m3.5 0h0m4 0h0m2 0h0m5 0h0m7 0h0m5 0h0m5 0h0m16 0h0m20 0h0m11.5 0h0m12 0h0m5.5 0h0m11 0h0m14 0h0m12.5 0h0m19.5 0h0m11.5 0h0m24 0h0m15.5 0h0m21.5 0h0M102 251.43h0m14 0h0m21.5 0h0m19.5 0h0m6 0h0m18 0h0m5.5 0h0m10.5 0h0m18.5 0h0m31 0h0m16.5 0h0m16.5 0h0m5 0h0m3.5 0h0m4.5 0h0m3 0h0m3.5 0h0m4 0h0m2 0h0m4.5 0h0m3 0h0m1 0h0m5.5 0h0m1 0h0m1.5 0h0m7.5 0h0m1.5 0h0m6.5 0h0m6 0h0m2 0h0m2.5 0h0m1 0h0m2.5 0h0m2 0h0m4 0h0m5 0h0m7.5 0h0m5.5 0h0m6.5 0h0m11 0h0m19 0h0m10 0h0m13 0h0m11.5 0h0m29 0h0m11 0h0m9 0h0m14 0h0m22.5 0h0m7 0h0m9.5 0h0m12 0h0M84 249.47h0m13 0h0m21.5 0h0m16 0h0m23 0h0m10.5 0h0m13.5 0h0m22 0h0m14.5 0h0m14 0h0m16.5 0h0m11.5 0h0m18.5 0h0m7 0h0m4.5 0h0m6.5 0h0m4.5 0h0m4 0h0m6 0h0m2 0h0m2.5 0h0m3 0h0m2 0h0m2 0h0m2 0h0m1.5 0h0m2 0h0m1.5 0h0m2.5 0h0m2 0h0m1.5 0h0m2.5 0h0m3 0h0m3.5 0h0m4 0h0m8.5 0h0m3.5 0h0m2.5 0h0m5.5 0h0m12.5 0h0m12.5 0h0m18 0h0m7 0h0m10.5 0h0m12.5 0h0m45.5 0h0m8 0h0m9.5 0h0m28 0h0m24.5 0h0M87.5 247.51h0m19.5 0h0m9.5 0h0m12 0h0m14.5 0h0m29.5 0h0m5.5 0h0m17 0h0m6.5 0h0m26 0h0m13.5 0h0m8 0h0m13.5 0h0m13 0h0m3 0h0m6 0h0m3.5 0h0m4.5 0h0m3 0h0m5 0h0m3 0h0m4.5 0h0m3.5 0h0m2.5 0h0m2 0h0m3 0h0m2 0h0m1.5 0h0m1 0h0m1.5 0h0m1.5 0h0m2 0h0m3 0h0m3 0h0m4.5 0h0m2 0h0m4 0h0m3 0h0m4 0h0m3.5 0h0m5 0h0m2.5 0h0m4 0h0m16 0h0m22 0h0m13 0h0m10 0h0m35 0h0m13.5 0h0m13.5 0h0m17.5 0h0m23.5 0h0m17.5 0h0M112 245.56h0m15.5 0h0m26 0h0m22.5 0h0m10.5 0h0m27 0h0m22.5 0h0m26 0h0m5.5 0h0m11 0h0m9 0h0m2 0h0m5.5 0h0m5 0h0m10 0h0m7.5 0h0m2.5 0h0m3.5 0h0m2 0h0m2 0h0m2.5 0h0m1 0h0m1 0h0m1 0h0m2 0h0m1.5 0h0m3.5 0h0m1 0h0m5.5 0h0m1 0h0m4 0h0m5 0h0m5.5 0h0m4.5 0h0m6.5 0h0m3.5 0h0m13 0h0m15.5 0h0m30.5 0h0m2 0h0m17.5 0h0m11.5 0h0m11 0h0m28 0h0m11.5 0h0m15 0h0m24 0h0m8.5 0h0M89 243.6h0m11.5 0h0m32 0h0m8.5 0h0m10.5 0h0m16 0h0m25 0h0m27 0h0m15 0h0m31 0h0m16.5 0h0m3.5 0h0m5.5 0h0m11.5 0h0m2 0h0m4 0h0m3 0h0m2 0h0m.5 0h0m3.5 0h0m2 0h0m1 0h0m4 0h0m1.5 0h0m4 0h0m.5 0h0m2.5 0h0m2 0h0m1.5 0h0m4.5 0h0m2 0h0m4.5 0h0m4 0h0m2 0h0m2 0h0m2.5 0h0m4.5 0h0m8.5 0h0m20 0h0m14 0h0m7.5 0h0m10 0h0m12 0h0m6.5 0h0m16 0h0m16 0h0m7 0h0m5.5 0h0m19 0h0m22.5 0h0m16 0h0m12 0h0M83 241.64h0m37 0h0m16 0h0m19.5 0h0m12 0h0m1 0h0m18 0h0m14 0h0m27 0h0m14 0h0m6.5 0h0m16.5 0h0m6.5 0h0m9.5 0h0m7 0h0m8.5 0h0m4 0h0m4 0h0m3 0h0m8 0h0m2.5 0h0m2 0h0m2.5 0h0m1 0h0m5 0h0m5 0h0m1.5 0h0m1.5 0h0m1.5 0h0m3 0h0m2 0h0m3 0h0m3 0h0m1.5 0h0m4.5 0h0m2 0h0m3 0h0m3.5 0h0m1 0h0m7 0h0m9 0h0m10 0h0m8.5 0h0m8 0h0m9 0h0m5.5 0h0m15 0h0m8 0h0m15.5 0h0m7.5 0h0m16 0h0m6 0h0m19 0h0m10 0h0m21.5 0h0m15 0h0m9 0h0M97 239.69h0m5.5 0h0m8.5 0h0m29.5 0h0m35 0h0m11.5 0h0m25.5 0h0m19.5 0h0m16 0h0m8.5 0h0m18 0h0m9 0h0m5 0h0m5.5 0h0m5 0h0m1 0h0m3 0h0m1 0h0m7 0h0m4.5 0h0m6 0h0m2 0h0m2.5 0h0m4 0h0m1 0h0m4 0h0m1.5 0h0m5.5 0h0m1.5 0h0m6 0h0m2.5 0h0m4.5 0h0m3 0h0m3.5 0h0m7 0h0m4 0h0m8.5 0h0m8.5 0h0m6.5 0h0m19 0h0m21 0h0m22 0h0m25 0h0m23.5 0h0m25.5 0h0m24.5 0h0M80.5 237.73h0m20 0h0m32.5 0h0m25 0h0m7 0h0m12.5 0h0m14.5 0h0m42 0h0m11 0h0m11 0h0m8 0h0m12 0h0m10 0h0m9 0h0m2 0h0m2 0h0m2.5 0h0m2 0h0m5 0h0m1.5 0h0m2 0h0m3.5 0h0m5 0h0m3.5 0h0m3 0h0m2 0h0m1.5 0h0m2 0h0m2 0h0m2.5 0h0m1.5 0h0m3.5 0h0m2.5 0h0m3 0h0m1.5 0h0m13 0h0m7.5 0h0m15.5 0h0m16.5 0h0m16.5 0h0m29 0h0m6 0h0m25.5 0h0m17 0h0m19 0h0m13 0h0m18 0h0m12 0h0m13.5 0h0M86.5 235.77h0m24.5 0h0m32.5 0h0m16.5 0h0m9.5 0h0m39.5 0h0m8.5 0h0m16 0h0m27.5 0h0m7 0h0m12 0h0m5.5 0h0m6 0h0m3.5 0h0m3.5 0h0m2.5 0h0m1.5 0h0m1 0h0m2 0h0m2 0h0m3 0h0m3 0h0m1.5 0h0m2 0h0m2.5 0h0m1 0h0m5 0h0m2 0h0m2.5 0h0m3 0h0m3 0h0m1 0h0m4 0h0m2.5 0h0m2 0h0m4.5 0h0m5.5 0h0m2.5 0h0m13.5 0h0m17.5 0h0m38 0h0m6.5 0h0m14 0h0m29.5 0h0m5 0h0m11 0h0m19 0h0m37.5 0h0m9 0h0m10 0h0M84.5 233.82h0m11 0h0m8 0h0m17 0h0m13.5 0h0m21.5 0h0m8.5 0h0m19.5 0h0m33 0h0m14 0h0m13 0h0m9 0h0m23 0h0m7.5 0h0m7 0h0m10 0h0m4.5 0h0m3.5 0h0m1.5 0h0m2.5 0h0m1.5 0h0m3.5 0h0m2.5 0h0m2 0h0m2 0h0m1.5 0h0m1.5 0h0m6.5 0h0m3 0h0m1 0h0m1.5 0h0m5.5 0h0m2 0h0m2.5 0h0m4.5 0h0m4 0h0m4.5 0h0m7.5 0h0m7 0h0m12 0h0m20.5 0h0m16.5 0h0m33 0h0m58 0h0m11.5 0h0m17.5 0h0m5.5 0h0m15.5 0h0M98 231.86h0m20 0h0m28.5 0h0m17.5 0h0m9.5 0h0m14.5 0h0m14.5 0h0m18.5 0h0m13.5 0h0m13 0h0m19.5 0h0m11.5 0h0m2.5 0h0m5.5 0h0m9 0h0m4.5 0h0m4 0h0m4.5 0h0m3.5 0h0m2 0h0m4 0h0m2.5 0h0m4.5 0h0m2.5 0h0m6 0h0m.5 0h0m6.5 0h0m3 0h0m3.5 0h0m5.5 0h0m2 0h0m3.5 0h0m4 0h0m6 0h0m20.5 0h0m6 0h0m8 0h0m4 0h0m3.5 0h0m27.5 0h0m16 0h0m18.5 0h0m32.5 0h0m7.5 0h0m26 0h0m20.5 0h0M79.5 229.91h0m33 0h0m10.5 0h0m33 0h0m8.5 0h0m12 0h0m13.5 0h0m11.5 0h0m21 0h0m17.5 0h0m14 0h0m17.5 0h0m15 0h0m7.5 0h0m3 0h0m2.5 0h0m6 0h0m1.5 0h0m3 0h0m5.5 0h0m3.5 0h0m1.5 0h0m1.5 0h0m1.5 0h0m1.5 0h0m2.5 0h0m1.5 0h0m3.5 0h0m2.5 0h0m2 0h0m2 0h0m4 0h0m6 0h0m4 0h0m2 0h0m2 0h0m4 0h0m9.5 0h0m8 0h0m7.5 0h0m12 0h0m22.5 0h0m10.5 0h0m25.5 0h0m14 0h0m14.5 0h0m21.5 0h0m24 0h0m9.5 0h0m8 0h0m22 0h0M88.5 227.95h0m3.5 0h0m10.5 0h0m36 0h0m6.5 0h0m9 0h0m27 0h0m21 0h0m23.5 0h0m17 0h0m11 0h0m11 0h0m13.5 0h0m4 0h0m7.5 0h0m8.5 0h0m6 0h0m2 0h0m3 0h0m2.5 0h0m5.5 0h0m3 0h0m1 0h0m4.5 0h0m1.5 0h0m4 0h0m4.5 0h0m4.5 0h0m1.5 0h0m4.5 0h0m7.5 0h0m10.5 0h0m4.5 0h0m5.5 0h0m6 0h0m31 0h0m10.5 0h0m20 0h0m21 0h0m19 0h0m7 0h0m17 0h0m8.5 0h0m13.5 0h0m11 0h0m6.5 0h0m12.5 0h0m10 0h0M91 225.99h0m9.5 0h0m8 0h0m21 0h0m8.5 0h0m8 0h0m8 0h0m12 0h0m21.5 0h0m11.5 0h0m21 0h0m25 0h0m18.5 0h0m17 0h0m12.5 0h0m3.5 0h0m5 0h0m2.5 0h0m2.5 0h0m2 0h0m3 0h0m3 0h0m2 0h0m3 0h0m1 0h0m1.5 0h0m4.5 0h0m5 0h0m2 0h0m5.5 0h0m1.5 0h0m4.5 0h0m3.5 0h0m4 0h0m6.5 0h0m13 0h0m9 0h0m12.5 0h0m15.5 0h0m34.5 0h0m11 0h0m15 0h0m19 0h0m25 0h0m7.5 0h0m10.5 0h0m12.5 0h0m7.5 0h0m18.5 0h0M86 224.04h0m2.5 0h0m27 0h0m3.5 0h0m18.5 0h0m10 0h0m18.5 0h0m15 0h0m16.5 0h0m13.5 0h0m11 0h0m20 0h0m9.5 0h0m6 0h0m9.5 0h0m7 0h0m5 0h0m1.5 0h0m4.5 0h0m9 0h0m6 0h0m4 0h0m.5 0h0m8.5 0h0m1 0h0m5 0h0m1.5 0h0m3 0h0m.5 0h0m1.5 0h0m5 0h0m4 0h0m4.5 0h0m4 0h0m2 0h0m4 0h0m6 0h0m5.5 0h0m11 0h0m28 0h0m16 0h0m12.5 0h0m8.5 0h0m28 0h0m40 0h0m27 0h0m23 0h0M105.5 222.08h0m16.5 0h0m24 0h0m15.5 0h0m15.5 0h0m7.5 0h0m15 0h0m12.5 0h0m14 0h0m13.5 0h0m30 0h0m9.5 0h0m2.5 0h0m9 0h0m4 0h0m3.5 0h0m3.5 0h0m3 0h0m2 0h0m3 0h0m2.5 0h0m3 0h0m1.5 0h0m2.5 0h0m.5 0h0m5 0h0m.5 0h0m3 0h0m2 0h0m1.5 0h0m4 0h0m4 0h0m1.5 0h0m2.5 0h0m1.5 0h0m11 0h0m2.5 0h0m7.5 0h0m7 0h0m14.5 0h0m14 0h0m6 0h0m8 0h0m12 0h0m22 0h0m2 0h0m17 0h0m9 0h0m8.5 0h0m11.5 0h0m8.5 0h0m16 0h0m13 0h0M93.5 220.12h0m8 0h0m10.5 0h0m11 0h0m10.5 0h0m22 0h0m6 0h0m16.5 0h0m7.5 0h0m7.5 0h0m17 0h0m8 0h0m12 0h0m23.5 0h0m17 0h0m11 0h0m2 0h0m2.5 0h0m4 0h0m2 0h0m6.5 0h0m2.5 0h0m5 0h0m2.5 0h0m2.5 0h0m2.5 0h0m1.5 0h0m2 0h0m3 0h0m1.5 0h0m.5 0h0m4 0h0m5 0h0m3 0h0m2 0h0m2 0h0m4.5 0h0m3.5 0h0m2 0h0m6 0h0m3 0h0m3 0h0m4.5 0h0m3.5 0h0m6.5 0h0m9 0h0m8.5 0h0m2 0h0m18 0h0m7 0h0m10 0h0m18 0h0m13.5 0h0m10 0h0m13 0h0m37.5 0h0m14.5 0h0m20.5 0h0M97 218.17h0m6 0h0m17 0h0m4.5 0h0m38.5 0h0m18.5 0h0m10.5 0h0m20.5 0h0m22 0h0m9.5 0h0m15.5 0h0m10.5 0h0m10.5 0h0m5.5 0h0m4.5 0h0m2 0h0m3 0h0m3 0h0m3.5 0h0m2.5 0h0m3.5 0h0m3 0h0m2.5 0h0m2 0h0m2.5 0h0m2.5 0h0m1 0h0m.5 0h0m2 0h0m3 0h0m1.5 0h0m1.5 0h0m1.5 0h0m4.5 0h0m2 0h0m3 0h0m3 0h0m2 0h0m2.5 0h0m4 0h0m2.5 0h0m6 0h0m11.5 0h0m2.5 0h0m3.5 0h0m20.5 0h0m16 0h0m6.5 0h0m23 0h0m13.5 0h0m14 0h0m29.5 0h0m12 0h0m21.5 0h0m7 0h0m16 0h0M80.5 216.21h0m23 0h0m13.5 0h0m5.5 0h0m10.5 0h0m35.5 0h0m6.5 0h0m8.5 0h0m23.5 0h0m14 0h0m22 0h0m21 0h0m8 0h0m4.5 0h0m8 0h0m8.5 0h0m7.5 0h0m4.5 0h0m3.5 0h0m3 0h0m2.5 0h0m2 0h0m2.5 0h0m3 0h0m3 0h0m2 0h0m3 0h0m2.5 0h0m1.5 0h0m3.5 0h0m1.5 0h0m2 0h0m3.5 0h0m2 0h0m4.5 0h0m4 0h0m4.5 0h0m1 0h0m6.5 0h0m11 0h0m18.5 0h0m4.5 0h0m3.5 0h0m5.5 0h0m3.5 0h0m8.5 0h0m7.5 0h0m20 0h0m24 0h0m10 0h0m18.5 0h0m13.5 0h0m25 0h0m22 0h0m7 0h0M81.5 214.26h0m24 0h0m8.5 0h0m42 0h0m19 0h0m54 0h0m6 0h0m15 0h0m7.5 0h0m9.5 0h0m9 0h0m9 0h0m6.5 0h0m6 0h0m4 0h0m2 0h0m4.5 0h0m2 0h0m2 0h0m4 0h0m1 0h0m2 0h0m2.5 0h0m2.5 0h0m3.5 0h0m3.5 0h0m4 0h0m1 0h0m2.5 0h0m5.5 0h0m4 0h0m6.5 0h0m4.5 0h0m2.5 0h0m1.5 0h0m12.5 0h0m15.5 0h0m18 0h0m14 0h0m3 0h0m23.5 0h0m13.5 0h0m6 0h0m15.5 0h0m4 0h0m10 0h0m15 0h0m37 0h0M82 212.3h0m20.5 0h0m19.5 0h0m12.5 0h0m13.5 0h0m20 0h0m9 0h0m11.5 0h0m25.5 0h0m11.5 0h0m17 0h0m20.5 0h0m14 0h0m5.5 0h0m3.5 0h0m8 0h0m8 0h0m2 0h0m3 0h0m2 0h0m3.5 0h0m2.5 0h0m2.5 0h0m1 0h0m2 0h0m2.5 0h0m2.5 0h0m1 0h0m1 0h0m4.5 0h0m1.5 0h0m3 0h0m2 0h0m2.5 0h0m5 0h0m2.5 0h0m2.5 0h0m4.5 0h0m5.5 0h0m4 0h0m2.5 0h0m7.5 0h0m15 0h0m8 0h0m6 0h0m16 0h0m50.5 0h0m23.5 0h0m18 0h0m12.5 0h0m11.5 0h0m23.5 0h0M88 210.34h0m12.5 0h0m21 0h0m22 0h0m13 0h0m13 0h0m8.5 0h0m25.5 0h0m19 0h0m12 0h0m12 0h0m22.5 0h0m8.5 0h0m13 0h0m6 0h0m4.5 0h0m2 0h0m4 0h0m2.5 0h0m2 0h0m2.5 0h0m3 0h0m8.5 0h0m1 0h0m1 0h0m2.5 0h0m2 0h0m2.5 0h0m1.5 0h0m4 0h0m1.5 0h0m2.5 0h0m3 0h0m5 0h0m2.5 0h0m5 0h0m2.5 0h0m10.5 0h0m13.5 0h0m22 0h0m11.5 0h0m14.5 0h0m28 0h0m17 0h0m19.5 0h0m16.5 0h0m13 0h0m26 0h0m13.5 0h0M88 208.39h0m39 0h0m14 0h0m53 0h0m18.5 0h0m3.5 0h0m13.5 0h0m10 0h0m8 0h0m15.5 0h0m15.5 0h0m7.5 0h0m10 0h0m7 0h0m4 0h0m2 0h0m3 0h0m4.5 0h0m2.5 0h0m2 0h0m2.5 0h0m1 0h0m1 0h0m1 0h0m3 0h0m3.5 0h0m3.5 0h0m5 0h0m3.5 0h0m5 0h0m3.5 0h0m4.5 0h0m13.5 0h0m11.5 0h0m14.5 0h0m12 0h0m44.5 0h0m8.5 0h0m4 0h0m30 0h0m15.5 0h0m16.5 0h0m17.5 0h0m10 0h0M85 206.43h0m30.5 0h0m10 0h0m3.5 0h0m18 0h0m19 0h0m49.5 0h0m12 0h0m6.5 0h0m8.5 0h0m16 0h0m10 0h0m8.5 0h0m10 0h0m1.5 0h0m4 0h0m8.5 0h0m3 0h0m6 0h0m2.5 0h0m3 0h0m1 0h0m2 0h0m2 0h0m2.5 0h0m3 0h0m3 0h0m5 0h0m3.5 0h0m2.5 0h0m3 0h0m1.5 0h0m2 0h0m6 0h0m3 0h0m10.5 0h0m13 0h0m3.5 0h0m16.5 0h0m10 0h0m15 0h0m15.5 0h0m24.5 0h0m28 0h0m15 0h0m26 0h0m10 0h0m26 0h0M85.5 204.47h0m23 0h0m23.5 0h0m27.5 0h0m40 0h0m15.5 0h0m6.5 0h0m31 0h0m16.5 0h0m6.5 0h0m13 0h0m4.5 0h0m4.5 0h0m4 0h0m4 0h0m2.5 0h0m2 0h0m5 0h0m1 0h0m3 0h0m2 0h0m3 0h0m3 0h0m3.5 0h0m2.5 0h0m3 0h0m1.5 0h0m4 0h0m2 0h0m1.5 0h0m5 0h0m4.5 0h0m4.5 0h0m5.5 0h0m15.5 0h0m14 0h0m6 0h0m8.5 0h0m31 0h0m28.5 0h0m8.5 0h0m21.5 0h0m11 0h0m16 0h0m16.5 0h0M82 202.52h0m46.5 0h0m23 0h0m23.5 0h0m11.5 0h0m26 0h0m15.5 0h0m2.5 0h0m24 0h0m8 0h0m6.5 0h0m10.5 0h0m9 0h0m3 0h0m4.5 0h0m10 0h0m3 0h0m2.5 0h0m6 0h0m2.5 0h0m.5 0h0m3 0h0m2.5 0h0m1.5 0h0m1.5 0h0m2.5 0h0m3 0h0m1 0h0m4.5 0h0m4 0h0m4 0h0m5 0h0m11.5 0h0m21 0h0m19 0h0m17.5 0h0m26.5 0h0m23.5 0h0m10.5 0h0m14 0h0m24.5 0h0m1 0h0m45.5 0h0M87 200.56h0m23 0h0m13.5 0h0m17.5 0h0m13 0h0m10.5 0h0m35 0h0m20 0h0m11.5 0h0m14.5 0h0m20 0h0m8.5 0h0m10 0h0m10 0h0m2 0h0m5.5 0h0m5.5 0h0m2.5 0h0m2.5 0h0m5.5 0h0m3 0h0m2.5 0h0m2 0h0m5 0h0m1 0h0m2.5 0h0m3 0h0m2 0h0m7.5 0h0m4.5 0h0m2 0h0m4.5 0h0m5 0h0m16.5 0h0m18.5 0h0m10.5 0h0m20.5 0h0m18 0h0m27 0h0m19 0h0m13 0h0m13.5 0h0m16 0h0m16 0h0m8 0h0M88 198.6h0m23 0h0m9.5 0h0m41.5 0h0m35 0h0m39 0h0m31.5 0h0m6.5 0h0m11 0h0m3.5 0h0m9 0h0m6.5 0h0m4.5 0h0m3.5 0h0m5 0h0m3.5 0h0m3 0h0m3 0h0m1 0h0m2 0h0m.5 0h0m4.5 0h0m1.5 0h0m2 0h0m2.5 0h0m6.5 0h0m3.5 0h0m7 0h0m5.5 0h0m14.5 0h0m15 0h0m7.5 0h0m38 0h0m28 0h0m24 0h0m18.5 0h0m20 0h0m43 0h0M97 196.65h0m42 0h0m10.5 0h0m42.5 0h0m9 0h0m12.5 0h0m18 0h0m11.5 0h0m15.5 0h0m12 0h0m12 0h0m10.5 0h0m3.5 0h0m3 0h0m4.5 0h0m3.5 0h0m2.5 0h0m2.5 0h0m2 0h0m2 0h0m2.5 0h0m4.5 0h0m1 0h0m2 0h0m4 0h0m4.5 0h0m1.5 0h0m4.5 0h0m3 0h0m4 0h0m9.5 0h0m5.5 0h0m9.5 0h0m15.5 0h0m18 0h0m19 0h0m33.5 0h0m18.5 0h0m48 0h0m23.5 0h0m15.5 0h0M95 194.69h0m63.5 0h0m40 0h0m21 0h0m21 0h0m23 0h0m17.5 0h0m4 0h0m12 0h0m4.5 0h0m5 0h0m3.5 0h0m4 0h0m4 0h0m2.5 0h0m3 0h0m3 0h0m7 0h0m5.5 0h0m5 0h0m1.5 0h0m4 0h0m4.5 0h0m2.5 0h0m8.5 0h0m18.5 0h0m13 0h0m11 0h0m32 0h0m42.5 0h0m13 0h0m41 0h0m14 0h0m15.5 0h0M91.5 192.74h0m32 0h0m11 0h0m25 0h0m15.5 0h0m6.5 0h0m22 0h0m15 0h0m30.5 0h0m10 0h0m15.5 0h0m11.5 0h0m5.5 0h0m4.5 0h0m5.5 0h0m7.5 0h0m5 0h0m3 0h0m4.5 0h0m2.5 0h0m2 0h0m1.5 0h0m6.5 0h0m4 0h0m3 0h0m3 0h0m5 0h0m6 0h0m6 0h0m11 0h0m5.5 0h0m8.5 0h0m12 0h0m30 0h0m43.5 0h0m41.5 0h0m53.5 0h0M120.5 190.78h0m15 0h0m42.5 0h0m20.5 0h0m36.5 0h0m14.5 0h0m17.5 0h0m12.5 0h0m8.5 0h0m8 0h0m6 0h0m4.5 0h0m5.5 0h0m3.5 0h0m1.5 0h0m4 0h0m1.5 0h0m3.5 0h0m1 0h0m3 0h0m3 0h0m1.5 0h0m5 0h0m2 0h0m1 0h0m7 0h0m3 0h0m3.5 0h0m7 0h0m15.5 0h0m13 0h0m17.5 0h0m13 0h0m20 0h0m25 0h0m28 0h0m24 0h0m20 0h0m24.5 0h0M95 188.82h0m26 0h0m24 0h0m34 0h0m32 0h0m16 0h0m13 0h0m12.5 0h0m12.5 0h0m28 0h0m6.5 0h0m5.5 0h0m1 0h0m3 0h0m1 0h0m.5 0h0m4.5 0h0m4.5 0h0m2 0h0m4 0h0m3.5 0h0m2 0h0m4.5 0h0m3 0h0m3.5 0h0m6.5 0h0m2 0h0m4.5 0h0m8.5 0h0m3.5 0h0m23.5 0h0m38 0h0m18.5 0h0m24.5 0h0m30 0h0m52 0h0M92 186.87h0m19 0h0m48 0h0m23.5 0h0m33 0h0m53 0h0m15 0h0m9.5 0h0m11 0h0m5 0h0m2.5 0h0m3.5 0h0m3.5 0h0m2 0h0m4 0h0m1.5 0h0m3 0h0m3.5 0h0m4 0h0m7 0h0m8.5 0h0m13 0h0m23.5 0h0m16.5 0h0m26 0h0m25.5 0h0m22.5 0h0m39.5 0h0m46 0h0M114 184.91h0m31.5 0h0m31.5 0h0m32.5 0h0m50.5 0h0m16.5 0h0m11 0h0m7 0h0m8.5 0h0m6.5 0h0m10.5 0h0m6 0h0m3 0h0m6 0h0m4 0h0m2.5 0h0m5 0h0m22.5 0h0m24 0h0m30.5 0h0m16 0h0m14 0h0m21.5 0h0m32.5 0h0m50 0h0M88 182.95h0m30.5 0h0m32.5 0h0m39 0h0m40 0h0m41 0h0m8.5 0h0m13.5 0h0m6.5 0h0m5.5 0h0m3 0h0m4 0h0m5 0h0m4.5 0h0m5 0h0m1.5 0h0m6.5 0h0m3.5 0h0m2 0h0m4 0h0m3.5 0h0m5.5 0h0m6 0h0m6 0h0m18.5 0h0m37 0h0m74.5 0h0m7 0h0m44.5 0h0M87 181h0m43.5 0h0m37 0h0m45.5 0h0m28.5 0h0m27 0h0m10.5 0h0m15 0h0m10.5 0h0m6 0h0m3.5 0h0m1.5 0h0m3 0h0m2 0h0m5 0h0m4 0h0m1.5 0h0m4 0h0m1.5 0h0m8 0h0m2.5 0h0m6 0h0m4 0h0m3 0h0m13 0h0m3.5 0h0m7.5 0h0m17.5 0h0m17 0h0m71 0h0m55.5 0h0m23 0h0M106 179.04h0m66.5 0h0m36.5 0h0m30.5 0h0m21 0h0m14 0h0m16 0h0m5 0h0m6.5 0h0m6 0h0m6 0h0m4.5 0h0m3.5 0h0m7 0h0m4 0h0m6 0h0m7.5 0h0m3 0h0m6.5 0h0m12 0h0m34 0h0m27 0h0m15 0h0m36.5 0h0m68.5 0h0M111.5 177.09h0m64 0h0m30.5 0h0m28 0h0m34 0h0m14.5 0h0m10.5 0h0m7 0h0m7.5 0h0m6.5 0h0m7 0h0m8.5 0h0m3 0h0m2.5 0h0m8.5 0h0m10.5 0h0m5.5 0h0m14 0h0m36 0h0m38.5 0h0m42.5 0h0m52.5 0h0m20 0h0M99 175.13h0m69 0h0m61.5 0h0m36.5 0h0m20.5 0h0m16 0h0m7.5 0h0m5.5 0h0m2.5 0h0m5 0h0m1 0h0m4 0h0m2 0h0m8.5 0h0m6 0h0m4.5 0h0m3.5 0h0m13.5 0h0m9 0h0m31 0h0m93.5 0h0m28 0h0m27.5 0h0M86 173.17h0m44.5 0h0m20 0h0m64.5 0h0m44.5 0h0m11.5 0h0m19.5 0h0m10 0h0m8 0h0m4 0h0m4 0h0m4 0h0m3 0h0m3.5 0h0m10 0h0m6.5 0h0m19 0h0m7.5 0h0m40 0h0m10.5 0h0m59 0h0m18 0h0m23.5 0h0M108 171.22h0m171 0h0m10 0h0m13 0h0m3 0h0m7.5 0h0m5 0h0m2.5 0h0m6.5 0h0m3.5 0h0m8.5 0h0m5 0h0m7 0h0m8 0h0m21 0h0m30 0h0m43 0h0m76.5 0h0M98 169.26h0m26 0h0m54.5 0h0m27.5 0h0m46.5 0h0m36 0h0m14.5 0h0m5 0h0m7.5 0h0m3.5 0h0m8.5 0h0m5 0h0m2 0h0m7.5 0h0m2 0h0m11.5 0h0m10.5 0h0m77 0h0m30.5 0h0m53.5 0h0m34.5 0h0M144 167.3h0m89.5 0h0m34 0h0m9 0h0m11.5 0h0m2.5 0h0m5 0h0m12.5 0h0m15 0h0m6.5 0h0m3.5 0h0m12 0h0m4.5 0h0m6.5 0h0m15.5 0h0m29.5 0h0m62 0h0m46.5 0h0m51.5 0h0M138 165.35h0m82.5 0h0m63 0h0m8 0h0m7 0h0m8.5 0h0m7 0h0m6 0h0m3 0h0m7.5 0h0m2.5 0h0m5.5 0h0m6 0h0m2 0h0m7 0h0m11 0h0m6 0h0m20.5 0h0m11.5 0h0m35 0h0M113.5 163.39h0m56 0h0m26.5 0h0m45.5 0h0m15.5 0h0m28 0h0m17 0h0m10 0h0m8 0h0m3 0h0m4.5 0h0m3.5 0h0m2.5 0h0m4.5 0h0m2 0h0m13 0h0m63.5 0h0m81 0h0m68.5 0h0M158.5 161.44h0m56.5 0h0m55 0h0m15.5 0h0m19.5 0h0m9 0h0m8 0h0m3 0h0m5 0h0m11.5 0h0m7 0h0m12 0h0m9 0h0m77.5 0h0m47 0h0m64.5 0h0M146 159.48h0m87 0h0m6 0h0m45.5 0h0m10 0h0m3.5 0h0m7 0h0m3 0h0m5.5 0h0m6 0h0m4.5 0h0m3.5 0h0m9 0h0m5 0h0m8.5 0h0m4.5 0h0m44 0h0m78 0h0m21.5 0h0M93 157.52h0m131.5 0h0m51 0h0m10.5 0h0m7.5 0h0m16 0h0m4.5 0h0m6.5 0h0m3.5 0h0m8 0h0m8 0h0m5.5 0h0m14.5 0h0m35 0h0m45.5 0h0m72.5 0h0m44.5 0h0M146 155.57h0m112.5 0h0m33.5 0h0m15 0h0m3.5 0h0m7 0h0m2.5 0h0m5 0h0m7 0h0m6.5 0h0m4 0h0m8 0h0m49 0h0m129 0h0M101.5 153.61h0m29.5 0h0m123 0h0m40.5 0h0m10 0h0m3 0h0m13 0h0m6 0h0m4 0h0m13.5 0h0m7.5 0h0m34.5 0h0m173 0h0M177 151.65h0m94.5 0h0m24.5 0h0m8 0h0m10 0h0m6.5 0h0m4.5 0h0m6.5 0h0m3.5 0h0m3.5 0h0m8 0h0m8.5 0h0m28 0h0m93 0h0m46 0h0M209 149.7h0m82 0h0m18 0h0m9.5 0h0m6 0h0m11 0h0m29 0h0m44.5 0h0m122 0h0M165.5 147.74h0m122.5 0h0m13.5 0h0m7.5 0h0m5 0h0m6 0h0m19 0h0m14.5 0h0m11 0h0m104.5 0h0m102.5 0h0M179.5 145.78h0m51.5 0h0m55.5 0h0m22.5 0h0m10 0h0m3 0h0m13 0h0m8 0h0m19 0h0m27 0h0m12.5 0h0m132 0h0M113 143.83h0m164.5 0h0m19 0h0m10 0h0m7 0h0m8 0h0m22.5 0h0m33 0h0m124 0h0M178.5 141.87h0m91 0h0m9 0h0m25.5 0h0m27.5 0h0m6.5 0h0m9.5 0h0m15.5 0h0m15 0h0M169.5 139.92h0m74 0h0m64 0h0m9 0h0m6.5 0h0m9 0h0m3.5 0h0m7.5 0h0m22.5 0h0M170 137.96h0m90 0h0m46.5 0h0m8 0h0m11 0h0m21.5 0h0m11 0h0m39.5 0h0M192 136h0m117 0h0m13 0h0m10.5 0h0m10 0h0m16 0h0M127.5 134.05h0m159 0h0m28.5 0h0m17 0h0m15 0h0m8.5 0h0m30.5 0h0M124.5 132.09h0m143 0h0m36.5 0h0m12 0h0m11.5 0h0m30 0h0m134.5 0h0M289.5 130.13h0m28.5 0h0m20 0h0m21.5 0h0m211 0h0M293 128.18h0m12.5 0h0m13 0h0m53 0h0m110 0h0M261.5 126.22h0m40.5 0h0m23 0h0m14.5 0h0m48.5 0h0M124.5 124.27h0m173.5 0h0m20.5 0h0m17.5 0h0m95 0h0M253 122.31h0m72 0h0M162 120.35h0m123.5 0h0m43.5 0h0m6.5 0h0m41.5 0h0M113.5 118.4h0m187.5 0h0m71.5 0h0M276.5 116.44h0m39 0h0M253.5 114.48h0m45.5 0h0m50 0h0M292.5 112.53h0m278 0h0M297 110.57h0m38.5 0h0m58.5 0h0M302 108.62h0m18.5 0h0m26 0h0M289.5 106.66h0m81.5 0h0M301.5 104.7h0m96 0h0M280.5 102.75h0m35.5 0h0m129.5 0h0M99.5 98.83h0m206 0h0m39.5 0h0M382 96.88h0M317 94.92h0M298 92.96h0M314.5 91.01h0M129.5 89.05h0m292 0h0M345.5 87.1h0M330 85.14h0M335.5 83.18h0M500 81.23h0M209.5 77.31h0M468.5 75.36h0M351.5 67.53h0"/><path d="M486.5 499.88h0M428 480.31h0M374 456.84h0M551 454.88h0M154 449.01h0M223.5 447.06h0M289.5 441.19h0M176 439.23h0M281.5 437.27h0M207 435.32h0M348.5 433.36h0m201.5 0h0M376 431.4h0M258.5 429.45h0m277.5 0h0M213 425.54h0m207.5 0h0M90.5 423.58h0m181.5 0h0m175.5 0h0M216.5 421.62h0M378 419.67h0M138.5 417.71h0m111 0h0m94.5 0h0M148.5 415.75h0m133.5 0h0m102.5 0h0m88.5 0h0M220.5 413.8h0m224.5 0h0M110 411.84h0m29 0h0m212.5 0h0m99.5 0h0m111 0h0M182.5 409.89h0m224.5 0h0M112 407.93h0m113 0h0m135 0h0m151.5 0h0M107.5 405.97h0m89 0h0m98.5 0h0m161 0h0M95 404.02h0m88.5 0h0m103 0h0m55 0h0m176.5 0h0m53.5 0h0M160.5 402.06h0m41 0h0m36.5 0h0m40 0h0m132 0h0m36 0h0m58.5 0h0m55.5 0h0M158.5 400.1h0m32 0h0m45 0h0m125 0h0m38.5 0h0m19 0h0m131.5 0h0M130 398.15h0m48.5 0h0m117 0h0m116.5 0h0m36 0h0m21.5 0h0m95.5 0h0M143.5 396.19h0m48.5 0h0m68.5 0h0m48 0h0m57.5 0h0m61 0h0m99.5 0h0M110 394.23h0m56.5 0h0m28.5 0h0m86.5 0h0m63.5 0h0m50 0h0m88.5 0h0m85 0h0M188 392.28h0m123 0h0m46 0h0m75 0h0m52 0h0M118 390.32h0m60.5 0h0m51.5 0h0m49.5 0h0m135 0h0m47 0h0m60 0h0m36 0h0M136 388.37h0m72.5 0h0m29 0h0m197.5 0h0m40.5 0h0m55 0h0m13 0h0M91 386.41h0m56 0h0m25.5 0h0m106 0h0m49 0h0m24 0h0m51.5 0h0m76 0h0m73 0h0M147.5 384.45h0m112.5 0h0m30.5 0h0m41.5 0h0m62 0h0m60 0h0M90.5 382.5h0m22 0h0m64 0h0m25.5 0h0m107.5 0h0m53 0h0m10 0h0m17.5 0h0m18.5 0h0m44.5 0h0m36 0h0m34 0h0M110 380.54h0m42 0h0m18.5 0h0m50 0h0m41 0h0m35 0h0m27 0h0m44 0h0m69.5 0h0m35.5 0h0m57.5 0h0M124.5 378.58h0m58 0h0m52.5 0h0m7 0h0m31.5 0h0m24.5 0h0m22.5 0h0m20.5 0h0m70.5 0h0m30.5 0h0m76 0h0M86 376.63h0m53.5 0h0m49 0h0m59.5 0h0m29.5 0h0m26.5 0h0m22.5 0h0m38.5 0h0m40.5 0h0m16.5 0h0m33.5 0h0m39 0h0m30.5 0h0m28 0h0M87 374.67h0m50 0h0m42.5 0h0m22 0h0m70 0h0m66.5 0h0m87.5 0h0m76 0h0m69 0h0M125 372.72h0m36 0h0m79 0h0m43.5 0h0m42.5 0h0m29.5 0h0m39 0h0m51 0h0m42 0h0m24 0h0m16.5 0h0m10.5 0h0m23.5 0h0M128 370.76h0m38 0h0m42.5 0h0m48 0h0m20.5 0h0m14.5 0h0m17 0h0m17.5 0h0m30.5 0h0m47 0h0m52 0h0m38.5 0h0m27 0h0m25.5 0h0M110 368.8h0m17 0h0m95 0h0m22.5 0h0m25.5 0h0m12.5 0h0m23 0h0m15 0h0m11 0h0m21 0h0m30 0h0m29.5 0h0m20 0h0m26 0h0m38.5 0h0m39.5 0h0m27.5 0h0M115.5 366.85h0m36.5 0h0m77.5 0h0m21.5 0h0m19 0h0m44 0h0m57 0h0m78 0h0m48.5 0h0m27 0h0M92 364.89h0m34 0h0m26.5 0h0m34 0h0m10 0h0m53 0h0m23.5 0h0m32.5 0h0m75 0h0m48 0h0m30.5 0h0m32.5 0h0m22.5 0h0m22 0h0M86.5 362.93h0m29 0h0m13.5 0h0m89.5 0h0m22 0h0m18 0h0m55.5 0h0m33 0h0m20 0h0m17 0h0m26 0h0m23.5 0h0m74 0h0m9 0h0m9 0h0m21 0h0m24 0h0M81 360.98h0m23.5 0h0m41.5 0h0m67.5 0h0m10.5 0h0m29.5 0h0m24 0h0m28 0h0m49 0h0m40.5 0h0m32.5 0h0m26 0h0m34.5 0h0m37.5 0h0m16.5 0h0m28 0h0M131 359.02h0m14 0h0m22 0h0m27 0h0m27 0h0m9.5 0h0m27 0h0m56 0h0m43 0h0m36 0h0m27.5 0h0m50 0h0m20 0h0m22.5 0h0m32 0h0M89 357.07h0m26.5 0h0m8.5 0h0m23.5 0h0m19.5 0h0m36.5 0h0m16 0h0m18.5 0h0m10.5 0h0m16.5 0h0m22.5 0h0m35.5 0h0m12 0h0m17.5 0h0m19.5 0h0m41.5 0h0m26 0h0m54 0h0m22 0h0m22.5 0h0M82 355.11h0m27.5 0h0m31 0h0m35 0h0m8.5 0h0m30.5 0h0m11.5 0h0m14.5 0h0m4.5 0h0m33 0h0m18 0h0m13 0h0m30 0h0m27 0h0m44.5 0h0m13.5 0h0m28.5 0h0m48.5 0h0m27.5 0h0m15 0h0M80 353.15h0m16.5 0h0m19.5 0h0m24.5 0h0m28.5 0h0m11.5 0h0m16.5 0h0m26.5 0h0m5 0h0m48.5 0h0m12 0h0m31.5 0h0m12.5 0h0m11.5 0h0m10.5 0h0m15 0h0m53.5 0h0m17 0h0m33.5 0h0m25 0h0m25.5 0h0m9.5 0h0m25.5 0h0M102.5 351.2h0m6 0h0m18.5 0h0m18 0h0m52 0h0m14.5 0h0m38.5 0h0m23 0h0m27 0h0m14.5 0h0m14 0h0m27.5 0h0m30 0h0m13 0h0m18 0h0m46 0h0m25.5 0h0m15.5 0h0m10.5 0h0m27.5 0h0M88 349.24h0m33 0h0m11 0h0m28.5 0h0m15 0h0m28.5 0h0m19.5 0h0m18 0h0m13.5 0h0m26 0h0m21 0h0m8 0h0m20 0h0m6.5 0h0m10.5 0h0m3 0h0m23.5 0h0m8.5 0h0m16 0h0m23 0h0m21 0h0m8 0h0m10.5 0h0m29 0h0m26 0h0m4.5 0h0m50 0h0M96.5 347.28h0m28 0h0m18 0h0m38 0h0m23 0h0m13 0h0m27 0h0m27.5 0h0m21.5 0h0m11.5 0h0m10.5 0h0m12.5 0h0m16 0h0m8.5 0h0m30 0h0m23.5 0h0m10.5 0h0m19 0h0m13.5 0h0m17 0h0m38 0h0m21.5 0h0m29.5 0h0m13.5 0h0M97.5 345.33h0m25 0h0m20 0h0m18.5 0h0m19.5 0h0m21.5 0h0m4.5 0h0m14.5 0h0m12 0h0m31.5 0h0m28.5 0h0m9 0h0m20.5 0h0m23.5 0h0m25 0h0m19.5 0h0m23 0h0m10.5 0h0m30 0h0m39 0h0m41 0h0m25 0h0M80 343.37h0m31.5 0h0m10.5 0h0m50 0h0m13 0h0m14.5 0h0m24.5 0h0m32.5 0h0m18 0h0m17 0h0m7.5 0h0m26 0h0m12 0h0m19.5 0h0m19 0h0m14 0h0m15.5 0h0m25.5 0h0m20 0h0m18.5 0h0m23 0h0m17.5 0h0m24 0h0m11 0h0m21 0h0M109 341.41h0m14 0h0m13.5 0h0m9 0h0m12.5 0h0m20.5 0h0m42 0h0m21.5 0h0m22 0h0m26 0h0m18.5 0h0m20 0h0m5 0h0m6 0h0m22 0h0m25.5 0h0m25.5 0h0m8.5 0h0m24 0h0m20.5 0h0m36.5 0h0m35.5 0h0m7.5 0h0m22 0h0M102.5 339.46h0m17 0h0m43.5 0h0m12 0h0m10.5 0h0m27 0h0m18 0h0m6.5 0h0m34.5 0h0m17.5 0h0m14 0h0m2 0h0m9.5 0h0m7 0h0m11.5 0h0m19 0h0m25.5 0h0m26 0h0m22 0h0m15.5 0h0m21 0h0m22.5 0h0m18.5 0h0m19.5 0h0m43.5 0h0M91.5 337.5h0m15 0h0m22 0h0m26.5 0h0m16.5 0h0m27.5 0h0m22 0h0m12 0h0m35 0h0m16.5 0h0m12 0h0m2.5 0h0m10.5 0h0m10 0h0m9.5 0h0m7 0h0m10 0h0m18 0h0m28 0h0m15.5 0h0m22.5 0h0m11 0h0m46 0h0m6.5 0h0m36 0h0m14 0h0m22.5 0h0M99 335.55h0m9.5 0h0m26 0h0m9 0h0m16.5 0h0m27.5 0h0m36 0h0m22 0h0m13.5 0h0m12.5 0h0m24 0h0m13 0h0m12.5 0h0m11.5 0h0m21 0h0m29.5 0h0m16 0h0m9 0h0m48.5 0h0m33.5 0h0m23.5 0h0m7 0h0m14.5 0h0m30.5 0h0M90 333.59h0m30 0h0m12 0h0m27 0h0m20 0h0m7.5 0h0m17.5 0h0m11.5 0h0m41.5 0h0m15.5 0h0m20.5 0h0m8 0h0m10 0h0m12.5 0h0m3.5 0h0m7 0h0m4.5 0h0m10.5 0h0m14 0h0m11.5 0h0m14 0h0m17.5 0h0m6.5 0h0m20 0h0m9.5 0h0m16.5 0h0m18.5 0h0m27 0h0m27 0h0m17 0h0M97 331.63h0m25.5 0h0m13.5 0h0m13 0h0m16 0h0m12.5 0h0m13 0h0m15 0h0m9.5 0h0m10 0h0m12.5 0h0m13.5 0h0m14 0h0m11 0h0m13.5 0h0m27.5 0h0m12 0h0m16.5 0h0m11 0h0m18 0h0m27 0h0m8.5 0h0m18 0h0m32.5 0h0m17 0h0m12.5 0h0m14 0h0m32.5 0h0m31.5 0h0M85.5 329.68h0m15.5 0h0m34 0h0m13.5 0h0m68.5 0h0m21.5 0h0m40 0h0m18.5 0h0m10 0h0m6 0h0m4 0h0m16.5 0h0m9.5 0h0m18.5 0h0m20.5 0h0m17 0h0m10.5 0h0m10.5 0h0m20 0h0m30 0h0m16.5 0h0m17 0h0m25 0h0m11.5 0h0m23 0h0M83 327.72h0m14.5 0h0m33 0h0m21.5 0h0m24 0h0m21 0h0m30.5 0h0m4.5 0h0m36.5 0h0m18 0h0m10 0h0m5 0h0m9.5 0h0m8 0h0m11 0h0m12.5 0h0m37.5 0h0m14.5 0h0m16.5 0h0m12 0h0m9 0h0m30.5 0h0m9.5 0h0m6 0h0m32.5 0h0m23 0h0m29 0h0M100 325.76h0m22.5 0h0m29 0h0m21.5 0h0m11.5 0h0m37 0h0m16.5 0h0m26.5 0h0m14 0h0m13 0h0m8 0h0m6 0h0m8.5 0h0m6.5 0h0m10 0h0m6.5 0h0m7 0h0m11 0h0m12.5 0h0m6.5 0h0m23 0h0m5.5 0h0m13 0h0m13.5 0h0m28.5 0h0m31.5 0h0m14.5 0h0m11.5 0h0m12 0h0m22 0h0m9 0h0M91.5 323.81h0m24 0h0m7 0h0m22.5 0h0m15.5 0h0m17 0h0m18 0h0m18 0h0m5 0h0m10.5 0h0m3.5 0h0m14 0h0m16 0h0m32 0h0m12.5 0h0m12.5 0h0m6.5 0h0m11.5 0h0m6.5 0h0m14.5 0h0m10 0h0m26 0h0m2.5 0h0m19 0h0m18 0h0m28 0h0m18 0h0m20 0h0m11.5 0h0m16.5 0h0m17.5 0h0m13 0h0m10 0h0M99 321.85h0m14.5 0h0m33.5 0h0m53 0h0m16.5 0h0m14.5 0h0m6.5 0h0m19.5 0h0m12.5 0h0m9 0h0m9.5 0h0m10 0h0m8 0h0m11 0h0m2 0h0m5 0h0m3 0h0m4 0h0m4.5 0h0m7.5 0h0m6 0h0m6.5 0h0m21.5 0h0m20 0h0m9.5 0h0m18 0h0m24.5 0h0m10 0h0m23.5 0h0m36 0h0m14 0h0m10 0h0m18 0h0M85.5 319.9h0m14 0h0m14.5 0h0m16.5 0h0m13 0h0m15 0h0m19.5 0h0m28.5 0h0m12.5 0h0m24 0h0m13 0h0m17.5 0h0m16 0h0m24.5 0h0m4.5 0h0m6.5 0h0m14 0h0m5 0h0m11 0h0m11.5 0h0m7 0h0m5.5 0h0m27.5 0h0m29 0h0m15 0h0m5 0h0m16 0h0m13.5 0h0m18 0h0m27 0h0m15 0h0m15 0h0M97.5 317.94h0m17.5 0h0m23 0h0m34.5 0h0m24.5 0h0m19 0h0m13.5 0h0m19 0h0m22 0h0m19.5 0h0m3.5 0h0m12.5 0h0m4.5 0h0m4 0h0m5 0h0m4 0h0m2 0h0m6.5 0h0m5 0h0m6.5 0h0m5 0h0m14 0h0m16 0h0m22.5 0h0m20.5 0h0m10.5 0h0m20 0h0m17 0h0m15 0h0m9 0h0m13 0h0m20.5 0h0m7.5 0h0m8.5 0h0m14.5 0h0M88.5 315.98h0m18.5 0h0m13 0h0m19.5 0h0m24 0h0m14.5 0h0m20.5 0h0m6 0h0m7 0h0m19 0h0m12 0h0m20.5 0h0m17 0h0m7.5 0h0m12.5 0h0m6 0h0m2.5 0h0m5 0h0m3 0h0m3 0h0m4.5 0h0m7 0h0m5 0h0m3.5 0h0m4 0h0m9 0h0m6 0h0m4 0h0m15 0h0m10 0h0m22 0h0m13 0h0m2 0h0m30.5 0h0m21.5 0h0m8.5 0h0m8.5 0h0m4.5 0h0m20.5 0h0m8 0h0m18 0h0m12.5 0h0M101.5 314.03h0m16.5 0h0m23 0h0m26.5 0h0m13 0h0m3.5 0h0m15 0h0m28 0h0m34.5 0h0m20.5 0h0m15 0h0m9 0h0m6 0h0m6 0h0m16.5 0h0m4 0h0m3.5 0h0m1.5 0h0m2.5 0h0m11 0h0m12.5 0h0m26.5 0h0m21 0h0m15 0h0m29 0h0m16 0h0m17 0h0m11.5 0h0m7 0h0m16.5 0h0m5.5 0h0m14 0h0m5.5 0h0M86.5 312.07h0m25.5 0h0m12 0h0m12 0h0m20.5 0h0m19 0h0m17.5 0h0m12 0h0m15 0h0m17.5 0h0m19 0h0m11 0h0m4 0h0m10 0h0m18 0h0m5.5 0h0m6 0h0m6.5 0h0m5.5 0h0m4 0h0m2.5 0h0m4.5 0h0m5 0h0m4.5 0h0m11 0h0m27 0h0m14.5 0h0m9 0h0m6 0h0m48 0h0m33.5 0h0m26.5 0h0m5.5 0h0m9.5 0h0m7 0h0m15 0h0M92.5 310.11h0m18 0h0m9 0h0m4.5 0h0m32 0h0m30.5 0h0m27.5 0h0m25.5 0h0m18 0h0m10.5 0h0m10.5 0h0m7.5 0h0m5 0h0m4 0h0m10 0h0m9 0h0m10 0h0m3.5 0h0m7 0h0m16 0h0m7.5 0h0m19 0h0m23.5 0h0m17 0h0m12.5 0h0m21.5 0h0m24.5 0h0m8.5 0h0m21 0h0m25.5 0h0m6 0h0m25.5 0h0M81.5 308.16h0m24.5 0h0m15 0h0m29 0h0m17.5 0h0m26.5 0h0m14.5 0h0m17 0h0m17.5 0h0m25.5 0h0m5.5 0h0m19 0h0m8 0h0m10.5 0h0m3.5 0h0m6 0h0m6.5 0h0m2.5 0h0m6 0h0m9 0h0m3 0h0m6 0h0m5.5 0h0m6 0h0m22.5 0h0m20.5 0h0m12.5 0h0m57 0h0m11.5 0h0m1.5 0h0m16 0h0m24 0h0m4.5 0h0m11.5 0h0m7.5 0h0m15 0h0M105 306.2h0m21 0h0m12.5 0h0m19.5 0h0m3 0h0m4 0h0m13.5 0h0m11.5 0h0m14.5 0h0m18.5 0h0m15.5 0h0m30 0h0m7.5 0h0m20.5 0h0m4 0h0m8 0h0m6.5 0h0m8.5 0h0m2 0h0m3 0h0m9.5 0h0m7 0h0m4 0h0m9 0h0m13.5 0h0m18 0h0m29.5 0h0m18.5 0h0m16.5 0h0m9.5 0h0m11.5 0h0m13.5 0h0m11 0h0m13 0h0m16 0h0m6 0h0m5.5 0h0m18 0h0M81 304.25h0m5.5 0h0m10 0h0m11 0h0m10 0h0m12.5 0h0m19 0h0m28 0h0m15.5 0h0m15 0h0m16 0h0m6.5 0h0m11.5 0h0m10.5 0h0m14.5 0h0m18.5 0h0m8.5 0h0m14 0h0m3.5 0h0m2 0h0m10 0h0m5 0h0m3 0h0m6.5 0h0m4 0h0m3 0h0m9 0h0m11 0h0m25 0h0m5.5 0h0m5.5 0h0m15 0h0m18.5 0h0m35 0h0m9.5 0h0m32.5 0h0m9 0h0m17 0h0m13.5 0h0m18.5 0h0M93.5 302.29h0m31.5 0h0m11 0h0m14.5 0h0m24.5 0h0m12 0h0m30 0h0m24.5 0h0m15.5 0h0m9.5 0h0m9.5 0h0m14.5 0h0m8 0h0m6.5 0h0m4.5 0h0m3.5 0h0m8.5 0h0m1 0h0m4.5 0h0m5 0h0m6 0h0m5 0h0m3 0h0m3.5 0h0m3.5 0h0m9 0h0m8 0h0m10 0h0m20 0h0m29.5 0h0m28 0h0m41 0h0m25.5 0h0m17 0h0m27 0h0M103 300.33h0m14 0h0m15 0h0m16 0h0m20.5 0h0m19.5 0h0m12.5 0h0m9 0h0m4 0h0m24 0h0m5 0h0m2 0h0m15 0h0m11.5 0h0m8.5 0h0m11.5 0h0m6 0h0m2 0h0m4.5 0h0m8.5 0h0m.5 0h0m3 0h0m1.5 0h0m6 0h0m2 0h0m4.5 0h0m1.5 0h0m6 0h0m3.5 0h0m3 0h0m2.5 0h0m17.5 0h0m23 0h0m34 0h0m10 0h0m10 0h0m10 0h0m22 0h0m5.5 0h0m17 0h0m39.5 0h0m12 0h0m14 0h0M84 298.38h0m20.5 0h0m11.5 0h0m18 0h0m14 0h0m22.5 0h0m30 0h0m18 0h0m5.5 0h0m21 0h0m29 0h0m5.5 0h0m4 0h0m7.5 0h0m12 0h0m3 0h0m7 0h0m5 0h0m6.5 0h0m9 0h0m4.5 0h0m2.5 0h0m6 0h0m7 0h0m5.5 0h0m10.5 0h0m7.5 0h0m6 0h0m8.5 0h0m11.5 0h0m10 0h0m5 0h0m17 0h0m15 0h0m12 0h0m32.5 0h0m16 0h0m13.5 0h0m9 0h0m28.5 0h0m5 0h0M95 296.42h0m27 0h0m9 0h0m4.5 0h0m16.5 0h0m11 0h0m30 0h0m22 0h0m26.5 0h0m6.5 0h0m13.5 0h0m9 0h0m23 0h0m4.5 0h0m6 0h0m3 0h0m3.5 0h0m4.5 0h0m5 0h0m1.5 0h0m2 0h0m7 0h0m4.5 0h0m4.5 0h0m2 0h0m9 0h0m9 0h0m10 0h0m6 0h0m14 0h0m20.5 0h0m4 0h0m27.5 0h0m23.5 0h0m13.5 0h0m17 0h0m17 0h0m10.5 0h0m6.5 0h0m19 0h0m11 0h0m7.5 0h0M91.5 294.46h0m27 0h0m15 0h0m10 0h0m15.5 0h0m17.5 0h0m14 0h0m13 0h0m8 0h0m8 0h0m10.5 0h0m20 0h0m7.5 0h0m1.5 0h0m4 0h0m5.5 0h0m8 0h0m11 0h0m6 0h0m5 0h0m7.5 0h0m4 0h0m2.5 0h0m3 0h0m6.5 0h0m2 0h0m2 0h0m4 0h0m1 0h0m3 0h0m3.5 0h0m6.5 0h0m5.5 0h0m7.5 0h0m3 0h0m6 0h0m6.5 0h0m18.5 0h0m13.5 0h0m9.5 0h0m17.5 0h0m20 0h0m29 0h0m16.5 0h0m32 0h0m8 0h0m8 0h0m3.5 0h0M92.5 292.51h0m40 0h0m10 0h0m11.5 0h0m10 0h0m13.5 0h0m12.5 0h0m21 0h0m10 0h0m15 0h0m20.5 0h0m11 0h0m5.5 0h0m8.5 0h0m3.5 0h0m5.5 0h0m6 0h0m3.5 0h0m7 0h0m4 0h0m2 0h0m1.5 0h0m4.5 0h0m2.5 0h0m3 0h0m2 0h0m2.5 0h0m2 0h0m2.5 0h0m6.5 0h0m2.5 0h0m6.5 0h0m11 0h0m14 0h0m7.5 0h0m6.5 0h0m13.5 0h0m29 0h0m6.5 0h0m20.5 0h0m6 0h0m15 0h0m36 0h0m9 0h0m10.5 0h0m27 0h0M85 290.55h0m19.5 0h0m15.5 0h0m9.5 0h0m16.5 0h0m21.5 0h0m23 0h0m30 0h0m15 0h0m9.5 0h0m14.5 0h0m21.5 0h0m12.5 0h0m10.5 0h0m2.5 0h0m2 0h0m2 0h0m6 0h0m6.5 0h0m2.5 0h0m4 0h0m5.5 0h0m2 0h0m4.5 0h0m5.5 0h0m9 0h0m15 0h0m15 0h0m11.5 0h0m24 0h0m17 0h0m10 0h0m19.5 0h0m29 0h0m22 0h0m22 0h0m10.5 0h0m11.5 0h0M82.5 288.59h0m13 0h0m9.5 0h0m9.5 0h0m15 0h0m24 0h0m9.5 0h0m22 0h0m35 0h0m19 0h0m29 0h0m13 0h0m7.5 0h0m5.5 0h0m6 0h0m1.5 0h0m6 0h0m2.5 0h0m1.5 0h0m5.5 0h0m6.5 0h0m4 0h0m5 0h0m2.5 0h0m4.5 0h0m4 0h0m1 0h0m6.5 0h0m4.5 0h0m8.5 0h0m3.5 0h0m12.5 0h0m10.5 0h0m7 0h0m6.5 0h0m3 0h0m42.5 0h0m7 0h0m8.5 0h0m14.5 0h0m19.5 0h0m9 0h0m6 0h0m30 0h0m6.5 0h0m10 0h0M93 286.64h0m17.5 0h0m8 0h0m11.5 0h0m11 0h0m3.5 0h0m14.5 0h0m19.5 0h0m2.5 0h0m18 0h0m13.5 0h0m15 0h0m31.5 0h0m18.5 0h0m14.5 0h0m7 0h0m2.5 0h0m7.5 0h0m1.5 0h0m3.5 0h0m3.5 0h0m7.5 0h0m5 0h0m3 0h0m3.5 0h0m3 0h0m5.5 0h0m2.5 0h0m8.5 0h0m6.5 0h0m4.5 0h0m6 0h0m19 0h0m8 0h0m22.5 0h0m13.5 0h0m16.5 0h0m14.5 0h0m16.5 0h0m13 0h0m9.5 0h0m11 0h0m26 0h0m14 0h0M85 284.68h0m25 0h0m16 0h0m18 0h0m13.5 0h0m8 0h0m30 0h0m11.5 0h0m4 0h0m10.5 0h0m22 0h0m16.5 0h0m5.5 0h0m9.5 0h0m13.5 0h0m5.5 0h0m9 0h0m1 0h0m4.5 0h0m1 0h0m2.5 0h0m3.5 0h0m5 0h0m2 0h0m2.5 0h0m4 0h0m2 0h0m2 0h0m.5 0h0m3.5 0h0m6 0h0m3 0h0m4.5 0h0m8.5 0h0m13 0h0m14.5 0h0m16.5 0h0m15 0h0m8 0h0m33 0h0m11 0h0m13.5 0h0m33 0h0m11.5 0h0m8.5 0h0m31 0h0M100 282.73h0m18.5 0h0m16.5 0h0m12 0h0m41.5 0h0m13 0h0m10.5 0h0m44.5 0h0m17.5 0h0m8 0h0m10.5 0h0m11 0h0m4.5 0h0m2 0h0m3.5 0h0m1.5 0h0m3 0h0m3.5 0h0m3.5 0h0m3.5 0h0m4 0h0m3.5 0h0m4 0h0m4.5 0h0m5 0h0m4.5 0h0m2 0h0m3 0h0m3 0h0m9 0h0m8.5 0h0m15.5 0h0m27.5 0h0m19.5 0h0m18 0h0m30.5 0h0m31 0h0m14.5 0h0m9 0h0M83 280.77h0m9.5 0h0m19 0h0m10 0h0m28.5 0h0m26.5 0h0m10.5 0h0m7.5 0h0m12 0h0m21 0h0m26 0h0m21.5 0h0m10.5 0h0m6.5 0h0m5 0h0m2.5 0h0m6.5 0h0m8 0h0m1.5 0h0m1.5 0h0m5 0h0m3.5 0h0m3.5 0h0m5.5 0h0m1 0h0m2.5 0h0m3 0h0m3 0h0m4.5 0h0m2.5 0h0m5.5 0h0m5.5 0h0m6 0h0m19.5 0h0m11 0h0m23.5 0h0m26.5 0h0m12.5 0h0m14.5 0h0m7.5 0h0m21.5 0h0m31 0h0m22.5 0h0M104 278.81h0m10.5 0h0m19.5 0h0m27.5 0h0m1 0h0m23.5 0h0m17.5 0h0m13.5 0h0m19 0h0m17.5 0h0m6 0h0m11.5 0h0m17 0h0m9 0h0m5 0h0m11 0h0m6 0h0m4 0h0m5 0h0m3 0h0m2 0h0m2 0h0m2.5 0h0m1 0h0m5.5 0h0m4.5 0h0m6.5 0h0m12.5 0h0m14.5 0h0m9 0h0m11.5 0h0m18.5 0h0m8 0h0m6.5 0h0m6.5 0h0m28 0h0m20 0h0m4 0h0m14 0h0m7.5 0h0m16 0h0m14 0h0m3 0h0m21 0h0M94 276.86h0m19.5 0h0m19 0h0m10.5 0h0m6.5 0h0m15 0h0m17.5 0h0m16.5 0h0m27.5 0h0m9 0h0m10.5 0h0m11 0h0m25 0h0m12 0h0m5.5 0h0m4 0h0m2.5 0h0m6 0h0m7 0h0m2.5 0h0m3 0h0m2.5 0h0m1 0h0m2.5 0h0m2 0h0m2.5 0h0m2 0h0m3.5 0h0m3.5 0h0m4 0h0m12.5 0h0m16 0h0m21.5 0h0m7.5 0h0m3.5 0h0m3 0h0m17 0h0m20.5 0h0m23.5 0h0m40 0h0m21.5 0h0m35 0h0M88 274.9h0m18 0h0m14 0h0m28.5 0h0m4.5 0h0m16.5 0h0m13 0h0m9 0h0m32 0h0m22 0h0m11.5 0h0m4 0h0m12 0h0m8 0h0m8.5 0h0m6 0h0m3.5 0h0m1.5 0h0m6.5 0h0m2.5 0h0m2.5 0h0m2.5 0h0m4 0h0m2 0h0m3 0h0m3.5 0h0m3 0h0m5 0h0m2 0h0m3.5 0h0m8.5 0h0m4 0h0m3.5 0h0m3.5 0h0m2 0h0m4.5 0h0m14 0h0m15 0h0m6.5 0h0m3 0h0m9 0h0m6 0h0m27.5 0h0m23.5 0h0m7.5 0h0m33.5 0h0m23 0h0m10 0h0m16.5 0h0m8 0h0M86.5 272.94h0m11 0h0m9 0h0m17.5 0h0m34.5 0h0m13.5 0h0m23 0h0m17.5 0h0m7.5 0h0m3.5 0h0m23 0h0m25.5 0h0m12 0h0m10.5 0h0m6 0h0m6 0h0m3.5 0h0m5 0h0m2.5 0h0m5 0h0m4 0h0m4 0h0m2 0h0m5 0h0m3 0h0m7.5 0h0m3 0h0m5 0h0m3.5 0h0m5.5 0h0m3.5 0h0m8 0h0m11 0h0m25 0h0m26.5 0h0m19 0h0m12 0h0m19.5 0h0m16 0h0m19.5 0h0m5 0h0m26.5 0h0m13.5 0h0M88.5 270.99h0m4 0h0m16.5 0h0m19 0h0m33.5 0h0m25.5 0h0m19 0h0m8 0h0m24 0h0m8 0h0m13 0h0m12.5 0h0m16.5 0h0m9 0h0m3 0h0m6 0h0m4 0h0m3.5 0h0m3.5 0h0m4 0h0m1 0h0m1 0h0m1.5 0h0m1.5 0h0m2.5 0h0m1 0h0m2.5 0h0m4 0h0m.5 0h0m3 0h0m4 0h0m2.5 0h0m1.5 0h0m1.5 0h0m7.5 0h0m8.5 0h0m5 0h0m3.5 0h0m8 0h0m5.5 0h0m13.5 0h0m17 0h0m19.5 0h0m20 0h0m2.5 0h0m26.5 0h0m20.5 0h0m7.5 0h0m6.5 0h0m25 0h0m20 0h0M93 269.03h0m8 0h0m9 0h0m16 0h0m9.5 0h0m22 0h0m13.5 0h0m12.5 0h0m7 0h0m4.5 0h0m30.5 0h0m6.5 0h0m11 0h0m14 0h0m9.5 0h0m9.5 0h0m4.5 0h0m4 0h0m4 0h0m5.5 0h0m5.5 0h0m7 0h0m3 0h0m2 0h0m8.5 0h0m4 0h0m2 0h0m3 0h0m4 0h0m1.5 0h0m2.5 0h0m4 0h0m3 0h0m1 0h0m1 0h0m5.5 0h0m2 0h0m3 0h0m6 0h0m5.5 0h0m3 0h0m16 0h0m12 0h0m9 0h0m22 0h0m22 0h0m21 0h0m20 0h0m16.5 0h0m15.5 0h0M80.5 267.08h0m17.5 0h0m22.5 0h0m10.5 0h0m12.5 0h0m30 0h0m24 0h0m30.5 0h0m11 0h0m8.5 0h0m5 0h0m12.5 0h0m14 0h0m16.5 0h0m3 0h0m7.5 0h0m2.5 0h0m2 0h0m1 0h0m3.5 0h0m2.5 0h0m2 0h0m4.5 0h0m8 0h0m1.5 0h0m6.5 0h0m3.5 0h0m2 0h0m4.5 0h0m4.5 0h0m4.5 0h0m5.5 0h0m12 0h0m22.5 0h0m20.5 0h0m8 0h0m14 0h0m12 0h0m13 0h0m2.5 0h0m5 0h0m25.5 0h0m25 0h0m12 0h0m21 0h0m5.5 0h0M83 265.12h0m7.5 0h0m36 0h0m19 0h0m37 0h0m17.5 0h0m17 0h0m21.5 0h0m9.5 0h0m13 0h0m4.5 0h0m4.5 0h0m8 0h0m8.5 0h0m7.5 0h0m9.5 0h0m2.5 0h0m2 0h0m4 0h0m4 0h0m4 0h0m3.5 0h0m4 0h0m7.5 0h0m.5 0h0m4 0h0m2 0h0m4.5 0h0m4 0h0m4 0h0m3.5 0h0m5.5 0h0m8.5 0h0m11 0h0m14 0h0m9.5 0h0m26.5 0h0m17.5 0h0m18 0h0m20.5 0h0m12.5 0h0m22 0h0m15.5 0h0M88.5 263.16h0m12.5 0h0m23.5 0h0m9 0h0m9 0h0m15.5 0h0m15.5 0h0m15.5 0h0m12.5 0h0m15 0h0m13.5 0h0m7 0h0m12.5 0h0m15 0h0m12.5 0h0m6.5 0h0m5.5 0h0m13 0h0m3.5 0h0m3 0h0m7.5 0h0m1.5 0h0m2 0h0m1 0h0m1.5 0h0m2 0h0m4 0h0m3 0h0m.5 0h0m3 0h0m3.5 0h0m1.5 0h0m3 0h0m5.5 0h0m3 0h0m1 0h0m9 0h0m21.5 0h0m9 0h0m14 0h0m22.5 0h0m11.5 0h0m8 0h0m14.5 0h0m19.5 0h0m8 0h0m15.5 0h0m28.5 0h0m11.5 0h0m16 0h0M81 261.21h0m17.5 0h0m12 0h0m13.5 0h0m27 0h0m12 0h0m20.5 0h0m28 0h0m23.5 0h0m5.5 0h0m6.5 0h0m15 0h0m9.5 0h0m14 0h0m7 0h0m2 0h0m3.5 0h0m4 0h0m3 0h0m3 0h0m1 0h0m1.5 0h0m2.5 0h0m.5 0h0m4 0h0m2.5 0h0m1 0h0m2.5 0h0m1 0h0m2.5 0h0m2 0h0m3.5 0h0m2.5 0h0m1 0h0m5.5 0h0m5.5 0h0m3.5 0h0m4 0h0m6.5 0h0m3.5 0h0m20.5 0h0m13 0h0m24.5 0h0m13 0h0m39.5 0h0m8.5 0h0m33.5 0h0m23 0h0m19.5 0h0M87 259.25h0m13.5 0h0m13.5 0h0m14 0h0m19.5 0h0m25.5 0h0m11.5 0h0m19.5 0h0m18 0h0m32 0h0m10.5 0h0m5.5 0h0m8 0h0m9.5 0h0m4.5 0h0m6.5 0h0m3.5 0h0m4.5 0h0m1 0h0m4.5 0h0m3.5 0h0m5.5 0h0m3 0h0m1 0h0m2.5 0h0m1.5 0h0m2 0h0m1 0h0m1.5 0h0m2.5 0h0m2 0h0m7 0h0m8.5 0h0m4.5 0h0m3.5 0h0m3 0h0m10.5 0h0m6.5 0h0m28.5 0h0m31 0h0m18.5 0h0m6 0h0m23.5 0h0m47.5 0h0m10 0h0m7 0h0M90.5 257.29h0m22.5 0h0m23.5 0h0m13 0h0m16.5 0h0m10 0h0m68.5 0h0m5 0h0m14.5 0h0m8 0h0m15 0h0m8 0h0m8 0h0m3 0h0m2 0h0m4 0h0m2.5 0h0m2.5 0h0m2 0h0m3.5 0h0m2 0h0m2.5 0h0m1 0h0m2 0h0m3 0h0m3.5 0h0m4 0h0m2 0h0m3 0h0m5 0h0m6 0h0m14.5 0h0m6 0h0m6 0h0m24.5 0h0m7.5 0h0m19 0h0m20.5 0h0m11 0h0m26 0h0m4 0h0m7.5 0h0m17 0h0m18 0h0m18 0h0m12.5 0h0M105 255.34h0m29 0h0m18 0h0m10 0h0m16.5 0h0m18.5 0h0m13 0h0m13 0h0m13 0h0m17.5 0h0m26.5 0h0m8 0h0m2.5 0h0m7.5 0h0m5.5 0h0m2.5 0h0m3 0h0m3.5 0h0m4.5 0h0m2 0h0m4 0h0m3.5 0h0m1.5 0h0m.5 0h0m2.5 0h0m2.5 0h0m3 0h0m4 0h0m1 0h0m6 0h0m3 0h0m4 0h0m5.5 0h0m10.5 0h0m3.5 0h0m4.5 0h0m11 0h0m9 0h0m6.5 0h0m10 0h0m12.5 0h0m9.5 0h0m20.5 0h0m25 0h0m20 0h0m9 0h0m38 0h0M80.5 253.38h0m25.5 0h0m18.5 0h0m5.5 0h0m42.5 0h0m17.5 0h0m15.5 0h0m5 0h0m23.5 0h0m7 0h0m21.5 0h0m11.5 0h0m6.5 0h0m7.5 0h0m6.5 0h0m2 0h0m3 0h0m2.5 0h0m1 0h0m5 0h0m3 0h0m2 0h0m2 0h0m1.5 0h0m1.5 0h0m2 0h0m4 0h0m1.5 0h0m6 0h0m2 0h0m3.5 0h0m3 0h0m4.5 0h0m3 0h0m7 0h0m5 0h0m3.5 0h0m8 0h0m15 0h0m21.5 0h0m14 0h0m5.5 0h0m12.5 0h0m7 0h0m14.5 0h0m14.5 0h0m17.5 0h0m18.5 0h0m14 0h0m19.5 0h0M86.5 251.43h0m18.5 0h0m15.5 0h0m23.5 0h0m14 0h0m8.5 0h0m16 0h0m7 0h0m8.5 0h0m27 0h0m26.5 0h0m14.5 0h0m15.5 0h0m3 0h0m5.5 0h0m3 0h0m3 0h0m3.5 0h0m3.5 0h0m3.5 0h0m4 0h0m2 0h0m3 0h0m4 0h0m.5 0h0m4 0h0m6 0h0m1 0h0m9.5 0h0m3 0h0m2.5 0h0m1.5 0h0m2 0h0m2.5 0h0m1 0h0m5 0h0m4.5 0h0m7 0h0m6.5 0h0m7.5 0h0m15.5 0h0m13 0h0m10 0h0m15.5 0h0m19 0h0m22 0h0m9 0h0m14.5 0h0m19.5 0h0m11 0h0m11 0h0m9 0h0m8 0h0M86.5 249.47h0m12 0h0m22 0h0m21 0h0m19.5 0h0m8.5 0h0m22.5 0h0m13 0h0m13 0h0m20.5 0h0m10 0h0m18 0h0m13 0h0m7.5 0h0m4 0h0m6.5 0h0m4 0h0m3.5 0h0m6 0h0m3.5 0h0m3 0h0m1.5 0h0m3 0h0m1 0h0m1.5 0h0m1.5 0h0m2 0h0m2 0h0m2.5 0h0m1.5 0h0m1.5 0h0m4 0h0m2 0h0m3 0h0m4 0h0m10.5 0h0m2 0h0m3.5 0h0m8 0h0m9 0h0m13 0h0m20 0h0m6.5 0h0m8 0h0m22 0h0m37.5 0h0m8.5 0h0m24.5 0h0m23.5 0h0m16.5 0h0M95.5 247.51h0m16.5 0h0m9.5 0h0m17.5 0h0m17.5 0h0m20 0h0m2 0h0m17 0h0m14 0h0m23 0h0m8.5 0h0m12.5 0h0m11.5 0h0m12.5 0h0m1.5 0h0m6 0h0m5 0h0m4 0h0m3 0h0m4.5 0h0m2.5 0h0m5 0h0m3 0h0m2 0h0m2 0h0m3.5 0h0m2 0h0m1 0h0m2 0h0m1 0h0m1.5 0h0m2 0h0m2.5 0h0m3.5 0h0m4.5 0h0m1.5 0h0m4.5 0h0m5 0h0m2 0h0m3 0h0m7 0h0m1.5 0h0m8.5 0h0m12.5 0h0m24 0h0m9.5 0h0m25 0h0m22.5 0h0m13 0h0m13.5 0h0m22.5 0h0m29 0h0m18.5 0h0M117 245.56h0m22 0h0m14.5 0h0m24.5 0h0m15.5 0h0m31 0h0m12.5 0h0m27 0h0m5.5 0h0m14.5 0h0m3.5 0h0m2 0h0m6 0h0m6 0h0m13 0h0m4.5 0h0m2 0h0m3 0h0m2 0h0m2 0h0m2 0h0m1.5 0h0m1 0h0m1.5 0h0m1.5 0h0m3 0h0m2 0h0m2.5 0h0m4 0h0m2.5 0h0m2.5 0h0m5.5 0h0m5 0h0m4.5 0h0m7.5 0h0m9 0h0m6.5 0h0m16.5 0h0m30 0h0m4 0h0m15 0h0m12 0h0m15 0h0m26 0h0m11.5 0h0m12 0h0m30.5 0h0m7 0h0M94.5 243.6h0m9 0h0m31 0h0m13.5 0h0m7.5 0h0m14 0h0m30.5 0h0m22 0h0m26.5 0h0m20.5 0h0m13.5 0h0m3 0h0m9.5 0h0m7.5 0h0m3 0h0m3 0h0m4.5 0h0m1 0h0m2 0h0m1.5 0h0m2 0h0m1 0h0m4 0h0m2.5 0h0m3 0h0m.5 0h0m2.5 0h0m2 0h0m3.5 0h0m2.5 0h0m3.5 0h0m4.5 0h0m2.5 0h0m2 0h0m2.5 0h0m4.5 0h0m4 0h0m17.5 0h0m15.5 0h0m10.5 0h0m9 0h0m11 0h0m8.5 0h0m7.5 0h0m13 0h0m18.5 0h0m5.5 0h0m5.5 0h0m20.5 0h0m23 0h0m15 0h0m17 0h0M95.5 241.64h0m25 0h0m21.5 0h0m16 0h0m10 0h0m11 0h0m9.5 0h0m20.5 0h0m23 0h0m9.5 0h0m12 0h0m14 0h0m6.5 0h0m8 0h0m12 0h0m2 0h0m4.5 0h0m4.5 0h0m2.5 0h0m8.5 0h0m2 0h0m3.5 0h0m1 0h0m2 0h0m4 0h0m4.5 0h0m2 0h0m1.5 0h0m2 0h0m3 0h0m1.5 0h0m2.5 0h0m3.5 0h0m2 0h0m3.5 0h0m3 0h0m2.5 0h0m3 0h0m3 0h0m6 0h0m12 0h0m12.5 0h0m5 0h0m5 0h0m9.5 0h0m14 0h0m9 0h0m8 0h0m14 0h0m16 0h0m7 0h0m7.5 0h0m17 0h0m20.5 0h0m18.5 0h0m8.5 0h0M86.5 239.69h0m12 0h0m5 0h0m10.5 0h0m31.5 0h0m31.5 0h0m28 0h0m16.5 0h0m16 0h0m11.5 0h0m8 0h0m20.5 0h0m8 0h0m4.5 0h0m5 0h0m4 0h0m1.5 0h0m2.5 0h0m5.5 0h0m3.5 0h0m4 0h0m6 0h0m1.5 0h0m3 0h0m3.5 0h0m3 0h0m2.5 0h0m3.5 0h0m3.5 0h0m1.5 0h0m6 0h0m3.5 0h0m5.5 0h0m1.5 0h0m4.5 0h0m5.5 0h0m9 0h0m7.5 0h0m5 0h0m10.5 0h0m15.5 0h0m24 0h0m19.5 0h0m24 0h0m23.5 0h0m30 0h0m19 0h0M81 237.73h0m26.5 0h0m26.5 0h0m26.5 0h0m9.5 0h0m13.5 0h0m17 0h0m34 0h0m19 0h0m3.5 0h0m7 0h0m15.5 0h0m6.5 0h0m9.5 0h0m2 0h0m2.5 0h0m2 0h0m2 0h0m5 0h0m1.5 0h0m2.5 0h0m4 0h0m3.5 0h0m5 0h0m1.5 0h0m2 0h0m1.5 0h0m2 0h0m2 0h0m3 0h0m1 0h0m4 0h0m2 0h0m3.5 0h0m1 0h0m13.5 0h0m14 0h0m14.5 0h0m11.5 0h0m25.5 0h0m20 0h0m14.5 0h0m16 0h0m22 0h0m17 0h0m19.5 0h0m9.5 0h0m20 0h0M80 235.77h0m18 0h0m15 0h0m33 0h0m16.5 0h0m15.5 0h0m32 0h0m13 0h0m28.5 0h0m11.5 0h0m8 0h0m9.5 0h0m7 0h0m5.5 0h0m2.5 0h0m3 0h0m2.5 0h0m1.5 0h0m1 0h0m2 0h0m2 0h0m4.5 0h0m2 0h0m2 0h0m1.5 0h0m2 0h0m2.5 0h0m4.5 0h0m1.5 0h0m3.5 0h0m2 0h0m3 0h0m2 0h0m2.5 0h0m2.5 0h0m3 0h0m4 0h0m5.5 0h0m2.5 0h0m21.5 0h0m11.5 0h0m39 0h0m3.5 0h0m23.5 0h0m22 0h0m4.5 0h0m13 0h0m25 0h0m33.5 0h0m3 0h0M81 233.82h0m6.5 0h0m13.5 0h0m7.5 0h0m13 0h0m16.5 0h0m17.5 0h0m10 0h0m26 0h0m26 0h0m17 0h0m14 0h0m14.5 0h0m17 0h0m5 0h0m6 0h0m9.5 0h0m5 0h0m2.5 0h0m3 0h0m1.5 0h0m1 0h0m4 0h0m2 0h0m2 0h0m2 0h0m2 0h0m2 0h0m5.5 0h0m3 0h0m1 0h0m6 0h0m2 0h0m1.5 0h0m5 0h0m2.5 0h0m3 0h0m6.5 0h0m7 0h0m5.5 0h0m18.5 0h0m24 0h0m11 0h0m42.5 0h0m44 0h0m12.5 0h0m20.5 0h0m5 0h0M86.5 231.86h0m21.5 0h0m19 0h0m20 0h0m20 0h0m7.5 0h0m15.5 0h0m13.5 0h0m22.5 0h0m14 0h0m15.5 0h0m14.5 0h0m9.5 0h0m4.5 0h0m4 0h0m8.5 0h0m4 0h0m4.5 0h0m4.5 0h0m3.5 0h0m2 0h0m3.5 0h0m2.5 0h0m4.5 0h0m2 0h0m6 0h0m3.5 0h0m5 0h0m2 0h0m6.5 0h0m2 0h0m4.5 0h0m2.5 0h0m2.5 0h0m7 0h0m20.5 0h0m12 0h0m2 0h0m3.5 0h0m15 0h0m17 0h0m16 0h0m20.5 0h0m32 0h0m8 0h0m35.5 0h0m11 0h0M85.5 229.91h0m33 0h0m9 0h0m29.5 0h0m10 0h0m11.5 0h0m17.5 0h0m15.5 0h0m13.5 0h0m22.5 0h0m15.5 0h0m9.5 0h0m14.5 0h0m8 0h0m2.5 0h0m4 0h0m4 0h0m4.5 0h0m1.5 0h0m4.5 0h0m4 0h0m1.5 0h0m1 0h0m2 0h0m.5 0h0m3 0h0m1.5 0h0m3 0h0m3.5 0h0m2 0h0m2 0h0m3.5 0h0m8 0h0m2.5 0h0m1.5 0h0m2 0h0m4 0h0m14 0h0m3.5 0h0m8.5 0h0m25 0h0m8.5 0h0m18.5 0h0m17.5 0h0m18 0h0m20.5 0h0m18.5 0h0m19.5 0h0m7 0h0m7.5 0h0M87.5 227.95h0m1.5 0h0m3 0h0m16.5 0h0m31.5 0h0m5.5 0h0m27.5 0h0m13.5 0h0m19.5 0h0m20.5 0h0m18 0h0m9.5 0h0m14 0h0m11 0h0m3.5 0h0m8.5 0h0m9 0h0m4 0h0m3.5 0h0m2.5 0h0m4.5 0h0m3 0h0m3 0h0m1 0h0m4 0h0m3 0h0m3 0h0m5 0h0m3.5 0h0m2.5 0h0m4.5 0h0m8 0h0m12.5 0h0m3 0h0m6 0h0m11 0h0m24.5 0h0m10.5 0h0m19 0h0m33 0h0m8 0h0m16 0h0m7.5 0h0m9 0h0m20 0h0m5.5 0h0m8.5 0h0m10 0h0M85 225.99h0m6.5 0h0m10 0h0m11 0h0m18.5 0h0m7 0h0m8.5 0h0m9.5 0h0m10 0h0m27 0h0m13.5 0h0m23 0h0m21.5 0h0m22.5 0h0m13.5 0h0m6.5 0h0m3.5 0h0m6 0h0m1 0h0m3 0h0m2 0h0m2.5 0h0m4 0h0m3 0h0m1.5 0h0m.5 0h0m3.5 0h0m4.5 0h0m3.5 0h0m2 0h0m5.5 0h0m1.5 0h0m4 0h0m4.5 0h0m3.5 0h0m8 0h0m14 0h0m14 0h0m11 0h0m25 0h0m20.5 0h0m12 0h0m20 0h0m12.5 0h0m23.5 0h0m8 0h0m14 0h0m9 0h0m13 0h0m14 0h0M87.5 224.04h0m10.5 0h0m18.5 0h0m2.5 0h0m19 0h0m11.5 0h0m19 0h0m13 0h0m28.5 0h0m1 0h0m14.5 0h0m17 0h0m11.5 0h0m7 0h0m6.5 0h0m7 0h0m5 0h0m3 0h0m4 0h0m10.5 0h0m3.5 0h0m3.5 0h0m2 0h0m7.5 0h0m3.5 0h0m2 0h0m2.5 0h0m2 0h0m.5 0h0m4.5 0h0m4.5 0h0m3.5 0h0m3.5 0h0m3 0h0m4 0h0m2.5 0h0m5.5 0h0m8 0h0m15.5 0h0m22 0h0m21 0h0m7 0h0m19 0h0m25 0h0m35.5 0h0m23.5 0h0M82 222.08h0m25.5 0h0m23.5 0h0m21 0h0m15 0h0m12.5 0h0m15 0h0m6.5 0h0m16 0h0m13.5 0h0m11.5 0h0m31.5 0h0m6.5 0h0m6.5 0h0m5.5 0h0m4 0h0m4 0h0m3.5 0h0m1 0h0m2 0h0m3.5 0h0m4 0h0m1.5 0h0m1.5 0h0m2 0h0m2 0h0m3.5 0h0m1 0h0m2.5 0h0m2 0h0m2 0h0m4 0h0m4 0h0m1 0h0m3 0h0m2 0h0m10.5 0h0m2.5 0h0m7.5 0h0m8.5 0h0m13 0h0m14.5 0h0m7 0h0m8 0h0m13.5 0h0m19.5 0h0m3.5 0h0m15 0h0m12 0h0m8.5 0h0m10.5 0h0m11 0h0m15.5 0h0m15 0h0M94 220.12h0m9.5 0h0m12 0h0m9.5 0h0m10 0h0m21 0h0m10.5 0h0m15 0h0m5.5 0h0m8 0h0m15.5 0h0m8.5 0h0m24.5 0h0m15.5 0h0m12 0h0m10.5 0h0m2 0h0m3.5 0h0m3 0h0m5 0h0m4.5 0h0m2 0h0m6 0h0m1.5 0h0m3 0h0m2.5 0h0m1 0h0m2.5 0h0m2.5 0h0m1.5 0h0m2 0h0m4.5 0h0m2.5 0h0m3 0h0m2.5 0h0m2 0h0m5.5 0h0m2 0h0m3.5 0h0m4.5 0h0m3 0h0m4.5 0h0m3 0h0m6 0h0m5 0h0m11 0h0m5.5 0h0m2.5 0h0m17.5 0h0m8 0h0m16.5 0h0m15.5 0h0m10 0h0m17.5 0h0m6 0h0m37 0h0m22 0h0m14.5 0h0M99 218.17h0m9.5 0h0m11.5 0h0m19.5 0h0m26.5 0h0m18.5 0h0m7.5 0h0m22 0h0m26 0h0m6.5 0h0m16 0h0m8 0h0m10.5 0h0m5.5 0h0m5 0h0m2.5 0h0m2 0h0m3.5 0h0m3 0h0m2.5 0h0m3.5 0h0m2.5 0h0m3 0h0m1.5 0h0m3 0h0m2 0h0m1 0h0m1.5 0h0m1.5 0h0m3 0h0m1.5 0h0m1 0h0m3.5 0h0m3 0h0m2 0h0m2.5 0h0m3.5 0h0m2.5 0h0m2 0h0m4.5 0h0m2.5 0h0m9 0h0m8 0h0m3.5 0h0m3.5 0h0m20.5 0h0m20 0h0m10 0h0m17 0h0m15 0h0m16.5 0h0m29.5 0h0m12.5 0h0m14.5 0h0m17 0h0m9 0h0M81.5 216.21h0m25 0h0m12.5 0h0m3.5 0h0m21 0h0m27.5 0h0m4.5 0h0m10.5 0h0m28 0h0m12.5 0h0m21.5 0h0m17 0h0m8 0h0m6 0h0m8.5 0h0m8.5 0h0m5 0h0m5 0h0m3 0h0m2.5 0h0m2.5 0h0m2.5 0h0m3.5 0h0m1.5 0h0m3.5 0h0m2.5 0h0m3 0h0m1.5 0h0m3.5 0h0m1.5 0h0m2.5 0h0m1 0h0m3.5 0h0m3.5 0h0m3 0h0m4.5 0h0m4.5 0h0m1.5 0h0m12 0h0m5.5 0h0m17.5 0h0m4.5 0h0m3.5 0h0m6.5 0h0m3 0h0m12.5 0h0m4 0h0m23.5 0h0m23.5 0h0m20 0h0m5.5 0h0m17.5 0h0m27.5 0h0m14.5 0h0m8.5 0h0M83.5 214.26h0m23 0h0m29 0h0m29 0h0m39 0h0m26 0h0m8.5 0h0m13.5 0h0m6.5 0h0m9.5 0h0m9 0h0m9 0h0m8 0h0m4.5 0h0m4.5 0h0m2 0h0m4.5 0h0m1 0h0m5 0h0m1.5 0h0m2 0h0m1 0h0m2 0h0m3 0h0m4.5 0h0m4 0h0m2 0h0m2.5 0h0m4 0h0m3 0h0m5 0h0m6 0h0m5 0h0m1.5 0h0m5.5 0h0m14 0h0m17 0h0m12.5 0h0m13.5 0h0m4.5 0h0m21 0h0m15.5 0h0m6 0h0m15 0h0m2.5 0h0m13 0h0m22 0h0m39 0h0M95 212.3h0m8 0h0m20 0h0m14.5 0h0m10.5 0h0m22 0h0m8.5 0h0m11 0h0m29.5 0h0m8 0h0m28.5 0h0m11 0h0m11 0h0m6 0h0m7.5 0h0m4.5 0h0m6.5 0h0m3 0h0m3 0h0m1.5 0h0m5 0h0m1 0h0m2 0h0m2 0h0m1.5 0h0m3 0h0m1.5 0h0m1 0h0m1.5 0h0m4.5 0h0m1 0h0m3.5 0h0m3.5 0h0m1 0h0m4.5 0h0m3 0h0m4.5 0h0m5.5 0h0m2 0h0m5 0h0m4 0h0m5 0h0m15.5 0h0m8 0h0m5.5 0h0m37 0h0m34.5 0h0m25 0h0m13 0h0m14 0h0m10.5 0h0m32.5 0h0M91 210.34h0m10 0h0m21 0h0m22 0h0m13.5 0h0m12.5 0h0m9 0h0m25.5 0h0m20.5 0h0m13 0h0m15.5 0h0m19 0h0m6.5 0h0m12 0h0m6 0h0m4.5 0h0m2 0h0m3.5 0h0m2.5 0h0m2 0h0m3 0h0m4.5 0h0m7 0h0m.5 0h0m1.5 0h0m2.5 0h0m2 0h0m2.5 0h0m2.5 0h0m2.5 0h0m2 0h0m3 0h0m2.5 0h0m6 0h0m1 0h0m5.5 0h0m3.5 0h0m10.5 0h0m15 0h0m20 0h0m18.5 0h0m9.5 0h0m39 0h0m6 0h0m19.5 0h0m14 0h0m13.5 0h0m26.5 0h0m13.5 0h0M95 208.39h0m40 0h0m33 0h0m31.5 0h0m13.5 0h0m5.5 0h0m11.5 0h0m11.5 0h0m12 0h0m11.5 0h0m20.5 0h0m4 0h0m12 0h0m3 0h0m2.5 0h0m4 0h0m2.5 0h0m3.5 0h0m3.5 0h0m1.5 0h0m2 0h0m1 0h0m.5 0h0m1.5 0h0m3.5 0h0m3 0h0m4.5 0h0m4.5 0h0m3.5 0h0m6 0h0m2 0h0m5.5 0h0m14 0h0m14 0h0m11.5 0h0m28.5 0h0m29 0h0m7.5 0h0m10 0h0m29 0h0m13.5 0h0m17.5 0h0m14 0h0m12 0h0M88 206.43h0m32 0h0m6.5 0h0m5 0h0m16.5 0h0m34 0h0m39.5 0h0m9 0h0m4.5 0h0m10.5 0h0m14.5 0h0m11 0h0m6.5 0h0m10 0h0m1.5 0h0m7 0h0m6.5 0h0m3 0h0m5 0h0m3.5 0h0m1.5 0h0m2 0h0m2 0h0m1 0h0m3 0h0m4 0h0m2 0h0m5 0h0m4 0h0m2 0h0m2.5 0h0m2 0h0m3 0h0m6 0h0m3 0h0m13 0h0m9.5 0h0m5.5 0h0m14.5 0h0m15 0h0m10.5 0h0m16 0h0m33.5 0h0m22.5 0h0m20.5 0h0m19.5 0h0m10 0h0m24 0h0M89.5 204.47h0m21.5 0h0m22 0h0m33 0h0m36 0h0m14.5 0h0m20.5 0h0m16 0h0m18 0h0m8.5 0h0m10 0h0m6 0h0m2.5 0h0m4.5 0h0m3 0h0m2.5 0h0m3 0h0m4 0h0m1 0h0m3.5 0h0m2.5 0h0m2 0h0m4 0h0m4 0h0m3 0h0m2 0h0m.5 0h0m4.5 0h0m1.5 0h0m3 0h0m3.5 0h0m5 0h0m5.5 0h0m5 0h0m15.5 0h0m14.5 0h0m6 0h0m11.5 0h0m28.5 0h0m29.5 0h0m7 0h0m21.5 0h0m14 0h0m12 0h0m18.5 0h0M83.5 202.52h0m49 0h0m22 0h0m27.5 0h0m6.5 0h0m24 0h0m16 0h0m2.5 0h0m28.5 0h0m8 0h0m10.5 0h0m3.5 0h0m8.5 0h0m2.5 0h0m5 0h0m9.5 0h0m2.5 0h0m2.5 0h0m6 0h0m2 0h0m.5 0h0m3.5 0h0m2.5 0h0m1.5 0h0m1 0h0m2.5 0h0m3.5 0h0m.5 0h0m5 0h0m5.5 0h0m2.5 0h0m8 0h0m13 0h0m27 0h0m11.5 0h0m20 0h0m27 0h0m20 0h0m9 0h0m17.5 0h0m19.5 0h0m3.5 0h0m45 0h0M90.5 200.56h0m25.5 0h0m15.5 0h0m9.5 0h0m13.5 0h0m21 0h0m30 0h0m18 0h0m8.5 0h0m19.5 0h0m18.5 0h0m9 0h0m7 0h0m9 0h0m2 0h0m6 0h0m4.5 0h0m3.5 0h0m2 0h0m6 0h0m2.5 0h0m1.5 0h0m2.5 0h0m4.5 0h0m1 0h0m2.5 0h0m3.5 0h0m1.5 0h0m9 0h0m3.5 0h0m2.5 0h0m5.5 0h0m5.5 0h0m14.5 0h0m20 0h0m22.5 0h0m6.5 0h0m21.5 0h0m24 0h0m24 0h0m7.5 0h0m18 0h0m17 0h0m12 0h0m7 0h0M99 198.6h0m12.5 0h0m30.5 0h0m27 0h0m35.5 0h0m41 0h0m23.5 0h0m8.5 0h0m8 0h0m4.5 0h0m11.5 0h0m4 0h0m4 0h0m4 0h0m3.5 0h0m5.5 0h0m1 0h0m3 0h0m1.5 0h0m1.5 0h0m3 0h0m3 0h0m1.5 0h0m2 0h0m4 0h0m4.5 0h0m3.5 0h0m7.5 0h0m9.5 0h0m16.5 0h0m9 0h0m10 0h0m42 0h0m25 0h0m29 0h0m10.5 0h0m37.5 0h0M82.5 196.65h0m14.5 0h0m42.5 0h0m13.5 0h0m39.5 0h0m9 0h0m16.5 0h0m15.5 0h0m17.5 0h0m13.5 0h0m8.5 0h0m12.5 0h0m9.5 0h0m2 0h0m4 0h0m3.5 0h0m3 0h0m3.5 0h0m2.5 0h0m1.5 0h0m1.5 0h0m3 0h0m4 0h0m1.5 0h0m2 0h0m3.5 0h0m4.5 0h0m3.5 0h0m3.5 0h0m2 0h0m8 0h0m6 0h0m6 0h0m10.5 0h0m15.5 0h0m18 0h0m23 0h0m29.5 0h0m37 0h0m31 0h0m20.5 0h0m17.5 0h0M116.5 194.69h0m45.5 0h0m40 0h0m20.5 0h0m21.5 0h0m22 0h0m15.5 0h0m3.5 0h0m12 0h0m4.5 0h0m5.5 0h0m4 0h0m5 0h0m3 0h0m3 0h0m2.5 0h0m3.5 0h0m6.5 0h0m7.5 0h0m3 0h0m1 0h0m4 0h0m4 0h0m9 0h0m10 0h0m13.5 0h0m10.5 0h0m17.5 0h0m28.5 0h0m46.5 0h0m21.5 0h0m29 0h0m16.5 0h0m10.5 0h0M102 192.74h0m21.5 0h0m23.5 0h0m12.5 0h0m15.5 0h0m12 0h0m22 0h0m22 0h0m23 0h0m9.5 0h0m16 0h0m9 0h0m4 0h0m3.5 0h0m6.5 0h0m7.5 0h0m6 0h0m2.5 0h0m4 0h0m2 0h0m2 0h0m1 0h0m7.5 0h0m3.5 0h0m4 0h0m3 0h0m4 0h0m6.5 0h0m6.5 0h0m11 0h0m7 0h0m5.5 0h0m14.5 0h0m41 0h0m68 0h0m6 0h0M79.5 190.78h0m42 0h0m16 0h0m42 0h0m23 0h0m35 0h0m12 0h0m19.5 0h0m12 0h0m7.5 0h0m8.5 0h0m6 0h0m6 0h0m4.5 0h0m2.5 0h0m1.5 0h0m3.5 0h0m1.5 0h0m4 0h0m1 0h0m3 0h0m3 0h0m2 0h0m4 0h0m2 0h0m6 0h0m2.5 0h0m4.5 0h0m2.5 0h0m8 0h0m17 0h0m12 0h0m16.5 0h0m12.5 0h0m23 0h0m28.5 0h0m21.5 0h0m31.5 0h0m16.5 0h0M84.5 188.82h0m17 0h0m22 0h0m40.5 0h0m37.5 0h0m10 0h0m19 0h0m11.5 0h0m12 0h0m24 0h0m17 0h0m7 0h0m3 0h0m2 0h0m2 0h0m1 0h0m1 0h0m7.5 0h0m2 0h0m3 0h0m3 0h0m2.5 0h0m2 0h0m5 0h0m3 0h0m3.5 0h0m6.5 0h0m4 0h0m3 0h0m9 0h0m7 0h0m28.5 0h0m39 0h0m8 0h0m31 0h0m26 0h0m60 0h0M99.5 186.87h0m12 0h0m55.5 0h0m22 0h0m43.5 0h0m45.5 0h0m8 0h0m8.5 0h0m11.5 0h0m4.5 0h0m2 0h0m3.5 0h0m2.5 0h0m2.5 0h0m4.5 0h0m1 0h0m2.5 0h0m4.5 0h0m3.5 0h0m7.5 0h0m9 0h0m19 0h0m20.5 0h0m18 0h0m22.5 0h0m33.5 0h0m17.5 0h0m40 0h0m42 0h0M114 184.91h0m35.5 0h0m30 0h0m49 0h0m33 0h0m16.5 0h0m11 0h0m10 0h0m8 0h0m3.5 0h0m10.5 0h0m5.5 0h0m2.5 0h0m8.5 0h0m2.5 0h0m2.5 0h0m4 0h0m31 0h0m26.5 0h0m23.5 0h0m12.5 0h0m16 0h0m38 0h0m22.5 0h0m47.5 0h0M95 182.95h0m39 0h0m19 0h0m45 0h0m36 0h0m39.5 0h0m6 0h0m16.5 0h0m5 0h0m4.5 0h0m3 0h0m4.5 0h0m5 0h0m4 0h0m4.5 0h0m2.5 0h0m7 0h0m3.5 0h0m1.5 0h0m3.5 0h0m3.5 0h0m6 0h0m5.5 0h0m6 0h0m20.5 0h0m60 0h0m50.5 0h0m13 0h0m37.5 0h0M92.5 181h0m45 0h0m32.5 0h0m45.5 0h0m26.5 0h0m26.5 0h0m15 0h0m11.5 0h0m10 0h0m8 0h0m1.5 0h0m1 0h0m3.5 0h0m2.5 0h0m5.5 0h0m3 0h0m2.5 0h0m3.5 0h0m.5 0h0m8.5 0h0m4 0h0m4 0h0m4.5 0h0m4.5 0h0m12.5 0h0m3 0h0m8.5 0h0m16 0h0m58.5 0h0m32 0h0m57.5 0h0M79.5 179.04h0m34.5 0h0m62.5 0h0m37 0h0m35 0h0m21 0h0m10 0h0m13 0h0m6 0h0m6.5 0h0m4 0h0m5.5 0h0m4.5 0h0m5 0h0m6 0h0m4 0h0m6 0h0m7.5 0h0m4.5 0h0m5 0h0m23.5 0h0m46.5 0h0m4.5 0h0m16 0h0m34.5 0h0M80.5 177.09h0m38.5 0h0m72 0h0m23 0h0m29 0h0m25.5 0h0m19.5 0h0m5.5 0h0m8 0h0m6.5 0h0m9 0h0m7 0h0m6 0h0m3.5 0h0m2.5 0h0m11.5 0h0m6.5 0h0m14 0h0m6 0h0m42 0h0m32 0h0m51.5 0h0m44.5 0h0m26 0h0M101 175.13h0m70.5 0h0m63.5 0h0m33 0h0m21.5 0h0m14 0h0m7 0h0m5 0h0m4.5 0h0m3 0h0m2 0h0m3.5 0h0m3 0h0m8 0h0m7 0h0m4 0h0m5 0h0m11 0h0m23 0h0m28.5 0h0m89 0h0m22 0h0m28 0h0M87.5 173.17h0m44.5 0h0m26 0h0m64 0h0m43.5 0h0m9.5 0h0m24.5 0h0m4.5 0h0m5 0h0m4 0h0m3.5 0h0m4 0h0m3 0h0m4 0h0m10.5 0h0m6 0h0m21 0h0m8 0h0m39.5 0h0m9.5 0h0m59 0h0m22 0h0m25 0h0M112 171.22h0m168 0h0m9 0h0m14 0h0m3.5 0h0m6 0h0m6.5 0h0m4 0h0m5 0h0m6 0h0m7.5 0h0m5 0h0m6 0h0m6.5 0h0m26.5 0h0m34.5 0h0m32.5 0h0m95.5 0h0M99 169.26h0m33.5 0h0m55 0h0m30 0h0m40.5 0h0m31.5 0h0m14 0h0m7 0h0m5.5 0h0m6 0h0m9.5 0h0m1.5 0h0m3 0h0m6.5 0h0m2.5 0h0m13 0h0m18.5 0h0m71.5 0h0m28.5 0h0m73.5 0h0m20.5 0h0M147 167.3h0m90.5 0h0m30.5 0h0m12.5 0h0m7.5 0h0m4 0h0m10.5 0h0m15.5 0h0m6 0h0m6.5 0h0m4 0h0m12.5 0h0m3.5 0h0m14.5 0h0m9.5 0h0m36 0h0m62 0h0m40.5 0h0M84 165.35h0m60 0h0m120 0h0m20.5 0h0m11 0h0m4 0h0m12.5 0h0m4.5 0h0m3.5 0h0m3.5 0h0m8.5 0h0m1.5 0h0m5 0h0m7.5 0h0m1.5 0h0m11.5 0h0m7 0h0m13.5 0h0m13 0h0m18.5 0h0m130.5 0h0M120.5 163.39h0m50.5 0h0m32.5 0h0m45 0h0m25 0h0m19 0h0m12 0h0m8.5 0h0m7.5 0h0m2.5 0h0m6 0h0m2.5 0h0m2 0h0m4.5 0h0m2.5 0h0m18 0h0m67.5 0h0m72.5 0h0M112.5 161.44h0m62 0h0m42 0h0m63 0h0m19.5 0h0m6.5 0h0m12 0h0m5 0h0m3 0h0m5.5 0h0m11.5 0h0m6.5 0h0m12 0h0m13.5 0h0m89 0h0m33.5 0h0m70.5 0h0M163.5 159.48h0m71.5 0h0m6 0h0m50.5 0h0m4 0h0m6 0h0m4 0h0m4 0h0m4.5 0h0m7.5 0h0m3.5 0h0m2.5 0h0m10.5 0h0m9 0h0m3.5 0h0m10 0h0m45 0h0m72.5 0h0m34 0h0M121.5 157.52h0m122.5 0h0m31.5 0h0m12.5 0h0m12.5 0h0m9 0h0m4.5 0h0m6.5 0h0m4.5 0h0m10 0h0m7 0h0m14.5 0h0m8 0h0m49.5 0h0m45.5 0h0m55.5 0h0m49.5 0h0M166.5 155.57h0m98 0h0m34 0h0m11 0h0m1 0h0m7 0h0m5 0h0m4.5 0h0m5 0h0m7 0h0m4 0h0m10.5 0h0m52 0h0m149.5 0h0M112 153.61h0m82.5 0h0m72 0h0m28.5 0h0m9.5 0h0m6 0h0m15 0h0m2.5 0h0m3.5 0h0m14 0h0m8.5 0h0m70 0h0M87 151.65h0m103 0h0m83 0h0m24 0h0m9 0h0m9 0h0m7 0h0m7 0h0m3.5 0h0m3 0h0m4 0h0m10 0h0m9 0h0m35 0h0m84.5 0h0m63 0h0M220.5 149.7h0m74 0h0m18.5 0h0m6 0h0m7.5 0h0m21.5 0h0m19.5 0h0m61 0h0M98 147.74h0m92 0h0m107.5 0h0m4.5 0h0m7.5 0h0m7.5 0h0m13 0h0m12.5 0h0m11 0h0m22.5 0h0m145 0h0M89.5 145.78h0m128.5 0h0m31.5 0h0m39 0h0m21 0h0m9.5 0h0m9.5 0h0m10 0h0m8.5 0h0m25.5 0h0m20 0h0m18 0h0m158.5 0h0M206 143.83h0m74.5 0h0m16.5 0h0m10.5 0h0m10 0h0m5 0h0m21.5 0h0m71 0h0m125.5 0h0M186.5 141.87h0m86.5 0h0m9 0h0m27.5 0h0m22.5 0h0m6.5 0h0m11 0h0m15.5 0h0M124 139.92h0m101 0h0m39 0h0m47.5 0h0m7 0h0m5.5 0h0m8.5 0h0m3.5 0h0m13 0h0m69.5 0h0M196.5 137.96h0m101.5 0h0m11 0h0m8.5 0h0m11.5 0h0m18.5 0h0m14 0h0m43.5 0h0M249 136h0m64 0h0m11.5 0h0m15 0h0m5.5 0h0m31 0h0M137 134.05h0m157 0h0m23 0h0m15 0h0m17.5 0h0m7.5 0h0m32 0h0M233 132.09h0m37.5 0h0m37 0h0m11 0h0m10 0h0m33.5 0h0M81.5 130.13h0m215 0h0m25.5 0h0m17 0h0m28.5 0h0M134 128.18h0m159.5 0h0m21 0h0m5.5 0h0m64.5 0h0m133.5 0h0M292.5 126.22h0m10 0h0m28.5 0h0m10 0h0m55.5 0h0M132 124.27h0m168 0h0m22 0h0m15 0h0M151.5 122.31h0m127 0h0m60.5 0h0M187 120.35h0m106 0h0m38 0h0m9 0h0m38 0h0M210.5 118.4h0m108.5 0h0m71 0h0M301 116.44h0m24 0h0M270.5 114.48h0m42 0h0m38 0h0M355 112.53h0M161.5 110.57h0m161.5 0h0m17.5 0h0m181 0h0M314.5 108.62h0m9 0h0m34.5 0h0M315.5 106.66h0m98 0h0M312.5 104.7h0M194 102.75h0m88.5 0h0m34.5 0h0M327.5 100.79h0M249 98.83h0m72 0h0m224 0h0M422.5 96.88h0M319 94.92h0M330.5 92.96h0M326.5 91.01h0M324.5 89.05h0M305.5 87.1h0m61 0h0M338.5 85.14h0M337.5 83.18h0M509 81.23h0M230 77.31h0M150.5 73.4h0"/></g>
<path d="M276.25 580.24V47.81" stroke="#006400" stroke-width="2.25" stroke-dasharray="9 9" stroke-linecap="round" fill="none"/>
<path d="M374.75 580.24V47.81" stroke="#006400" stroke-width="2.25" stroke-dasharray="9 9" stroke-linecap="round" fill="none"/>
<path d="M59.76 364.89H592.19" stroke="#CD0000" stroke-width="2.25" stroke-dasharray="9 9" stroke-linecap="round" fill="none"/>
</g>
<g filter="url(#noop)"><rect x="59.76" y="47.81" width="532.43" height="532.43" fill="none" stroke="#000" stroke-width=".75"/>
<path d="M125.50 580.24H525.50M125.50 580.24v5.98M225.50 580.24v5.98M325.50 580.24v5.98M425.50 580.24v5.98M525.50 580.24v5.98M59.76 548.78V59.71M59.76 548.78h-5.98M59.76 450.97h-5.98M59.76 353.15h-5.98M59.76 255.34h-5.98M59.76 157.52h-5.98M59.76 59.71h-5.98" fill="none" stroke="#000" stroke-width=".75"/>
<g font-size="10.6" text-anchor="middle">
<text x="125.50" y="601.75">-400</text>
<text x="225.50" y="601.75">-200</text>
<text x="325.50" y="601.75">0</text>
<text x="425.50" y="601.75">200</text>
<text x="525.50" y="601.75">400</text>
<text transform="translate(45.42 548.78) rotate(-90)">75</text>
<text transform="translate(45.42 450.97) rotate(-90)">80</text>
<text transform="translate(45.42 353.15) rotate(-90)">85</text>
<text transform="translate(45.42 255.34) rotate(-90)">90</text>
<text transform="translate(45.42 157.52) rotate(-90)">95</text>
<text transform="translate(45.42 59.71) rotate(-90)">100</text>
</g>
<g font-size="15.94" text-anchor="middle">
<text x="325.98" y="625.66">Distance to peak summit</text>
<text transform="translate(21.51 314.02) rotate(-90)">Motif score</text>
</g>
<text x="323.10" y="31.80" font-size="21.45" font-weight="bold" text-anchor="middle">Top hit for each peak</text></g>
</g>
<g id="p2">
<g clip-path="url(#c2)"><g filter="url(#heat)" fill="none" stroke-width="8.92"><rect x="666.5" y="14.5" width="599.0" height="599.0" fill="#000"/>
<path d="M940.7 43.7h58.8M766 52h17.2M832.6 52h33.9M932.4 52h17.2M990.6 52h17.2M1082.1 52h50.5M1148.7 52h17.2M757.7 60.3h25.6M832.6 60.3h42.2M915.8 60.3h25.6M1007.3 60.3h17.2M1057.2 60.3h158.7M707.8 68.6h58.8M840.9 68.6h17.2M899.1 68.6h25.6M1023.9 68.6h100.4M1140.4 68.6h92.1M699.5 76.9h25.6M732.7 76.9h33.9M807.6 76.9h100.4M1032.2 76.9h75.5M1173.7 76.9h33.9M1215.3 76.9h25.6M691.1 85.2h67.2M782.7 85.2h33.9M840.9 85.2h50.5M1040.5 85.2h67.2M1173.7 85.2h67.2M691.1 93.6h108.7M857.5 93.6h25.6M1048.9 93.6h83.8M1165.3 93.6h83.8M707.8 101.9h33.9M865.8 101.9h8.9M1057.2 101.9h50.5M1132.1 101.9h83.8M1231.9 101.9h17.2M691.1 110.2h33.9M1157 110.2h58.8M1231.9 110.2h17.2M682.8 118.5h17.2M1173.7 118.5h17.2M1231.9 118.5h17.2M682.8 126.8h8.9M1240.2 126.8h17.2M674.5 135.2h17.2M1248.5 135.2h8.9M674.5 143.5h8.9M1248.5 143.5h8.9M674.5 151.8h8.9M1256.8 151.8h8.9M674.5 160.1h8.9M1256.8 160.1h8.9M666.2 168.4h8.9M1256.8 168.4h8.9M666.2 176.8h8.9M1256.8 176.8h8.9M666.2 185.1h8.9M1256.8 185.1h8.9M666.2 193.4h8.9M1256.8 193.4h8.9M666.2 201.7h8.9M1256.8 201.7h8.9M666.2 210h8.9M1256.8 210h8.9M1256.8 218.4h8.9M1256.8 226.7h8.9M666.2 235h8.9M1256.8 235h8.9M666.2 243.3h8.9M1256.8 243.3h8.9M666.2 251.6h8.9M1256.8 251.6h8.9M1256.8 260h8.9M1256.8 268.3h8.9M666.2 276.6h8.9M1256.8 276.6h8.9M666.2 284.9h8.9M1256.8 284.9h8.9M666.2 293.2h8.9M1256.8 293.2h8.9M666.2 301.5h8.9M1256.8 301.5h8.9M666.2 309.9h8.9M1256.8 309.9h8.9M666.2 318.2h8.9M1256.8 318.2h8.9M666.2 326.5h8.9M1256.8 326.5h8.9M666.2 334.8h8.9M1256.8 334.8h8.9M666.2 343.1h8.9M1256.8 343.1h8.9M666.2 351.5h8.9M1256.8 351.5h8.9M666.2 359.8h8.9M1256.8 359.8h8.9M666.2 368.1h8.9M1256.8 368.1h8.9M666.2 376.4h8.9M1256.8 376.4h8.9M666.2 384.7h8.9M1248.5 384.7h8.9M674.5 393.1h8.9M1248.5 393.1h8.9M674.5 401.4h8.9M1248.5 401.4h17.2M674.5 409.7h17.2M1248.5 409.7h17.2M682.8 418h8.9M1248.5 418h8.9M682.8 426.3h17.2M1240.2 426.3h8.9M691.1 434.7h17.2M1123.7 434.7h17.2M1231.9 434.7h8.9M699.5 443h17.2M741.1 443h8.9M865.8 443h25.6M1107.1 443h50.5M1223.6 443h17.2M707.8 451.3h83.8M857.5 451.3h50.5M957.4 451.3h75.5M1073.8 451.3h33.9M1132.1 451.3h25.6M1215.3 451.3h17.2M707.8 459.6h42.2M757.7 459.6h42.2M840.9 459.6h33.9M882.5 459.6h33.9M940.7 459.6h25.6M1007.3 459.6h67.2M1140.4 459.6h25.6M1215.3 459.6h17.2M707.8 467.9h8.9M774.3 467.9h83.8M899.1 467.9h50.5M1007.3 467.9h50.5M1157 467.9h25.6M1215.3 467.9h17.2M699.5 476.2h17.2M1173.7 476.2h58.8M1198.6 484.6h25.6M915.8 492.9h8.9M1065.5 492.9h17.2M1148.7 492.9h8.9M1198.6 492.9h17.2M699.5 501.2h17.2M890.8 517.8h8.9M1132.1 517.8h8.9M1057.2 534.5h17.2" stroke="#010101"/>
<path d="M949 52h42.2M940.7 60.3h8.9M990.6 60.3h17.2M924.1 68.6h8.9M1007.3 68.6h17.2M724.4 76.9h8.9M907.4 76.9h8.9M1015.6 76.9h17.2M1206.9 76.9h8.9M815.9 85.2h25.6M890.8 85.2h8.9M1023.9 85.2h17.2M799.3 93.6h58.8M882.5 93.6h17.2M1032.2 93.6h17.2M741.1 101.9h83.8M832.6 101.9h33.9M874.2 101.9h17.2M1040.5 101.9h17.2M1107.1 101.9h25.6M1215.3 101.9h17.2M724.4 110.2h17.2M824.2 110.2h42.2M1048.9 110.2h58.8M1140.4 110.2h17.2M1215.3 110.2h17.2M699.5 118.5h33.9M1082.1 118.5h17.2M1157 118.5h17.2M1190.3 118.5h42.2M691.1 126.8h8.9M1231.9 126.8h8.9M1240.2 135.2h8.9M682.8 143.5h8.9M682.8 151.8h8.9M1248.5 151.8h8.9M1248.5 160.1h8.9M674.5 168.4h8.9M1248.5 168.4h8.9M1248.5 176.8h8.9M666.2 218.4h8.9M666.2 226.7h8.9M666.2 260h8.9M666.2 268.3h8.9M1248.5 351.5h8.9M1248.5 359.8h8.9M674.5 368.1h8.9M674.5 376.4h8.9M1248.5 376.4h8.9M674.5 384.7h8.9M682.8 401.4h8.9M691.1 418h8.9M1240.2 418h8.9M699.5 426.3h8.9M1123.7 426.3h25.6M1223.6 426.3h17.2M707.8 434.7h50.5M932.4 434.7h17.2M1107.1 434.7h17.2M1140.4 434.7h25.6M1215.3 434.7h17.2M716.1 443h25.6M749.4 443h58.8M849.2 443h17.2M890.8 443h150.3M1090.5 443h17.2M1157 443h17.2M1206.9 443h17.2M791 451.3h25.6M832.6 451.3h25.6M907.4 451.3h50.5M1032.2 451.3h42.2M1157 451.3h58.8M799.3 459.6h42.2M915.8 459.6h25.6M1165.3 459.6h50.5M1182 467.9h33.9" stroke="#020202"/>
<path d="M949 60.3h17.2M982.3 60.3h8.9M932.4 68.6h8.9M999 68.6h8.9M915.8 76.9h8.9M1007.3 76.9h8.9M899.1 85.2h8.9M1015.6 85.2h8.9M1023.9 93.6h8.9M824.2 101.9h8.9M890.8 101.9h8.9M741.1 110.2h8.9M766 110.2h58.8M865.8 110.2h25.6M1107.1 110.2h33.9M732.7 118.5h8.9M815.9 118.5h33.9M1057.2 118.5h25.6M1098.8 118.5h17.2M1140.4 118.5h17.2M699.5 126.8h8.9M1148.7 126.8h33.9M1206.9 126.8h25.6M691.1 135.2h8.9M1231.9 135.2h8.9M691.1 143.5h8.9M1240.2 143.5h8.9M682.8 160.1h8.9M674.5 176.8h8.9M674.5 185.1h8.9M1248.5 185.1h8.9M1248.5 235h8.9M1248.5 243.3h8.9M1248.5 251.6h8.9M1248.5 260h8.9M1248.5 284.9h8.9M1248.5 293.2h8.9M1248.5 309.9h8.9M674.5 318.2h8.9M1248.5 318.2h8.9M674.5 326.5h8.9M1248.5 326.5h8.9M674.5 334.8h8.9M1248.5 334.8h8.9M674.5 343.1h8.9M1248.5 343.1h8.9M674.5 351.5h8.9M674.5 359.8h8.9M1248.5 368.1h8.9M1240.2 384.7h8.9M682.8 393.1h8.9M1240.2 393.1h8.9M1240.2 401.4h8.9M691.1 409.7h8.9M1240.2 409.7h8.9M1231.9 418h8.9M1015.6 426.3h8.9M1115.4 426.3h8.9M1148.7 426.3h8.9M1215.3 426.3h8.9M757.7 434.7h58.8M857.5 434.7h75.5M949 434.7h100.4M1098.8 434.7h8.9M1165.3 434.7h25.6M1198.6 434.7h17.2M807.6 443h42.2M1040.5 443h50.5M1173.7 443h33.9M815.9 451.3h17.2" stroke="#030303"/>
<path d="M965.7 60.3h17.2M940.7 68.6h8.9M990.6 68.6h8.9M924.1 76.9h8.9M999 76.9h8.9M907.4 85.2h8.9M899.1 93.6h8.9M1032.2 101.9h8.9M749.4 110.2h17.2M890.8 110.2h8.9M1040.5 110.2h8.9M741.1 118.5h8.9M774.3 118.5h42.2M849.2 118.5h42.2M1048.9 118.5h8.9M1115.4 118.5h25.6M707.8 126.8h25.6M1065.5 126.8h83.8M1182 126.8h25.6M699.5 135.2h8.9M691.1 151.8h8.9M1240.2 151.8h8.9M1240.2 160.1h8.9M674.5 193.4h8.9M1248.5 193.4h8.9M674.5 201.7h8.9M1248.5 201.7h8.9M674.5 210h8.9M1248.5 210h8.9M1248.5 218.4h8.9M1248.5 226.7h8.9M674.5 235h8.9M674.5 243.3h8.9M674.5 251.6h8.9M1248.5 268.3h8.9M674.5 276.6h8.9M1248.5 276.6h8.9M674.5 284.9h8.9M674.5 293.2h8.9M674.5 301.5h8.9M1248.5 301.5h8.9M674.5 309.9h8.9M682.8 376.4h8.9M682.8 384.7h8.9M691.1 401.4h8.9M699.5 418h8.9M1023.9 418h8.9M1123.7 418h25.6M707.8 426.3h17.2M732.7 426.3h50.5M874.2 426.3h100.4M990.6 426.3h25.6M1023.9 426.3h25.6M1107.1 426.3h8.9M1157 426.3h17.2M1198.6 426.3h17.2M815.9 434.7h42.2M1048.9 434.7h8.9M1090.5 434.7h8.9M1190.3 434.7h8.9" stroke="#040404"/>
<path d="M949 68.6h17.2M982.3 68.6h8.9M932.4 76.9h8.9M990.6 76.9h8.9M915.8 85.2h8.9M1007.3 85.2h8.9M907.4 93.6h8.9M1015.6 93.6h8.9M899.1 101.9h8.9M1023.9 101.9h8.9M899.1 110.2h8.9M1032.2 110.2h8.9M749.4 118.5h25.6M890.8 118.5h8.9M1040.5 118.5h8.9M732.7 126.8h17.2M815.9 126.8h33.9M865.8 126.8h25.6M1057.2 126.8h8.9M1140.4 135.2h25.6M1223.6 135.2h8.9M699.5 143.5h8.9M1231.9 143.5h8.9M682.8 168.4h8.9M1240.2 168.4h8.9M674.5 218.4h8.9M674.5 226.7h8.9M674.5 260h8.9M674.5 268.3h8.9M682.8 368.1h8.9M1240.2 376.4h8.9M1231.9 393.1h8.9M699.5 409.7h8.9M1231.9 409.7h8.9M707.8 418h8.9M874.2 418h33.9M957.4 418h25.6M1007.3 418h17.2M1032.2 418h17.2M1115.4 418h8.9M1148.7 418h8.9M1223.6 418h8.9M724.4 426.3h8.9M782.7 426.3h17.2M857.5 426.3h17.2M974 426.3h17.2M1048.9 426.3h8.9M1098.8 426.3h8.9M1173.7 426.3h25.6M1057.2 434.7h33.9" stroke="#050505"/>
<path d="M965.7 68.6h17.2M940.7 76.9h8.9M924.1 85.2h8.9M907.4 101.9h8.9M1032.2 118.5h8.9M749.4 126.8h67.2M849.2 126.8h17.2M1048.9 126.8h8.9M707.8 135.2h17.2M824.2 135.2h17.2M865.8 135.2h17.2M1073.8 135.2h67.2M1165.3 135.2h17.2M1206.9 135.2h17.2M691.1 160.1h8.9M682.8 176.8h8.9M1240.2 176.8h8.9M1240.2 343.1h8.9M1240.2 351.5h8.9M1240.2 359.8h8.9M1240.2 368.1h8.9M1231.9 384.7h8.9M691.1 393.1h8.9M699.5 401.4h8.9M1231.9 401.4h8.9M707.8 409.7h8.9M965.7 409.7h17.2M741.1 418h42.2M865.8 418h8.9M907.4 418h8.9M949 418h8.9M982.3 418h25.6M1048.9 418h8.9M1157 418h8.9M1215.3 418h8.9M799.3 426.3h58.8M1057.2 426.3h17.2M1090.5 426.3h8.9" stroke="#060606"/>
<path d="M949 76.9h8.9M982.3 76.9h8.9M999 85.2h8.9M915.8 93.6h8.9M1007.3 93.6h8.9M1015.6 101.9h8.9M1023.9 110.2h8.9M899.1 118.5h8.9M890.8 126.8h8.9M1040.5 126.8h8.9M724.4 135.2h100.4M840.9 135.2h25.6M882.5 135.2h8.9M1065.5 135.2h8.9M1182 135.2h25.6M707.8 143.5h8.9M699.5 151.8h8.9M1231.9 151.8h8.9M682.8 185.1h8.9M1240.2 185.1h8.9M1240.2 251.6h8.9M682.8 334.8h8.9M682.8 343.1h8.9M682.8 359.8h8.9M691.1 376.4h8.9M691.1 384.7h8.9M865.8 409.7h33.9M957.4 409.7h8.9M982.3 409.7h8.9M1015.6 409.7h25.6M1132.1 409.7h25.6M1223.6 409.7h8.9M716.1 418h25.6M782.7 418h8.9M857.5 418h8.9M915.8 418h8.9M940.7 418h8.9M1057.2 418h8.9M1107.1 418h8.9M1165.3 418h50.5M1073.8 426.3h17.2" stroke="#070707"/>
<path d="M957.4 76.9h25.6M932.4 85.2h8.9M907.4 110.2h8.9M1057.2 135.2h8.9M716.1 143.5h8.9M815.9 143.5h25.6M1082.1 143.5h25.6M1223.6 143.5h8.9M1231.9 160.1h8.9M1240.2 193.4h8.9M682.8 243.3h8.9M1240.2 243.3h8.9M1240.2 260h8.9M1240.2 284.9h8.9M682.8 318.2h8.9M1240.2 318.2h8.9M682.8 326.5h8.9M1240.2 326.5h8.9M1240.2 334.8h8.9M682.8 351.5h8.9M1231.9 376.4h8.9M699.5 393.1h8.9M1223.6 393.1h8.9M707.8 401.4h8.9M1223.6 401.4h8.9M716.1 409.7h58.8M899.1 409.7h8.9M949 409.7h8.9M990.6 409.7h25.6M1123.7 409.7h8.9M1157 409.7h8.9M791 418h8.9M849.2 418h8.9M924.1 418h17.2M1065.5 418h8.9" stroke="#080808"/>
<path d="M940.7 85.2h8.9M990.6 85.2h8.9M924.1 93.6h8.9M999 93.6h8.9M915.8 101.9h8.9M1007.3 101.9h8.9M1015.6 110.2h8.9M1023.9 118.5h8.9M899.1 126.8h8.9M1032.2 126.8h8.9M890.8 135.2h8.9M1048.9 135.2h8.9M724.4 143.5h92.1M840.9 143.5h42.2M1073.8 143.5h8.9M1107.1 143.5h100.4M1215.3 143.5h8.9M707.8 151.8h8.9M691.1 168.4h8.9M1231.9 168.4h8.9M682.8 193.4h8.9M1240.2 201.7h8.9M1240.2 210h8.9M1240.2 218.4h8.9M1240.2 226.7h8.9M1240.2 235h8.9M682.8 251.6h8.9M1240.2 268.3h8.9M1240.2 276.6h8.9M1240.2 293.2h8.9M1240.2 301.5h8.9M682.8 309.9h8.9M1240.2 309.9h8.9M1223.6 384.7h8.9M716.1 401.4h17.2M865.8 401.4h25.6M974 401.4h17.2M774.3 409.7h8.9M857.5 409.7h8.9M907.4 409.7h8.9M1040.5 409.7h8.9M1115.4 409.7h8.9M1165.3 409.7h17.2M1215.3 409.7h8.9M840.9 418h8.9M1073.8 418h33.9" stroke="#090909"/>
<path d="M907.4 118.5h8.9M1040.5 135.2h8.9M882.5 143.5h8.9M1057.2 143.5h17.2M1206.9 143.5h8.9M815.9 151.8h17.2M1223.6 151.8h8.9M699.5 160.1h8.9M682.8 201.7h8.9M682.8 210h8.9M682.8 235h8.9M682.8 276.6h8.9M682.8 284.9h8.9M682.8 293.2h8.9M682.8 301.5h8.9M1231.9 359.8h8.9M691.1 368.1h8.9M1231.9 368.1h8.9M699.5 384.7h8.9M1215.3 393.1h8.9M732.7 401.4h42.2M857.5 401.4h8.9M890.8 401.4h8.9M965.7 401.4h8.9M990.6 401.4h8.9M1132.1 401.4h42.2M1215.3 401.4h8.9M782.7 409.7h8.9M849.2 409.7h8.9M915.8 409.7h8.9M940.7 409.7h8.9M1048.9 409.7h8.9M1182 409.7h33.9M799.3 418h8.9M832.6 418h8.9" stroke="#0a0a0a"/>
<path d="M949 85.2h8.9M982.3 85.2h8.9M915.8 110.2h8.9M1023.9 126.8h8.9M1048.9 143.5h8.9M716.1 151.8h8.9M791 151.8h25.6M832.6 151.8h25.6M1082.1 151.8h33.9M1182 151.8h8.9M691.1 176.8h8.9M1231.9 176.8h8.9M682.8 260h8.9M682.8 268.3h8.9M1231.9 351.5h8.9M699.5 376.4h8.9M707.8 393.1h8.9M774.3 401.4h8.9M849.2 401.4h8.9M899.1 401.4h17.2M957.4 401.4h8.9M999 401.4h33.9M1173.7 401.4h8.9M924.1 409.7h17.2M1057.2 409.7h17.2M1107.1 409.7h8.9M807.6 418h25.6" stroke="#0b0b0b"/>
<path d="M974 85.2h8.9M932.4 93.6h8.9M924.1 101.9h8.9M1015.6 118.5h8.9M899.1 135.2h8.9M1032.2 135.2h8.9M890.8 143.5h8.9M1040.5 143.5h8.9M724.4 151.8h67.2M857.5 151.8h25.6M1073.8 151.8h8.9M1115.4 151.8h8.9M1173.7 151.8h8.9M1190.3 151.8h17.2M1215.3 151.8h8.9M1223.6 160.1h8.9M682.8 218.4h8.9M682.8 226.7h8.9M1231.9 343.1h8.9M691.1 359.8h8.9M1223.6 376.4h8.9M707.8 384.7h8.9M1215.3 384.7h8.9M716.1 393.1h17.2M849.2 393.1h33.9M1206.9 393.1h8.9M915.8 401.4h42.2M1032.2 401.4h17.2M1123.7 401.4h8.9M1182 401.4h33.9M791 409.7h8.9M840.9 409.7h8.9M1073.8 409.7h8.9M1098.8 409.7h8.9" stroke="#0c0c0c"/>
<path d="M957.4 85.2h17.2M990.6 93.6h8.9M999 101.9h8.9M1007.3 110.2h8.9M907.4 126.8h8.9M1032.2 143.5h8.9M882.5 151.8h8.9M1065.5 151.8h8.9M1123.7 151.8h17.2M1157 151.8h17.2M1206.9 151.8h8.9M707.8 160.1h8.9M799.3 160.1h33.9M699.5 168.4h8.9M1231.9 185.1h8.9M732.7 393.1h42.2M840.9 393.1h8.9M882.5 393.1h8.9M974 393.1h25.6M1132.1 393.1h33.9M782.7 401.4h8.9M840.9 401.4h8.9M1048.9 401.4h33.9M1115.4 401.4h8.9M1082.1 409.7h17.2" stroke="#0d0d0d"/>
<path d="M940.7 93.6h8.9M915.8 118.5h8.9M1023.9 135.2h8.9M1048.9 151.8h17.2M1140.4 151.8h17.2M757.7 160.1h42.2M832.6 160.1h17.2M1223.6 168.4h8.9M691.1 185.1h8.9M691.1 326.5h8.9M691.1 334.8h8.9M1231.9 334.8h8.9M691.1 343.1h8.9M691.1 351.5h8.9M699.5 368.1h8.9M707.8 376.4h8.9M716.1 384.7h8.9M832.6 384.7h17.2M1206.9 384.7h8.9M774.3 393.1h8.9M890.8 393.1h8.9M999 393.1h17.2M1123.7 393.1h8.9M1165.3 393.1h17.2M1198.6 393.1h8.9M1082.1 401.4h8.9M1107.1 401.4h8.9M799.3 409.7h8.9M832.6 409.7h8.9" stroke="#0e0e0e"/>
<path d="M932.4 101.9h8.9M924.1 110.2h8.9M1015.6 126.8h8.9M1040.5 151.8h8.9M716.1 160.1h8.9M741.1 160.1h17.2M849.2 160.1h25.6M1090.5 160.1h33.9M1182 160.1h17.2M1231.9 193.4h8.9M1231.9 251.6h8.9M1231.9 260h8.9M691.1 318.2h8.9M1223.6 368.1h8.9M1215.3 376.4h8.9M824.2 384.7h8.9M849.2 384.7h8.9M782.7 393.1h8.9M832.6 393.1h8.9M899.1 393.1h42.2M965.7 393.1h8.9M1015.6 393.1h25.6M1057.2 393.1h33.9M1115.4 393.1h8.9M1182 393.1h17.2M791 401.4h8.9M832.6 401.4h8.9M1090.5 401.4h17.2" stroke="#0f0f0f"/>
<path d="M982.3 93.6h8.9M1007.3 118.5h8.9M899.1 143.5h8.9M1023.9 143.5h8.9M890.8 151.8h8.9M724.4 160.1h17.2M874.2 160.1h8.9M1082.1 160.1h8.9M1123.7 160.1h8.9M1173.7 160.1h8.9M1198.6 160.1h8.9M1215.3 160.1h8.9M691.1 193.4h8.9M691.1 243.3h8.9M1231.9 243.3h8.9M1231.9 326.5h8.9M1223.6 359.8h8.9M716.1 376.4h8.9M724.4 384.7h8.9M766 384.7h17.2M815.9 384.7h8.9M857.5 384.7h8.9M990.6 384.7h8.9M1123.7 384.7h8.9M1198.6 384.7h8.9M824.2 393.1h8.9M940.7 393.1h25.6M1040.5 393.1h17.2M1090.5 393.1h25.6M807.6 409.7h25.6" stroke="#101010"/>
<path d="M949 93.6h8.9M990.6 101.9h8.9M999 110.2h8.9M907.4 135.2h8.9M1032.2 151.8h8.9M1073.8 160.1h8.9M1132.1 160.1h17.2M1157 160.1h17.2M1206.9 160.1h8.9M699.5 176.8h8.9M1223.6 176.8h8.9M1231.9 201.7h8.9M1231.9 218.4h8.9M691.1 251.6h8.9M1231.9 268.3h8.9M1231.9 276.6h8.9M1231.9 284.9h8.9M691.1 309.9h8.9M1231.9 309.9h8.9M1231.9 318.2h8.9M1223.6 351.5h8.9M807.6 376.4h33.9M732.7 384.7h33.9M782.7 384.7h8.9M807.6 384.7h8.9M865.8 384.7h8.9M982.3 384.7h8.9M999 384.7h25.6M1107.1 384.7h17.2M1132.1 384.7h17.2M791 393.1h8.9M815.9 393.1h8.9M799.3 401.4h8.9M824.2 401.4h8.9" stroke="#111111"/>
<path d="M974 93.6h8.9M915.8 126.8h8.9M1015.6 135.2h8.9M882.5 160.1h8.9M1057.2 160.1h17.2M1148.7 160.1h8.9M707.8 168.4h8.9M757.7 168.4h67.2M1173.7 168.4h17.2M1215.3 168.4h8.9M691.1 201.7h8.9M1231.9 210h8.9M1231.9 226.7h8.9M1231.9 235h8.9M691.1 284.9h8.9M691.1 293.2h8.9M1231.9 293.2h8.9M691.1 301.5h8.9M1231.9 301.5h8.9M699.5 359.8h8.9M707.8 368.1h8.9M782.7 376.4h25.6M840.9 376.4h8.9M1115.4 376.4h8.9M1206.9 376.4h8.9M791 384.7h17.2M874.2 384.7h8.9M974 384.7h8.9M1023.9 384.7h17.2M1057.2 384.7h50.5M1190.3 384.7h8.9M799.3 393.1h17.2M807.6 401.4h17.2" stroke="#121212"/>
<path d="M957.4 93.6h17.2M924.1 118.5h8.9M1048.9 160.1h8.9M749.4 168.4h8.9M824.2 168.4h17.2M1107.1 168.4h17.2M1190.3 168.4h8.9M691.1 210h8.9M691.1 235h8.9M691.1 276.6h8.9M1223.6 343.1h8.9M1215.3 368.1h8.9M724.4 376.4h8.9M774.3 376.4h8.9M999 376.4h25.6M1107.1 376.4h8.9M1123.7 376.4h8.9M882.5 384.7h8.9M965.7 384.7h8.9M1040.5 384.7h17.2M1148.7 384.7h8.9" stroke="#131313"/>
<path d="M940.7 101.9h8.9M932.4 110.2h8.9M1007.3 126.8h8.9M1023.9 151.8h8.9M1040.5 160.1h8.9M716.1 168.4h8.9M741.1 168.4h8.9M840.9 168.4h25.6M1098.8 168.4h8.9M1123.7 168.4h8.9M1165.3 168.4h8.9M1198.6 168.4h17.2M699.5 185.1h8.9M1223.6 185.1h8.9M699.5 351.5h8.9M791 368.1h17.2M849.2 376.4h8.9M982.3 376.4h17.2M1023.9 376.4h17.2M1090.5 376.4h17.2M1132.1 376.4h8.9M890.8 384.7h8.9M1157 384.7h17.2M1182 384.7h8.9" stroke="#141414"/>
<path d="M982.3 101.9h8.9M907.4 143.5h8.9M899.1 151.8h8.9M890.8 160.1h8.9M732.7 168.4h8.9M865.8 168.4h8.9M1132.1 168.4h8.9M1157 168.4h8.9M1215.3 176.8h8.9M691.1 260h8.9M691.1 268.3h8.9M699.5 343.1h8.9M1215.3 359.8h8.9M716.1 368.1h8.9M782.7 368.1h8.9M807.6 368.1h17.2M1115.4 368.1h17.2M732.7 376.4h8.9M766 376.4h8.9M974 376.4h8.9M1040.5 376.4h50.5M1198.6 376.4h8.9M899.1 384.7h33.9M957.4 384.7h8.9M1173.7 384.7h8.9" stroke="#151515"/>
<path d="M999 118.5h8.9M1015.6 143.5h8.9M1032.2 160.1h8.9M724.4 168.4h8.9M874.2 168.4h8.9M1065.5 168.4h33.9M1140.4 168.4h17.2M707.8 176.8h8.9M691.1 218.4h8.9M691.1 226.7h8.9M699.5 326.5h8.9M699.5 334.8h8.9M824.2 368.1h8.9M1015.6 368.1h17.2M1107.1 368.1h8.9M757.7 376.4h8.9M857.5 376.4h8.9M965.7 376.4h8.9M932.4 384.7h25.6" stroke="#161616"/>
<path d="M949 101.9h8.9M990.6 110.2h8.9M915.8 135.2h8.9M1048.9 168.4h17.2M766 176.8h8.9M1182 176.8h17.2M1206.9 176.8h8.9M1223.6 193.4h8.9M699.5 318.2h8.9M1223.6 334.8h8.9M1215.3 351.5h8.9M707.8 359.8h8.9M724.4 368.1h8.9M1007.3 368.1h8.9M1032.2 368.1h8.9M1098.8 368.1h8.9M1132.1 368.1h8.9M1206.9 368.1h8.9M741.1 376.4h17.2M1140.4 376.4h8.9" stroke="#171717"/>
<path d="M882.5 168.4h8.9M749.4 176.8h17.2M774.3 176.8h17.2M1115.4 176.8h8.9M1173.7 176.8h8.9M1198.6 176.8h8.9M699.5 193.4h8.9M1223.6 251.6h8.9M774.3 368.1h8.9M832.6 368.1h8.9M999 368.1h8.9M1040.5 368.1h8.9M1082.1 368.1h17.2M865.8 376.4h8.9M957.4 376.4h8.9M1190.3 376.4h8.9" stroke="#181818"/>
<path d="M974 101.9h8.9M924.1 126.8h8.9M1007.3 135.2h8.9M716.1 176.8h8.9M741.1 176.8h8.9M791 176.8h8.9M1107.1 176.8h8.9M1123.7 176.8h8.9M1165.3 176.8h8.9M1223.6 201.7h8.9M699.5 243.3h8.9M1223.6 260h8.9M1115.4 359.8h17.2M990.6 368.1h8.9M1048.9 368.1h33.9M874.2 376.4h8.9M949 376.4h8.9M1148.7 376.4h8.9" stroke="#191919"/>
<path d="M957.4 101.9h8.9M940.7 110.2h8.9M932.4 118.5h8.9M1040.5 168.4h8.9M724.4 176.8h17.2M799.3 176.8h33.9M1098.8 176.8h8.9M1132.1 176.8h8.9M1157 176.8h8.9M707.8 185.1h8.9M1215.3 185.1h8.9M699.5 201.7h8.9M1223.6 243.3h8.9M1223.6 268.3h8.9M1223.6 276.6h8.9M699.5 309.9h8.9M1223.6 326.5h8.9M1215.3 343.1h8.9M707.8 351.5h8.9M791 359.8h17.2M1107.1 359.8h8.9M1132.1 359.8h8.9M1206.9 359.8h8.9M732.7 368.1h8.9M766 368.1h8.9M840.9 368.1h8.9M982.3 368.1h8.9M1140.4 368.1h8.9M882.5 376.4h8.9M915.8 376.4h33.9M1182 376.4h8.9" stroke="#1a1a1a"/>
<path d="M965.7 101.9h8.9M907.4 151.8h8.9M899.1 160.1h8.9M832.6 176.8h25.6M1057.2 176.8h42.2M1140.4 176.8h17.2M1223.6 210h8.9M699.5 251.6h8.9M699.5 284.9h8.9M1223.6 284.9h8.9M699.5 293.2h8.9M716.1 359.8h8.9M782.7 359.8h8.9M1023.9 359.8h8.9M915.8 368.1h17.2M957.4 368.1h25.6M1198.6 368.1h8.9M890.8 376.4h25.6M1157 376.4h8.9" stroke="#1b1b1b"/>
<path d="M982.3 110.2h8.9M999 126.8h8.9M915.8 143.5h8.9M1015.6 151.8h8.9M1023.9 160.1h8.9M890.8 168.4h8.9M857.5 176.8h8.9M1223.6 218.4h8.9M699.5 235h8.9M699.5 301.5h8.9M1223.6 309.9h8.9M1223.6 318.2h8.9M707.8 343.1h8.9M1123.7 351.5h8.9M807.6 359.8h8.9M1015.6 359.8h8.9M1032.2 359.8h8.9M1098.8 359.8h8.9M741.1 368.1h25.6M849.2 368.1h8.9M907.4 368.1h8.9M932.4 368.1h25.6M1165.3 376.4h17.2" stroke="#1c1c1c"/>
<path d="M865.8 176.8h8.9M1048.9 176.8h8.9M716.1 185.1h8.9M1098.8 185.1h8.9M1206.9 185.1h8.9M699.5 210h8.9M1223.6 235h8.9M1223.6 293.2h8.9M1223.6 301.5h8.9M707.8 326.5h8.9M707.8 334.8h8.9M1115.4 351.5h8.9M1206.9 351.5h8.9M724.4 359.8h8.9M815.9 359.8h8.9M1040.5 359.8h8.9M1090.5 359.8h8.9M1140.4 359.8h8.9" stroke="#1d1d1d"/>
<path d="M990.6 118.5h8.9M1007.3 143.5h8.9M1032.2 168.4h8.9M724.4 185.1h83.8M1073.8 185.1h25.6M1107.1 185.1h17.2M1190.3 185.1h17.2M707.8 193.4h8.9M1215.3 193.4h8.9M1223.6 226.7h8.9M699.5 276.6h8.9M1215.3 334.8h8.9M1132.1 351.5h8.9M774.3 359.8h8.9M907.4 359.8h17.2M1007.3 359.8h8.9M1082.1 359.8h8.9M1198.6 359.8h8.9M857.5 368.1h8.9M899.1 368.1h8.9M1148.7 368.1h8.9M1190.3 368.1h8.9" stroke="#1e1e1e"/>
<path d="M949 110.2h8.9M924.1 135.2h8.9M874.2 176.8h8.9M807.6 185.1h8.9M1065.5 185.1h8.9M1123.7 185.1h8.9M707.8 318.2h8.9M716.1 351.5h8.9M1107.1 351.5h8.9M732.7 359.8h8.9M899.1 359.8h8.9M924.1 359.8h8.9M1048.9 359.8h33.9M890.8 368.1h8.9" stroke="#1f1f1f"/>
<path d="M1040.5 176.8h8.9M815.9 185.1h8.9M1057.2 185.1h8.9M1132.1 185.1h8.9M1182 185.1h8.9M1215.3 201.7h8.9M699.5 260h8.9M1123.7 343.1h8.9M1206.9 343.1h8.9M1140.4 351.5h8.9M766 359.8h8.9M824.2 359.8h8.9M999 359.8h8.9M865.8 368.1h17.2M1157 368.1h8.9M1182 368.1h8.9" stroke="#202020"/>
<path d="M974 110.2h8.9M940.7 118.5h8.9M932.4 126.8h8.9M882.5 176.8h8.9M824.2 185.1h8.9M1140.4 185.1h8.9M1173.7 185.1h8.9M716.1 193.4h8.9M1090.5 193.4h8.9M699.5 218.4h8.9M699.5 226.7h8.9M1215.3 260h8.9M699.5 268.3h8.9M716.1 343.1h8.9M1115.4 343.1h8.9M1132.1 343.1h8.9M782.7 351.5h25.6M1198.6 351.5h8.9M741.1 359.8h8.9M890.8 359.8h8.9M932.4 359.8h8.9M1148.7 359.8h8.9M882.5 368.1h8.9M1165.3 368.1h17.2" stroke="#212121"/>
<path d="M999 135.2h8.9M899.1 168.4h8.9M832.6 185.1h8.9M1148.7 185.1h25.6M799.3 193.4h25.6M1082.1 193.4h8.9M1098.8 193.4h8.9M1206.9 193.4h8.9M707.8 201.7h8.9M707.8 243.3h8.9M1215.3 251.6h8.9M1215.3 268.3h8.9M707.8 309.9h8.9M716.1 334.8h8.9M724.4 351.5h8.9M774.3 351.5h8.9M807.6 351.5h8.9M899.1 351.5h17.2M1015.6 351.5h17.2M1098.8 351.5h8.9M749.4 359.8h17.2M832.6 359.8h8.9M990.6 359.8h8.9M1190.3 359.8h8.9" stroke="#222222"/>
<path d="M957.4 110.2h17.2M907.4 160.1h8.9M840.9 185.1h8.9M1048.9 185.1h8.9M724.4 193.4h8.9M782.7 193.4h17.2M1073.8 193.4h8.9M1215.3 210h8.9M1215.3 276.6h8.9M707.8 293.2h8.9M716.1 326.5h8.9M1215.3 326.5h8.9M1107.1 343.1h8.9M1140.4 343.1h8.9M890.8 351.5h8.9M1032.2 351.5h8.9M1148.7 351.5h8.9M940.7 359.8h8.9M1157 359.8h8.9" stroke="#232323"/>
<path d="M915.8 151.8h8.9M890.8 176.8h8.9M849.2 185.1h8.9M732.7 193.4h8.9M766 193.4h17.2M824.2 193.4h8.9M1107.1 193.4h8.9M1198.6 193.4h8.9M1215.3 243.3h8.9M707.8 251.6h8.9M707.8 284.9h8.9M707.8 301.5h8.9M1206.9 334.8h8.9M1148.7 343.1h8.9M1198.6 343.1h8.9M732.7 351.5h8.9M766 351.5h8.9M815.9 351.5h8.9M1007.3 351.5h8.9M1090.5 351.5h8.9M1157 351.5h8.9M1190.3 351.5h8.9M840.9 359.8h8.9M882.5 359.8h8.9M949 359.8h8.9M982.3 359.8h8.9M1165.3 359.8h25.6" stroke="#242424"/>
<path d="M982.3 118.5h8.9M990.6 126.8h8.9M857.5 185.1h8.9M741.1 193.4h25.6M1065.5 193.4h8.9M1206.9 201.7h8.9M707.8 235h8.9M716.1 318.2h8.9M774.3 326.5h8.9M724.4 343.1h8.9M774.3 343.1h25.6M890.8 343.1h8.9M1098.8 343.1h8.9M1157 343.1h25.6M882.5 351.5h8.9M915.8 351.5h8.9M1040.5 351.5h8.9M1073.8 351.5h17.2M1165.3 351.5h25.6M957.4 359.8h25.6" stroke="#252525"/>
<path d="M924.1 143.5h8.9M1015.6 160.1h8.9M1023.9 168.4h8.9M1032.2 176.8h8.9M865.8 185.1h8.9M1115.4 193.4h8.9M1190.3 193.4h8.9M1215.3 218.4h8.9M1215.3 284.9h8.9M766 318.2h17.2M724.4 326.5h8.9M766 326.5h8.9M782.7 326.5h17.2M724.4 334.8h8.9M774.3 334.8h17.2M1098.8 334.8h33.9M799.3 343.1h17.2M882.5 343.1h8.9M899.1 343.1h8.9M1182 343.1h17.2M741.1 351.5h25.6M824.2 351.5h8.9M1048.9 351.5h25.6M849.2 359.8h8.9M874.2 359.8h8.9" stroke="#262626"/>
<path d="M1007.3 151.8h8.9M874.2 185.1h8.9M1040.5 185.1h8.9M832.6 193.4h8.9M1057.2 193.4h8.9M1123.7 193.4h8.9M716.1 201.7h8.9M815.9 201.7h17.2M1090.5 201.7h8.9M707.8 210h8.9M1215.3 235h8.9M707.8 276.6h8.9M782.7 318.2h8.9M1215.3 318.2h8.9M757.7 326.5h8.9M799.3 326.5h8.9M766 334.8h8.9M791 334.8h25.6M1090.5 334.8h8.9M1132.1 334.8h33.9M732.7 343.1h8.9M766 343.1h8.9M815.9 343.1h8.9M874.2 343.1h8.9M1015.6 343.1h8.9M1090.5 343.1h8.9M874.2 351.5h8.9M999 351.5h8.9M857.5 359.8h17.2" stroke="#272727"/>
<path d="M949 118.5h8.9M1132.1 193.4h8.9M1182 193.4h8.9M1082.1 201.7h8.9M1098.8 201.7h8.9M1198.6 201.7h8.9M716.1 243.3h8.9M1206.9 260h8.9M1206.9 268.3h8.9M716.1 309.9h8.9M1090.5 309.9h8.9M1215.3 309.9h8.9M757.7 318.2h8.9M791 318.2h8.9M807.6 326.5h8.9M1090.5 326.5h8.9M732.7 334.8h8.9M757.7 334.8h8.9M815.9 334.8h8.9M882.5 334.8h17.2M1165.3 334.8h8.9M1198.6 334.8h8.9M741.1 343.1h8.9M757.7 343.1h8.9M824.2 343.1h8.9M907.4 343.1h8.9M1007.3 343.1h8.9M1023.9 343.1h8.9M1082.1 343.1h8.9M832.6 351.5h8.9M865.8 351.5h8.9" stroke="#282828"/>
<path d="M932.4 135.2h8.9M882.5 185.1h8.9M1140.4 193.4h8.9M774.3 201.7h17.2M807.6 201.7h8.9M1206.9 210h8.9M1215.3 226.7h8.9M832.6 235h17.2M1206.9 251.6h8.9M707.8 260h8.9M1206.9 276.6h8.9M716.1 293.2h8.9M1215.3 293.2h8.9M1215.3 301.5h8.9M1082.1 309.9h8.9M1098.8 309.9h8.9M1090.5 318.2h17.2M732.7 326.5h25.6M815.9 326.5h8.9M1098.8 326.5h8.9M741.1 334.8h17.2M824.2 334.8h8.9M1082.1 334.8h8.9M1173.7 334.8h8.9M749.4 343.1h8.9M865.8 343.1h8.9M924.1 351.5h8.9" stroke="#292929"/>
<path d="M974 118.5h8.9M940.7 126.8h8.9M999 143.5h8.9M899.1 176.8h8.9M840.9 193.4h8.9M1148.7 193.4h8.9M1173.7 193.4h8.9M724.4 201.7h8.9M766 201.7h8.9M791 201.7h17.2M832.6 201.7h8.9M1073.8 201.7h8.9M1190.3 201.7h8.9M707.8 226.7h8.9M716.1 235h8.9M741.1 235h17.2M1206.9 243.3h8.9M716.1 251.6h8.9M707.8 268.3h8.9M716.1 301.5h8.9M766 309.9h17.2M1107.1 309.9h8.9M724.4 318.2h8.9M799.3 318.2h8.9M1082.1 318.2h8.9M824.2 326.5h8.9M1082.1 326.5h8.9M1107.1 326.5h8.9M832.6 334.8h8.9M874.2 334.8h8.9M899.1 334.8h8.9M1182 334.8h17.2M832.6 343.1h8.9M857.5 343.1h8.9M1032.2 343.1h8.9M1073.8 343.1h8.9M840.9 351.5h25.6" stroke="#2a2a2a"/>
<path d="M907.4 168.4h8.9M1048.9 193.4h8.9M1157 193.4h17.2M757.7 201.7h8.9M1107.1 201.7h8.9M707.8 218.4h8.9M749.4 226.7h8.9M832.6 226.7h17.2M732.7 235h8.9M757.7 235h8.9M824.2 235h8.9M849.2 235h8.9M724.4 243.3h8.9M749.4 243.3h17.2M840.9 243.3h17.2M1173.7 251.6h17.2M1173.7 260h17.2M1198.6 260h8.9M1198.6 268.3h8.9M716.1 284.9h8.9M1140.4 293.2h17.2M1082.1 301.5h25.6M782.7 309.9h8.9M749.4 318.2h8.9M807.6 318.2h8.9M1107.1 318.2h8.9M1115.4 326.5h8.9M1206.9 326.5h8.9M840.9 343.1h17.2M1040.5 343.1h8.9M1065.5 343.1h8.9M990.6 351.5h8.9" stroke="#2b2b2b"/>
<path d="M957.4 118.5h8.9M890.8 185.1h8.9M732.7 201.7h25.6M1198.6 210h8.9M741.1 226.7h8.9M824.2 226.7h8.9M724.4 235h8.9M732.7 243.3h17.2M766 243.3h8.9M832.6 243.3h8.9M1173.7 243.3h17.2M757.7 251.6h17.2M1165.3 251.6h8.9M1190.3 251.6h17.2M766 260h25.6M1165.3 260h8.9M1190.3 260h8.9M1190.3 268.3h8.9M1132.1 293.2h8.9M1107.1 301.5h17.2M757.7 309.9h8.9M791 309.9h8.9M1073.8 309.9h8.9M1115.4 309.9h8.9M815.9 318.2h8.9M1073.8 318.2h8.9M832.6 326.5h8.9M882.5 326.5h17.2M1148.7 326.5h17.2M840.9 334.8h8.9M865.8 334.8h8.9M1015.6 334.8h8.9M1073.8 334.8h8.9M999 343.1h8.9M1048.9 343.1h17.2" stroke="#2c2c2c"/>
<path d="M965.7 118.5h8.9M915.8 160.1h8.9M849.2 193.4h8.9M1115.4 201.7h8.9M1182 201.7h8.9M716.1 210h8.9M824.2 210h8.9M1206.9 218.4h8.9M732.7 226.7h8.9M757.7 226.7h8.9M849.2 226.7h8.9M766 235h8.9M857.5 235h8.9M1165.3 235h17.2M857.5 243.3h8.9M1165.3 243.3h8.9M1190.3 243.3h17.2M724.4 251.6h8.9M749.4 251.6h8.9M774.3 251.6h8.9M832.6 251.6h25.6M757.7 260h8.9M791 260h8.9M1157 260h8.9M774.3 268.3h33.9M1148.7 268.3h42.2M1198.6 276.6h8.9M807.6 284.9h8.9M1073.8 284.9h8.9M1140.4 284.9h17.2M1206.9 284.9h8.9M807.6 293.2h8.9M1123.7 293.2h8.9M1073.8 301.5h8.9M1123.7 301.5h33.9M724.4 309.9h8.9M799.3 309.9h8.9M732.7 318.2h17.2M1115.4 318.2h8.9M1073.8 326.5h8.9M1123.7 326.5h25.6M849.2 334.8h17.2M907.4 334.8h8.9M1023.9 334.8h8.9M915.8 343.1h8.9M932.4 351.5h8.9" stroke="#2d2d2d"/>
<path d="M982.3 126.8h8.9M990.6 135.2h8.9M1032.2 185.1h8.9M857.5 193.4h8.9M840.9 201.7h8.9M1065.5 201.7h8.9M1123.7 201.7h25.6M766 210h8.9M815.9 210h8.9M832.6 210h8.9M1090.5 210h8.9M1190.3 210h8.9M1140.4 218.4h8.9M716.1 226.7h8.9M815.9 226.7h8.9M857.5 226.7h8.9M1115.4 226.7h50.5M815.9 235h8.9M1157 235h8.9M1182 235h8.9M1206.9 235h8.9M824.2 243.3h8.9M732.7 251.6h17.2M1157 251.6h8.9M716.1 260h8.9M799.3 260h8.9M766 268.3h8.9M1132.1 268.3h17.2M716.1 276.6h8.9M791 276.6h25.6M1073.8 276.6h17.2M1132.1 276.6h33.9M799.3 284.9h8.9M1065.5 284.9h8.9M1082.1 284.9h8.9M1132.1 284.9h8.9M1157 284.9h8.9M724.4 293.2h8.9M799.3 293.2h8.9M1073.8 293.2h17.2M1157 293.2h8.9M724.4 301.5h8.9M791 301.5h25.6M807.6 309.9h8.9M1065.5 309.9h8.9M824.2 318.2h8.9M874.2 326.5h8.9M899.1 326.5h8.9M1165.3 326.5h8.9M1007.3 334.8h8.9" stroke="#2e2e2e"/>
<path d="M924.1 151.8h8.9M1023.9 176.8h8.9M865.8 193.4h17.2M1040.5 193.4h8.9M1148.7 201.7h8.9M1173.7 201.7h8.9M757.7 210h8.9M774.3 210h8.9M1082.1 210h8.9M1098.8 210h8.9M1182 210h8.9M824.2 218.4h25.6M1123.7 218.4h17.2M1148.7 218.4h8.9M724.4 226.7h8.9M1107.1 226.7h8.9M1165.3 226.7h8.9M1148.7 235h8.9M1190.3 235h8.9M774.3 243.3h8.9M1157 243.3h8.9M782.7 251.6h8.9M824.2 251.6h8.9M857.5 251.6h8.9M749.4 260h8.9M807.6 260h42.2M1140.4 260h17.2M757.7 268.3h8.9M807.6 268.3h8.9M1073.8 268.3h17.2M782.7 276.6h8.9M1090.5 276.6h8.9M1165.3 276.6h33.9M791 284.9h8.9M815.9 284.9h8.9M857.5 284.9h17.2M791 293.2h8.9M815.9 293.2h8.9M1065.5 293.2h8.9M1090.5 293.2h8.9M1115.4 293.2h8.9M782.7 301.5h8.9M1065.5 301.5h8.9M1157 301.5h8.9M749.4 309.9h8.9M815.9 309.9h8.9M1123.7 309.9h8.9M832.6 318.2h8.9M1065.5 318.2h8.9M840.9 326.5h8.9M1198.6 326.5h8.9M1032.2 334.8h8.9M1065.5 334.8h8.9M982.3 351.5h8.9" stroke="#2f2f2f"/>
<path d="M882.5 193.4h8.9M1157 201.7h17.2M749.4 210h8.9M782.7 210h8.9M840.9 210h8.9M1107.1 210h8.9M1132.1 210h50.5M716.1 218.4h8.9M741.1 218.4h25.6M849.2 218.4h17.2M1082.1 218.4h42.2M1157 218.4h17.2M766 226.7h8.9M865.8 226.7h8.9M1073.8 226.7h33.9M1173.7 226.7h8.9M1206.9 226.7h8.9M865.8 235h8.9M1107.1 235h17.2M1198.6 235h8.9M815.9 243.3h8.9M865.8 243.3h8.9M1107.1 243.3h8.9M815.9 251.6h8.9M1107.1 251.6h17.2M732.7 260h17.2M849.2 260h8.9M1123.7 260h17.2M716.1 268.3h8.9M749.4 268.3h8.9M815.9 268.3h8.9M1090.5 268.3h8.9M1123.7 268.3h8.9M815.9 276.6h8.9M857.5 276.6h8.9M1065.5 276.6h8.9M1123.7 276.6h8.9M724.4 284.9h8.9M1090.5 284.9h8.9M1123.7 284.9h8.9M1165.3 284.9h8.9M1098.8 293.2h17.2M774.3 301.5h8.9M815.9 301.5h8.9M732.7 309.9h8.9M857.5 309.9h25.6M1057.2 309.9h8.9M840.9 318.2h8.9M865.8 318.2h25.6M1123.7 318.2h8.9M1206.9 318.2h8.9M849.2 326.5h8.9M865.8 326.5h8.9M1065.5 326.5h8.9M1173.7 326.5h8.9" stroke="#303030"/>
<path d="M1015.6 168.4h8.9M1057.2 201.7h8.9M724.4 210h8.9M807.6 210h8.9M1073.8 210h8.9M1115.4 210h17.2M815.9 218.4h8.9M865.8 218.4h8.9M1173.7 218.4h8.9M1198.6 218.4h8.9M807.6 226.7h8.9M1065.5 226.7h8.9M1182 226.7h8.9M774.3 235h8.9M807.6 235h8.9M1098.8 235h8.9M1123.7 235h25.6M1098.8 243.3h8.9M1115.4 243.3h8.9M791 251.6h8.9M807.6 251.6h8.9M1098.8 251.6h8.9M1123.7 251.6h8.9M1148.7 251.6h8.9M724.4 260h8.9M1082.1 260h42.2M741.1 268.3h8.9M824.2 268.3h8.9M1065.5 268.3h8.9M1098.8 268.3h8.9M1115.4 268.3h8.9M774.3 276.6h8.9M849.2 276.6h8.9M865.8 276.6h8.9M1098.8 276.6h8.9M1115.4 276.6h8.9M824.2 284.9h8.9M849.2 284.9h8.9M874.2 284.9h8.9M1173.7 284.9h8.9M1198.6 284.9h8.9M824.2 293.2h8.9M1165.3 293.2h8.9M1206.9 293.2h8.9M732.7 301.5h8.9M766 301.5h8.9M1057.2 301.5h8.9M741.1 309.9h8.9M824.2 309.9h8.9M849.2 309.9h8.9M1048.9 309.9h8.9M1132.1 309.9h8.9M849.2 318.2h17.2M890.8 318.2h8.9M1057.2 318.2h8.9M857.5 326.5h8.9M1040.5 334.8h8.9M1057.2 334.8h8.9M940.7 351.5h8.9" stroke="#313131"/>
<path d="M949 126.8h8.9M932.4 143.5h8.9M1007.3 160.1h8.9M849.2 201.7h8.9M732.7 210h17.2M791 210h17.2M849.2 210h8.9M724.4 218.4h17.2M766 218.4h8.9M1073.8 218.4h8.9M1182 218.4h17.2M874.2 226.7h8.9M1057.2 226.7h8.9M1190.3 226.7h8.9M874.2 235h8.9M782.7 243.3h8.9M1123.7 243.3h8.9M1148.7 243.3h8.9M799.3 251.6h8.9M865.8 251.6h8.9M1090.5 251.6h8.9M1132.1 251.6h17.2M857.5 260h8.9M1065.5 260h17.2M724.4 268.3h17.2M832.6 268.3h25.6M1107.1 268.3h8.9M724.4 276.6h8.9M766 276.6h8.9M824.2 276.6h8.9M840.9 276.6h8.9M1107.1 276.6h8.9M782.7 284.9h8.9M1057.2 284.9h8.9M1098.8 284.9h8.9M1115.4 284.9h8.9M1182 284.9h17.2M732.7 293.2h8.9M782.7 293.2h8.9M857.5 293.2h17.2M1057.2 293.2h8.9M757.7 301.5h8.9M824.2 301.5h8.9M857.5 301.5h17.2M1206.9 301.5h8.9M832.6 309.9h17.2M882.5 309.9h8.9M1040.5 309.9h8.9M1140.4 309.9h17.2M1206.9 309.9h8.9M1040.5 318.2h17.2M1132.1 318.2h8.9M1148.7 318.2h17.2M907.4 326.5h8.9M1023.9 326.5h8.9M1182 326.5h17.2M1048.9 334.8h8.9M990.6 343.1h8.9M949 351.5h8.9M974 351.5h8.9" stroke="#323232"/>
<path d="M899.1 185.1h8.9M890.8 193.4h8.9M857.5 201.7h25.6M857.5 210h17.2M874.2 218.4h8.9M774.3 226.7h8.9M1198.6 226.7h8.9M1090.5 235h8.9M807.6 243.3h8.9M874.2 243.3h8.9M1090.5 243.3h8.9M1132.1 243.3h17.2M857.5 268.3h8.9M732.7 276.6h8.9M757.7 276.6h8.9M832.6 276.6h8.9M874.2 276.6h8.9M732.7 284.9h8.9M832.6 284.9h17.2M1107.1 284.9h8.9M832.6 293.2h8.9M849.2 293.2h8.9M741.1 301.5h17.2M832.6 301.5h8.9M849.2 301.5h8.9M874.2 301.5h8.9M1048.9 301.5h8.9M1165.3 301.5h8.9M1032.2 309.9h8.9M1157 309.9h8.9M1032.2 318.2h8.9M1140.4 318.2h8.9M1015.6 326.5h8.9M1032.2 326.5h8.9M1057.2 326.5h8.9M915.8 334.8h8.9M999 334.8h8.9M924.1 343.1h8.9M957.4 351.5h17.2" stroke="#333333"/>
<path d="M940.7 135.2h8.9M907.4 176.8h8.9M874.2 210h8.9M774.3 218.4h8.9M807.6 218.4h8.9M1065.5 218.4h8.9M1048.9 226.7h8.9M782.7 235h8.9M799.3 235h8.9M1057.2 235h33.9M791 243.3h17.2M1082.1 251.6h8.9M1057.2 260h8.9M741.1 276.6h17.2M1057.2 276.6h8.9M774.3 284.9h8.9M741.1 293.2h8.9M774.3 293.2h8.9M840.9 293.2h8.9M874.2 293.2h8.9M1173.7 293.2h8.9M840.9 301.5h8.9M899.1 318.2h8.9M1165.3 318.2h8.9M1040.5 326.5h17.2" stroke="#343434"/>
<path d="M974 126.8h8.9M999 151.8h8.9M1032.2 193.4h8.9M882.5 201.7h8.9M1048.9 201.7h8.9M1065.5 210h8.9M782.7 218.4h8.9M799.3 218.4h8.9M799.3 226.7h8.9M882.5 226.7h8.9M791 235h8.9M882.5 235h8.9M1048.9 235h8.9M1048.9 260h8.9M1057.2 268.3h8.9M741.1 284.9h8.9M882.5 284.9h8.9M1048.9 293.2h8.9M1198.6 293.2h8.9M1040.5 301.5h8.9M890.8 309.9h8.9M1023.9 318.2h8.9" stroke="#353535"/>
<path d="M791 218.4h8.9M882.5 218.4h8.9M1057.2 218.4h8.9M782.7 226.7h17.2M1082.1 243.3h8.9M1048.9 251.6h33.9M865.8 260h8.9M865.8 268.3h8.9M882.5 276.6h8.9M766 284.9h8.9M1048.9 284.9h8.9M749.4 293.2h8.9M766 293.2h8.9M1182 293.2h8.9M882.5 301.5h8.9M1165.3 309.9h8.9" stroke="#363636"/>
<path d="M1023.9 185.1h8.9M882.5 210h8.9M1048.9 243.3h17.2M1073.8 243.3h8.9M874.2 251.6h8.9M749.4 284.9h17.2M757.7 293.2h8.9M1190.3 293.2h8.9M1032.2 301.5h8.9M1023.9 309.9h8.9M907.4 318.2h8.9M1198.6 318.2h8.9M1007.3 326.5h8.9" stroke="#373737"/>
<path d="M957.4 126.8h8.9M990.6 143.5h8.9M915.8 168.4h8.9M1040.5 201.7h8.9M1057.2 210h8.9M1048.9 218.4h8.9M1040.5 226.7h8.9M1040.5 235h8.9M882.5 243.3h8.9M1065.5 243.3h8.9M1040.5 251.6h8.9M1040.5 260h8.9M1048.9 268.3h8.9M1048.9 276.6h8.9M882.5 293.2h8.9M1040.5 293.2h8.9M1173.7 301.5h8.9M1198.6 301.5h8.9M1173.7 318.2h8.9M915.8 326.5h8.9M982.3 343.1h8.9" stroke="#383838"/>
<path d="M965.7 126.8h8.9M982.3 135.2h8.9M890.8 201.7h8.9M1040.5 243.3h8.9M874.2 268.3h8.9M890.8 284.9h8.9M890.8 301.5h8.9M899.1 309.9h8.9M1015.6 318.2h8.9" stroke="#393939"/>
<path d="M899.1 193.4h8.9M890.8 226.7h8.9M890.8 276.6h8.9M1040.5 284.9h8.9M1173.7 309.9h8.9M1198.6 309.9h8.9M990.6 334.8h8.9M932.4 343.1h8.9" stroke="#3a3a3a"/>
<path d="M924.1 160.1h8.9M1015.6 176.8h8.9M1048.9 210h8.9M1040.5 218.4h8.9M890.8 235h8.9M874.2 260h8.9M1040.5 268.3h8.9M890.8 293.2h8.9M1182 301.5h17.2M1182 318.2h17.2M924.1 334.8h8.9" stroke="#3b3b3b"/>
<path d="M890.8 210h8.9M890.8 218.4h8.9M882.5 251.6h8.9M1040.5 276.6h8.9M1023.9 301.5h8.9" stroke="#3c3c3c"/>
<path d="M932.4 151.8h8.9M907.4 185.1h8.9M1032.2 201.7h8.9M1032.2 251.6h8.9M1032.2 260h8.9M882.5 268.3h8.9M899.1 284.9h8.9M1032.2 293.2h8.9M899.1 301.5h8.9M907.4 309.9h8.9M1015.6 309.9h8.9M915.8 318.2h8.9M974 343.1h8.9" stroke="#3d3d3d"/>
<path d="M949 135.2h8.9M1023.9 193.4h8.9M1040.5 210h8.9M890.8 243.3h8.9M899.1 276.6h8.9M1182 309.9h17.2M999 326.5h8.9M940.7 343.1h8.9" stroke="#3e3e3e"/>
<path d="M940.7 143.5h8.9M1032.2 226.7h8.9M1032.2 235h8.9M1032.2 243.3h8.9M1032.2 268.3h8.9M1032.2 276.6h8.9M1032.2 284.9h8.9M899.1 293.2h8.9" stroke="#3f3f3f"/>
<path d="M1007.3 168.4h8.9M899.1 201.7h8.9M882.5 260h8.9M1007.3 318.2h8.9M924.1 326.5h8.9M949 343.1h8.9M965.7 343.1h8.9" stroke="#404040"/>
<path d="M1032.2 218.4h8.9M890.8 268.3h8.9M957.4 343.1h8.9" stroke="#414141"/>
<path d="M974 135.2h8.9M999 160.1h8.9M915.8 176.8h8.9M907.4 301.5h8.9M932.4 334.8h8.9M982.3 334.8h8.9" stroke="#424242"/>
<path d="M1032.2 210h8.9M890.8 251.6h8.9M1023.9 293.2h8.9M915.8 309.9h8.9" stroke="#434343"/>
<path d="M990.6 151.8h8.9M1015.6 185.1h8.9M899.1 226.7h8.9M907.4 284.9h8.9M1015.6 301.5h8.9" stroke="#444444"/>
<path d="M957.4 135.2h8.9M899.1 235h8.9M890.8 260h8.9M899.1 268.3h8.9M907.4 276.6h8.9M907.4 293.2h8.9M924.1 318.2h8.9" stroke="#454545"/>
<path d="M982.3 143.5h8.9M907.4 193.4h8.9M1023.9 201.7h8.9M899.1 210h8.9M1023.9 260h8.9M1023.9 268.3h8.9M1023.9 276.6h8.9M1023.9 284.9h8.9M1007.3 309.9h8.9" stroke="#464646"/>
<path d="M965.7 135.2h8.9M899.1 218.4h8.9M1023.9 251.6h8.9M990.6 326.5h8.9" stroke="#474747"/>
<path d="M924.1 168.4h8.9M940.7 334.8h8.9" stroke="#484848"/>
<path d="M899.1 243.3h8.9M915.8 301.5h8.9M932.4 326.5h8.9M974 334.8h8.9" stroke="#494949"/>
<path d="M932.4 160.1h8.9M1023.9 243.3h8.9M999 318.2h8.9" stroke="#4a4a4a"/>
<path d="M1023.9 226.7h8.9M1023.9 235h8.9M899.1 251.6h8.9M899.1 260h8.9M924.1 309.9h8.9" stroke="#4b4b4b"/>
<path d="M949 143.5h8.9M940.7 151.8h8.9M1007.3 176.8h8.9M1015.6 193.4h8.9M1023.9 210h8.9M1023.9 218.4h8.9M949 334.8h8.9" stroke="#4c4c4c"/>
<path d="M907.4 201.7h8.9M907.4 268.3h8.9M1015.6 293.2h8.9M965.7 334.8h8.9" stroke="#4d4d4d"/>
<path d="M915.8 185.1h8.9M957.4 334.8h8.9" stroke="#4e4e4e"/>
<path d="M915.8 293.2h8.9M932.4 318.2h8.9" stroke="#4f4f4f"/>
<path d="M1007.3 301.5h8.9" stroke="#505050"/>
<path d="M974 143.5h8.9M915.8 284.9h8.9M1015.6 284.9h8.9M940.7 326.5h8.9M982.3 326.5h8.9" stroke="#515151"/>
<path d="M999 168.4h8.9M915.8 276.6h8.9M1015.6 276.6h8.9" stroke="#525252"/>
<path d="M990.6 160.1h8.9M1015.6 268.3h8.9M999 309.9h8.9" stroke="#535353"/>
<path d="M957.4 143.5h8.9M982.3 151.8h8.9M907.4 210h8.9M907.4 226.7h8.9M907.4 260h8.9M1015.6 260h8.9" stroke="#545454"/>
<path d="M924.1 176.8h8.9M907.4 235h8.9M924.1 301.5h8.9M990.6 318.2h8.9" stroke="#555555"/>
<path d="M965.7 143.5h8.9M1015.6 201.7h8.9" stroke="#565656"/>
<path d="M1007.3 185.1h8.9M907.4 218.4h8.9M907.4 243.3h8.9M907.4 251.6h8.9M1015.6 251.6h8.9M932.4 309.9h8.9" stroke="#575757"/>
<path d="M915.8 193.4h8.9" stroke="#585858"/>
<path d="M949 151.8h8.9M949 326.5h8.9M974 326.5h8.9" stroke="#595959"/>
<path d="M915.8 268.3h8.9M940.7 318.2h8.9" stroke="#5a5a5a"/>
<path d="M940.7 160.1h8.9M932.4 168.4h8.9" stroke="#5b5b5b"/>
<path d="M1015.6 243.3h8.9M1007.3 293.2h8.9" stroke="#5c5c5c"/>
<path d="M1015.6 210h8.9M957.4 326.5h17.2" stroke="#5d5d5d"/>
<path d="M1015.6 218.4h8.9M1015.6 226.7h8.9M1015.6 235h8.9" stroke="#5e5e5e"/>
<path d="M974 151.8h8.9M915.8 201.7h8.9M924.1 293.2h8.9" stroke="#5f5f5f"/>
<path d="M999 301.5h8.9M982.3 318.2h8.9" stroke="#606060"/>
<path d="M999 176.8h8.9" stroke="#616161"/>
<path d="M1007.3 193.4h8.9M915.8 260h8.9M1007.3 284.9h8.9M990.6 309.9h8.9" stroke="#626262"/>
<path d="M957.4 151.8h8.9" stroke="#636363"/>
<path d="M982.3 160.1h8.9M924.1 185.1h8.9M1007.3 276.6h8.9M924.1 284.9h8.9" stroke="#646464"/>
<path d="M965.7 151.8h8.9M932.4 301.5h8.9M949 318.2h8.9" stroke="#656565"/>
<path d="M990.6 168.4h8.9M940.7 309.9h8.9" stroke="#666666"/>
<path d="M1007.3 268.3h8.9M924.1 276.6h8.9" stroke="#676767"/>
<path d="M915.8 210h8.9M915.8 251.6h8.9" stroke="#686868"/>
<path d="M1007.3 260h8.9" stroke="#696969"/>
<path d="M915.8 226.7h8.9M915.8 235h8.9M974 318.2h8.9" stroke="#6a6a6a"/>
<path d="M949 160.1h8.9M915.8 243.3h8.9" stroke="#6b6b6b"/>
<path d="M915.8 218.4h8.9" stroke="#6c6c6c"/>
<path d="M932.4 176.8h8.9M1007.3 201.7h8.9M957.4 318.2h8.9" stroke="#6d6d6d"/>
<path d="M1007.3 251.6h8.9M924.1 268.3h8.9M999 293.2h8.9M965.7 318.2h8.9" stroke="#6e6e6e"/>
<path d="M940.7 168.4h8.9M999 185.1h8.9" stroke="#707070"/>
<path d="M974 160.1h8.9M924.1 193.4h8.9M982.3 309.9h8.9" stroke="#717171"/>
<path d="M990.6 301.5h8.9" stroke="#727272"/>
<path d="M949 309.9h8.9" stroke="#747474"/>
<path d="M957.4 160.1h8.9M1007.3 210h8.9M1007.3 243.3h8.9M932.4 293.2h8.9" stroke="#757575"/>
<path d="M965.7 160.1h8.9M1007.3 218.4h8.9M924.1 260h8.9M999 284.9h8.9" stroke="#777777"/>
<path d="M1007.3 226.7h8.9M1007.3 235h8.9M940.7 301.5h8.9" stroke="#787878"/>
<path d="M924.1 201.7h8.9" stroke="#797979"/>
<path d="M982.3 168.4h8.9M990.6 176.8h8.9" stroke="#7a7a7a"/>
<path d="M974 309.9h8.9" stroke="#7b7b7b"/>
<path d="M999 276.6h8.9" stroke="#7c7c7c"/>
<path d="M932.4 284.9h8.9" stroke="#7d7d7d"/>
<path d="M999 193.4h8.9M957.4 309.9h8.9" stroke="#7e7e7e"/>
<path d="M932.4 185.1h8.9" stroke="#7f7f7f"/>
<path d="M924.1 251.6h8.9M999 268.3h8.9M965.7 309.9h8.9" stroke="#808080"/>
<path d="M924.1 210h8.9" stroke="#818181"/>
<path d="M949 168.4h8.9M932.4 276.6h8.9M990.6 293.2h8.9" stroke="#828282"/>
<path d="M999 260h8.9M982.3 301.5h8.9" stroke="#848484"/>
<path d="M924.1 243.3h8.9" stroke="#858585"/>
<path d="M940.7 176.8h8.9M924.1 218.4h8.9M924.1 226.7h8.9M924.1 235h8.9" stroke="#868686"/>
<path d="M932.4 268.3h8.9M949 301.5h8.9" stroke="#898989"/>
<path d="M974 168.4h8.9" stroke="#8a8a8a"/>
<path d="M999 201.7h8.9M999 251.6h8.9M940.7 293.2h8.9" stroke="#8b8b8b"/>
<path d="M990.6 185.1h8.9M990.6 284.9h8.9" stroke="#8e8e8e"/>
<path d="M957.4 168.4h8.9M932.4 193.4h8.9" stroke="#8f8f8f"/>
<path d="M974 301.5h8.9" stroke="#919191"/>
<path d="M965.7 168.4h8.9" stroke="#929292"/>
<path d="M982.3 176.8h8.9M999 210h8.9M932.4 260h8.9" stroke="#939393"/>
<path d="M999 243.3h8.9M957.4 301.5h8.9" stroke="#949494"/>
<path d="M999 218.4h8.9" stroke="#959595"/>
<path d="M990.6 276.6h8.9M982.3 293.2h8.9" stroke="#969696"/>
<path d="M965.7 301.5h8.9" stroke="#979797"/>
<path d="M999 226.7h8.9M940.7 284.9h8.9" stroke="#989898"/>
<path d="M932.4 201.7h8.9M999 235h8.9" stroke="#999999"/>
<path d="M990.6 268.3h8.9" stroke="#9c9c9c"/>
<path d="M949 176.8h8.9M940.7 185.1h8.9M932.4 251.6h8.9" stroke="#9d9d9d"/>
<path d="M940.7 276.6h8.9" stroke="#9e9e9e"/>
<path d="M990.6 193.4h8.9M949 293.2h8.9" stroke="#9f9f9f"/>
<path d="M932.4 210h8.9" stroke="#a0a0a0"/>
<path d="M990.6 260h8.9" stroke="#a3a3a3"/>
<path d="M932.4 243.3h8.9" stroke="#a4a4a4"/>
<path d="M932.4 218.4h8.9M982.3 284.9h8.9" stroke="#a5a5a5"/>
<path d="M932.4 226.7h8.9M932.4 235h8.9M974 293.2h8.9" stroke="#a6a6a6"/>
<path d="M974 176.8h8.9M940.7 268.3h8.9" stroke="#a7a7a7"/>
<path d="M982.3 185.1h8.9M990.6 251.6h8.9" stroke="#ababab"/>
<path d="M957.4 176.8h8.9M990.6 201.7h8.9M957.4 293.2h8.9" stroke="#acacac"/>
<path d="M982.3 276.6h8.9M949 284.9h8.9M965.7 293.2h8.9" stroke="#afafaf"/>
<path d="M965.7 176.8h8.9M940.7 193.4h8.9" stroke="#b0b0b0"/>
<path d="M940.7 260h8.9" stroke="#b2b2b2"/>
<path d="M990.6 210h8.9" stroke="#b3b3b3"/>
<path d="M990.6 218.4h8.9M990.6 243.3h8.9" stroke="#b6b6b6"/>
<path d="M949 185.1h8.9M974 284.9h8.9" stroke="#b7b7b7"/>
<path d="M982.3 268.3h8.9M949 276.6h8.9" stroke="#b8b8b8"/>
<path d="M940.7 201.7h8.9M990.6 226.7h8.9" stroke="#bbbbbb"/>
<path d="M940.7 251.6h8.9" stroke="#bcbcbc"/>
<path d="M990.6 235h8.9" stroke="#bdbdbd"/>
<path d="M957.4 284.9h8.9" stroke="#bebebe"/>
<path d="M982.3 193.4h8.9" stroke="#bfbfbf"/>
<path d="M982.3 260h8.9" stroke="#c0c0c0"/>
<path d="M940.7 210h8.9M949 268.3h8.9M965.7 284.9h8.9" stroke="#c1c1c1"/>
<path d="M974 185.1h8.9" stroke="#c2c2c2"/>
<path d="M974 276.6h8.9" stroke="#c3c3c3"/>
<path d="M940.7 243.3h8.9" stroke="#c4c4c4"/>
<path d="M940.7 218.4h8.9" stroke="#c5c5c5"/>
<path d="M940.7 226.7h8.9" stroke="#c7c7c7"/>
<path d="M940.7 235h8.9M957.4 276.6h8.9" stroke="#c8c8c8"/>
<path d="M957.4 185.1h8.9" stroke="#c9c9c9"/>
<path d="M982.3 251.6h8.9" stroke="#cacaca"/>
<path d="M982.3 201.7h8.9M949 260h8.9M974 268.3h8.9M965.7 276.6h8.9" stroke="#cccccc"/>
<path d="M965.7 185.1h8.9M949 193.4h8.9" stroke="#cdcdcd"/>
<path d="M982.3 210h8.9M957.4 268.3h8.9" stroke="#d2d2d2"/>
<path d="M982.3 218.4h8.9" stroke="#d5d5d5"/>
<path d="M974 260h8.9M965.7 268.3h8.9" stroke="#d6d6d6"/>
<path d="M982.3 243.3h8.9M949 251.6h8.9" stroke="#d7d7d7"/>
<path d="M974 193.4h8.9" stroke="#d8d8d8"/>
<path d="M949 201.7h8.9" stroke="#dadada"/>
<path d="M982.3 226.7h8.9" stroke="#dbdbdb"/>
<path d="M982.3 235h8.9M957.4 260h8.9" stroke="#dddddd"/>
<path d="M949 210h8.9" stroke="#dfdfdf"/>
<path d="M957.4 193.4h8.9M965.7 260h8.9" stroke="#e0e0e0"/>
<path d="M949 243.3h8.9" stroke="#e1e1e1"/>
<path d="M949 218.4h8.9M974 251.6h8.9" stroke="#e2e2e2"/>
<path d="M949 226.7h8.9" stroke="#e4e4e4"/>
<path d="M965.7 193.4h8.9M974 201.7h8.9M949 235h8.9" stroke="#e5e5e5"/>
<path d="M957.4 251.6h8.9" stroke="#e9e9e9"/>
<path d="M974 210h8.9" stroke="#eaeaea"/>
<path d="M957.4 201.7h8.9M974 218.4h8.9M965.7 251.6h8.9" stroke="#ededed"/>
<path d="M974 243.3h8.9" stroke="#efefef"/>
<path d="M965.7 201.7h8.9" stroke="#f1f1f1"/>
<path d="M957.4 210h8.9M974 226.7h8.9" stroke="#f2f2f2"/>
<path d="M957.4 243.3h8.9" stroke="#f4f4f4"/>
<path d="M957.4 218.4h8.9M974 235h8.9" stroke="#f5f5f5"/>
<path d="M965.7 210h8.9" stroke="#f6f6f6"/>
<path d="M957.4 226.7h8.9" stroke="#f7f7f7"/>
<path d="M965.7 218.4h8.9" stroke="#f8f8f8"/>
<path d="M957.4 235h8.9M965.7 243.3h8.9" stroke="#f9f9f9"/>
<path d="M965.7 226.7h8.9" stroke="#fdfdfd"/>
<path d="M965.7 235h8.9" stroke="#ffffff"/>
</g>
<path d="M851.5 47.81V580.24M1048.5 47.81V580.24" stroke="#fff" stroke-width="1" fill="none" shape-rendering="crispEdges"/>
<path d="M912.51 580.24V47.81" stroke="#006400" stroke-width="1.5" stroke-dasharray="6 6" stroke-linecap="round" fill="none"/>
<path d="M1018.89 580.24V47.81" stroke="#006400" stroke-width="1.5" stroke-dasharray="6 6" stroke-linecap="round" fill="none"/>
<path d="M699.76 368.96H1232.19" stroke="#CD2020" stroke-width="1.5" stroke-dasharray="6 6" stroke-linecap="round" fill="none"/>
</g>
<g filter="url(#noop)"><rect x="699.76" y="47.81" width="532.43" height="532.43" fill="none" stroke="#000" stroke-width=".75"/>
<path d="M749.70 580.24H1181.70M749.70 580.24v5.98M857.70 580.24v5.98M965.70 580.24v5.98M1073.70 580.24v5.98M1181.70 580.24v5.98M699.76 567.56V145.00M699.76 567.56h-5.98M699.76 461.92h-5.98M699.76 356.28h-5.98M699.76 250.64h-5.98M699.76 145.00h-5.98" fill="none" stroke="#000" stroke-width=".75"/>
<g font-size="10.6" text-anchor="middle">
<text x="749.70" y="601.75">-400</text>
<text x="857.70" y="601.75">-200</text>
<text x="965.70" y="601.75">0</text>
<text x="1073.70" y="601.75">200</text>
<text x="1181.70" y="601.75">400</text>
<text transform="translate(685.42 567.56) rotate(-90)">75</text>
<text transform="translate(685.42 461.92) rotate(-90)">80</text>
<text transform="translate(685.42 356.28) rotate(-90)">85</text>
<text transform="translate(685.42 250.64) rotate(-90)">90</text>
<text transform="translate(685.42 145.00) rotate(-90)">95</text>
</g>
<g font-size="15.94" text-anchor="middle">
<text x="965.98" y="625.66">Distance to peak summit</text>
<text transform="translate(661.51 314.02) rotate(-90)">Motif score</text>
</g>
<text x="965.98" y="31.80" font-size="21.45" font-weight="bold" text-anchor="middle">Density heat map for the top hits</text></g>
</g>
<g id="p3">
<g clip-path="url(#c3)"><path d="M79.5 1200.5C81.8 1200.5 89.6 1200.4 93.0 1200.3C96.4 1200.2 97.7 1200.0 100.0 1200.0C102.3 1200.0 102.0 1200.2 107.0 1200.3C112.0 1200.4 122.8 1200.5 130.0 1200.4C137.2 1200.4 144.5 1200.2 150.0 1200.0C155.5 1199.8 159.5 1199.6 163.0 1199.5C166.5 1199.4 168.3 1199.2 171.0 1199.2C173.7 1199.2 176.6 1199.4 179.0 1199.5C181.4 1199.6 183.4 1199.7 185.5 1199.6C187.6 1199.5 189.6 1199.1 191.3 1198.7C193.1 1198.3 194.6 1197.8 196.0 1197.2C197.4 1196.6 197.9 1196.3 200.0 1195.1C202.1 1193.9 205.9 1191.5 208.8 1190.2C211.7 1188.9 214.9 1188.3 217.5 1187.0C220.1 1185.7 221.2 1185.4 224.1 1182.6C227.0 1179.8 231.3 1174.9 235.0 1169.9C238.7 1164.9 242.9 1157.5 246.0 1152.4C249.1 1147.3 251.4 1143.7 253.6 1139.3C255.8 1134.9 256.7 1133.1 259.1 1126.2C261.5 1119.3 264.5 1109.0 267.8 1097.7C271.1 1086.4 275.2 1072.1 278.8 1058.3C282.4 1044.5 286.1 1031.2 289.7 1014.6C293.3 998.0 297.6 972.3 300.5 958.5C303.4 944.7 304.9 941.7 307.3 931.8C309.7 921.9 312.2 911.4 315.0 899.0C317.8 886.6 320.9 871.6 323.8 857.4C326.7 843.2 329.9 826.7 332.5 813.6C335.1 800.5 337.3 787.4 339.1 778.6C340.9 769.9 341.9 766.6 343.4 761.1C344.8 755.6 346.3 750.0 347.8 745.8C349.3 741.6 350.4 738.9 352.2 736.0C354.0 733.1 356.2 730.6 358.8 728.3C361.4 726.0 364.6 724.3 367.5 722.4C370.4 720.5 373.8 718.8 376.3 717.0C378.9 715.2 380.8 713.0 382.8 711.5C384.8 710.0 386.8 709.0 388.3 708.3C389.8 707.6 390.5 707.4 391.6 707.5C392.7 707.6 393.6 707.6 394.9 708.7C396.2 709.8 397.6 711.6 399.2 714.1C400.8 716.6 402.7 720.0 404.7 724.0C406.7 728.0 409.1 732.0 411.3 738.2C413.5 744.4 415.6 752.9 417.8 761.1C420.0 769.3 422.6 779.0 424.4 787.4C426.2 795.8 427.4 802.4 428.8 811.5C430.2 820.6 431.7 831.2 433.1 842.1C434.6 853.0 436.0 865.8 437.5 877.1C439.0 888.4 440.5 899.5 441.9 909.9C443.3 920.3 444.4 929.0 446.1 939.5C447.8 950.0 450.1 962.0 452.2 973.0C454.3 984.0 456.2 993.8 458.8 1005.8C461.4 1017.8 464.6 1033.2 467.5 1045.2C470.4 1057.2 473.4 1067.8 476.3 1078.0C479.2 1088.2 482.4 1098.8 485.0 1106.5C487.6 1114.2 489.2 1118.7 491.6 1124.0C494.0 1129.3 496.8 1133.7 499.2 1138.2C501.6 1142.8 503.8 1146.9 505.8 1151.3C507.8 1155.7 509.3 1160.0 511.3 1164.4C513.3 1168.8 515.6 1173.8 517.8 1177.6C520.0 1181.4 522.2 1184.6 524.4 1187.0C526.6 1189.4 528.3 1190.6 530.9 1191.8C533.5 1193.0 536.8 1193.1 539.7 1194.0C542.6 1194.9 545.5 1196.2 548.4 1197.2C551.3 1198.2 553.2 1199.5 557.2 1200.1C561.2 1200.6 570.0 1200.4 572.5 1200.5Z" fill="#F5DEB3" stroke="#000" stroke-width=".95" stroke-linejoin="round"/>
<path d="M279.76 1220.24V687.81" stroke="#CD2020" stroke-width="1.5" stroke-dasharray="6 6" stroke-linecap="round" fill="none"/>
</g>
<g filter="url(#noop)"><rect x="59.76" y="687.81" width="532.43" height="532.43" fill="none" stroke="#000" stroke-width=".75"/>
<path d="M112.25 1220.24H557.75M112.25 1220.24v5.98M201.35 1220.24v5.98M290.45 1220.24v5.98M379.55 1220.24v5.98M468.65 1220.24v5.98M557.75 1220.24v5.98M59.76 1200.52V773.02M59.76 1200.52h-5.98M59.76 1115.02h-5.98M59.76 1029.52h-5.98M59.76 944.02h-5.98M59.76 858.52h-5.98M59.76 773.02h-5.98" fill="none" stroke="#000" stroke-width=".75"/>
<g font-size="10.6" text-anchor="middle">
<text x="112.25" y="1241.75">75</text>
<text x="201.35" y="1241.75">80</text>
<text x="290.45" y="1241.75">85</text>
<text x="379.55" y="1241.75">90</text>
<text x="468.65" y="1241.75">95</text>
<text x="557.75" y="1241.75">100</text>
<text transform="translate(45.42 1200.52) rotate(-90)">0.00</text>
<text transform="translate(45.42 1115.02) rotate(-90)">0.02</text>
<text transform="translate(45.42 1029.52) rotate(-90)">0.04</text>
<text transform="translate(45.42 944.02) rotate(-90)">0.06</text>
<text transform="translate(45.42 858.52) rotate(-90)">0.08</text>
<text transform="translate(45.42 773.02) rotate(-90)">0.10</text>
</g>
<g font-size="15.94" text-anchor="middle">
<text x="325.98" y="1265.66">Motif score</text>
<text transform="translate(21.51 954.02) rotate(-90)">Density</text>
</g>
<text x="325.98" y="671.80" font-size="21.62" font-weight="bold" text-anchor="middle">Motif score threshold: 84.400</text></g>
</g>
<g id="p4">
<g clip-path="url(#c4)"><path d="M719.5 1200.5C720.6 1200.4 724.1 1200.8 726.3 1199.9C728.5 1199.0 730.6 1197.9 732.8 1195.1C735.0 1192.3 737.2 1188.7 739.4 1183.0C741.6 1177.3 743.7 1169.2 745.9 1161.2C748.1 1153.2 750.3 1142.2 752.5 1134.9C754.7 1127.6 757.1 1121.7 759.1 1117.4C761.1 1113.1 762.7 1111.0 764.5 1109.3C766.3 1107.6 768.0 1107.5 770.0 1107.3C772.0 1107.1 774.4 1108.0 776.6 1108.2C778.8 1108.4 780.6 1109.0 783.1 1108.6C785.6 1108.2 788.6 1107.1 791.9 1105.8C795.2 1104.5 799.1 1102.4 802.8 1101.0C806.4 1099.6 810.1 1098.1 813.8 1097.3C817.4 1096.5 821.1 1096.5 824.7 1096.2C828.3 1095.9 832.0 1096.0 835.6 1095.3C839.2 1094.6 843.3 1093.0 846.6 1092.2C849.9 1091.4 852.4 1090.8 855.3 1090.7C858.2 1090.6 861.2 1091.5 864.1 1091.8C867.0 1092.1 869.9 1092.7 872.8 1092.5C875.7 1092.3 878.7 1091.7 881.6 1090.7C884.5 1089.7 887.4 1088.4 890.3 1086.3C893.2 1084.2 896.5 1081.2 899.1 1078.0C901.7 1074.8 903.4 1071.8 905.6 1067.1C907.8 1062.4 910.0 1056.5 912.2 1049.6C914.4 1042.7 917.0 1033.2 918.8 1025.5C920.6 1017.8 921.6 1011.6 923.1 1003.6C924.6 995.6 926.3 984.6 927.5 977.4C928.7 970.2 929.0 969.6 930.3 960.2C931.6 950.8 933.7 934.0 935.3 920.9C936.9 907.8 938.2 894.6 939.7 881.5C941.2 868.4 942.7 855.2 944.1 842.1C945.5 829.0 947.0 815.5 948.4 802.7C949.8 789.9 951.3 776.8 952.8 765.5C954.3 754.2 955.9 742.7 957.2 734.9C958.5 727.1 959.4 722.8 960.5 718.5C961.6 714.2 962.8 711.1 963.7 709.3C964.6 707.5 965.1 707.5 965.9 707.5C966.7 707.5 967.5 707.5 968.5 709.3C969.5 711.1 970.8 714.2 972.0 718.5C973.2 722.8 974.4 727.1 975.7 734.9C977.1 742.7 978.7 754.2 980.1 765.5C981.5 776.8 983.0 789.9 984.4 802.7C985.8 815.5 987.3 829.0 988.8 842.1C990.3 855.2 991.7 868.4 993.2 881.5C994.7 894.6 996.2 907.8 997.6 920.9C999.0 934.0 1000.6 949.7 1001.8 960.2C1003.0 970.7 1003.8 976.4 1005.0 984.0C1006.2 991.6 1007.3 998.5 1008.8 1005.8C1010.3 1013.1 1011.9 1020.8 1013.8 1027.7C1015.7 1034.6 1018.0 1041.4 1020.4 1047.4C1022.8 1053.4 1025.3 1058.9 1028.0 1063.8C1030.7 1068.7 1033.9 1073.2 1036.8 1076.9C1039.7 1080.6 1042.6 1083.6 1045.5 1085.7C1048.4 1087.8 1051.4 1089.2 1054.3 1089.8C1057.2 1090.4 1060.1 1089.8 1063.0 1089.6C1065.9 1089.4 1068.9 1088.4 1071.8 1088.7C1074.7 1089.0 1077.2 1090.3 1080.5 1091.6C1083.8 1092.9 1087.5 1094.8 1091.5 1096.4C1095.5 1098.0 1100.2 1099.4 1104.6 1101.0C1109.0 1102.6 1113.7 1104.6 1117.7 1105.8C1121.7 1107.0 1124.6 1107.6 1128.6 1108.2C1132.6 1108.8 1137.8 1109.0 1141.8 1109.3C1145.8 1109.6 1149.8 1109.8 1152.7 1110.0C1155.6 1110.2 1157.1 1110.0 1159.3 1110.8C1161.5 1111.6 1163.8 1112.8 1165.8 1114.6C1167.8 1116.4 1169.5 1118.4 1171.3 1121.8C1173.1 1125.2 1175.0 1129.8 1176.8 1134.9C1178.6 1140.0 1180.4 1146.2 1182.2 1152.4C1184.0 1158.6 1185.9 1166.3 1187.7 1172.1C1189.5 1177.9 1191.4 1183.4 1193.2 1187.4C1195.0 1191.4 1196.6 1194.0 1198.6 1196.1C1200.6 1198.2 1202.9 1199.2 1205.2 1199.9C1207.5 1200.6 1211.3 1200.4 1212.5 1200.5Z" fill="#F5DEB3" stroke="#000" stroke-width=".95" stroke-linejoin="round"/>
<path d="M922.40 1220.24V687.81" stroke="#006400" stroke-width="1.5" stroke-dasharray="6 6" stroke-linecap="round" fill="none"/>
<path d="M1009.00 1220.24V687.81" stroke="#006400" stroke-width="1.5" stroke-dasharray="6 6" stroke-linecap="round" fill="none"/>
</g>
<path d="M1017.4 703.4H1041.2" stroke="#006400" stroke-width="1.125" stroke-dasharray="1.125 3.375" stroke-linecap="round"/>
<path d="M1017.4 718.9H1041.2" stroke="#CD2020" stroke-width="1.125" stroke-dasharray="1.125 3.375" stroke-linecap="round" stroke-opacity=".8"/>
<ellipse cx="1029" cy="734.5" rx="2.95" ry="2.7" fill="#00f"/>
<g font-size="12.95" filter="url(#noop)"><text x="1052" y="707.6">enrichment zone = 98.5</text><text x="1052" y="723.2">motif score threshold = 84.400</text><text x="1052" y="738.7">centrality p-val = -11.5707</text></g>
<g filter="url(#noop)"><rect x="699.76" y="687.81" width="532.43" height="532.43" fill="none" stroke="#000" stroke-width=".75"/>
<path d="M701.94 1220.24H1229.46M701.94 1220.24v5.98M789.86 1220.24v5.98M877.78 1220.24v5.98M965.70 1220.24v5.98M1053.62 1220.24v5.98M1141.54 1220.24v5.98M1229.46 1220.24v5.98M699.76 1200.52V734.32M699.76 1200.52h-5.98M699.76 1122.82h-5.98M699.76 1045.12h-5.98M699.76 967.42h-5.98M699.76 889.72h-5.98M699.76 812.02h-5.98M699.76 734.32h-5.98" fill="none" stroke="#000" stroke-width=".75"/>
<g font-size="10.6" text-anchor="middle">
<text x="701.94" y="1241.75">-600</text>
<text x="789.86" y="1241.75">-400</text>
<text x="877.78" y="1241.75">-200</text>
<text x="965.70" y="1241.75">0</text>
<text x="1053.62" y="1241.75">200</text>
<text x="1141.54" y="1241.75">400</text>
<text x="1229.46" y="1241.75">600</text>
<text transform="translate(685.42 1200.52) rotate(-90)">0.0000</text>
<text transform="translate(685.42 1122.82) rotate(-90)">0.0005</text>
<text transform="translate(685.42 1045.12) rotate(-90)">0.0010</text>
<text transform="translate(685.42 967.42) rotate(-90)">0.0015</text>
<text transform="translate(685.42 889.72) rotate(-90)">0.0020</text>
<text transform="translate(685.42 812.02) rotate(-90)">0.0025</text>
<text transform="translate(685.42 734.32) rotate(-90)">0.0030</text>
</g>
<g font-size="15.94" text-anchor="middle">
<text x="965.98" y="1265.66">Distance to peak summit</text>
<text transform="translate(661.51 954.02) rotate(-90)">Density</text>
</g>
<text x="965.98" y="671.80" font-size="21.45" font-weight="bold" text-anchor="middle">Enrichment zone: 98.50</text></g>
</g>
</svg>
</body></html>
